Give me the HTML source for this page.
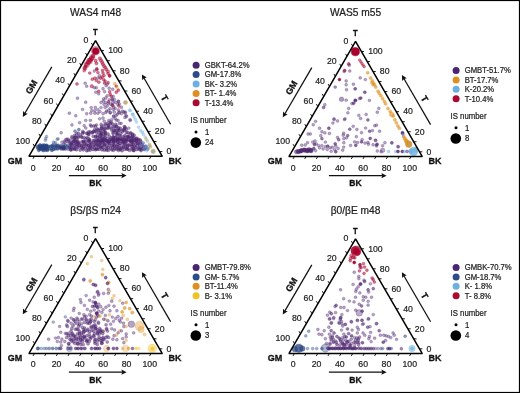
<!DOCTYPE html>
<html><head><meta charset="utf-8"><style>
html,body{margin:0;padding:0;background:#fff;}
body{width:520px;height:393px;overflow:hidden;}
svg{display:block;font-family:"Liberation Sans", sans-serif;will-change:transform;}
</style></head><body>
<svg width="520" height="393" viewBox="0 0 520 393">
<rect x="0" y="0" width="520" height="393" fill="#fff"/>
<g transform="translate(0 0)">
<text x="95.6" y="15.8" font-size="10.2" text-anchor="middle" fill="#222" stroke="#222" stroke-width="0.22">WAS4 m48</text>
<g stroke-width="0.6">
<circle cx="95.65" cy="50.78" r="4.3" fill="#a8002c" fill-opacity="0.42" stroke="#a8002c" stroke-opacity="0.42"/>
<circle cx="95.65" cy="51.16" r="3.2" fill="#a8002c" fill-opacity="1" stroke="#a8002c" stroke-opacity="1"/>
<circle cx="92.21" cy="57.27" r="2.7" fill="#a8002c" fill-opacity="0.32" stroke="#a8002c" stroke-opacity="0.32"/>
<circle cx="89.54" cy="61.08" r="3.1" fill="#a8002c" fill-opacity="0.32" stroke="#a8002c" stroke-opacity="0.32"/>
<circle cx="86.87" cy="64.52" r="2.9" fill="#a8002c" fill-opacity="0.32" stroke="#a8002c" stroke-opacity="0.32"/>
<circle cx="84.96" cy="67.95" r="2.3" fill="#a8002c" fill-opacity="0.32" stroke="#a8002c" stroke-opacity="0.32"/>
<circle cx="92.98" cy="56.12" r="1.9" fill="#a8002c" fill-opacity="0.64" stroke="#a8002c" stroke-opacity="0.64"/>
<circle cx="91.45" cy="58.41" r="2.2" fill="#a8002c" fill-opacity="0.64" stroke="#a8002c" stroke-opacity="0.64"/>
<circle cx="89.92" cy="60.32" r="2.3" fill="#a8002c" fill-opacity="0.64" stroke="#a8002c" stroke-opacity="0.64"/>
<circle cx="88.4" cy="62.23" r="2.2" fill="#a8002c" fill-opacity="0.6" stroke="#a8002c" stroke-opacity="0.6"/>
<circle cx="86.49" cy="64.52" r="1.9" fill="#a8002c" fill-opacity="0.55" stroke="#a8002c" stroke-opacity="0.55"/>
<circle cx="85.34" cy="66.81" r="1.7" fill="#a8002c" fill-opacity="0.51" stroke="#a8002c" stroke-opacity="0.51"/>
<circle cx="84.58" cy="68.72" r="1.6" fill="#a8002c" fill-opacity="0.47" stroke="#a8002c" stroke-opacity="0.47"/>
<circle cx="84.2" cy="70.63" r="1.5" fill="#a8002c" fill-opacity="0.42" stroke="#a8002c" stroke-opacity="0.42"/>
<circle cx="95.65" cy="60.7" r="1.6" fill="#a8002c" fill-opacity="0.53" stroke="#a8002c" stroke-opacity="0.53"/>
<circle cx="96.41" cy="63.37" r="1.6" fill="#a8002c" fill-opacity="0.53" stroke="#a8002c" stroke-opacity="0.53"/>
<circle cx="96.79" cy="68.72" r="1.5" fill="#a8002c" fill-opacity="0.48" stroke="#a8002c" stroke-opacity="0.48"/>
<circle cx="99.85" cy="58.41" r="1.7" fill="#a8002c" fill-opacity="0.48" stroke="#a8002c" stroke-opacity="0.48"/>
<circle cx="100.99" cy="60.32" r="1.7" fill="#a8002c" fill-opacity="0.48" stroke="#a8002c" stroke-opacity="0.48"/>
<circle cx="102.14" cy="62.23" r="1.7" fill="#a8002c" fill-opacity="0.48" stroke="#a8002c" stroke-opacity="0.48"/>
<circle cx="102.9" cy="64.14" r="1.7" fill="#a8002c" fill-opacity="0.48" stroke="#a8002c" stroke-opacity="0.48"/>
<circle cx="104.05" cy="66.05" r="1.7" fill="#a8002c" fill-opacity="0.48" stroke="#a8002c" stroke-opacity="0.48"/>
<circle cx="105.19" cy="67.57" r="1.7" fill="#a8002c" fill-opacity="0.48" stroke="#a8002c" stroke-opacity="0.48"/>
<circle cx="106.34" cy="69.48" r="1.7" fill="#a8002c" fill-opacity="0.48" stroke="#a8002c" stroke-opacity="0.48"/>
<circle cx="107.86" cy="71.39" r="1.7" fill="#a8002c" fill-opacity="0.48" stroke="#a8002c" stroke-opacity="0.48"/>
<circle cx="89.77" cy="73.1" r="1.45" fill="#a8002c" fill-opacity="0.53" stroke="#a8002c" stroke-opacity="0.53"/>
<circle cx="96.89" cy="69.53" r="1.45" fill="#a8002c" fill-opacity="0.53" stroke="#a8002c" stroke-opacity="0.53"/>
<circle cx="97.91" cy="72.59" r="1.45" fill="#a8002c" fill-opacity="0.53" stroke="#a8002c" stroke-opacity="0.53"/>
<circle cx="108.1" cy="73.6" r="1.45" fill="#a8002c" fill-opacity="0.53" stroke="#a8002c" stroke-opacity="0.53"/>
<circle cx="109.62" cy="75.64" r="1.45" fill="#a8002c" fill-opacity="0.53" stroke="#a8002c" stroke-opacity="0.53"/>
<circle cx="102.49" cy="70.55" r="1.45" fill="#a8002c" fill-opacity="0.53" stroke="#a8002c" stroke-opacity="0.53"/>
<circle cx="103" cy="73.1" r="1.45" fill="#a8002c" fill-opacity="0.53" stroke="#a8002c" stroke-opacity="0.53"/>
<circle cx="104.02" cy="75.64" r="1.45" fill="#a8002c" fill-opacity="0.53" stroke="#a8002c" stroke-opacity="0.53"/>
<circle cx="100.46" cy="78.19" r="1.45" fill="#a8002c" fill-opacity="0.53" stroke="#a8002c" stroke-opacity="0.53"/>
<circle cx="94.86" cy="78.19" r="1.45" fill="#a8002c" fill-opacity="0.53" stroke="#a8002c" stroke-opacity="0.53"/>
<circle cx="92.31" cy="79.21" r="1.45" fill="#a8002c" fill-opacity="0.53" stroke="#a8002c" stroke-opacity="0.53"/>
<circle cx="94.35" cy="71.06" r="1.45" fill="#4e2670" fill-opacity="0.42" stroke="#4e2670" stroke-opacity="0.42"/>
<circle cx="99.44" cy="75.64" r="1.45" fill="#4e2670" fill-opacity="0.42" stroke="#4e2670" stroke-opacity="0.42"/>
<circle cx="76.99" cy="83.96" r="1.45" fill="#a8002c" fill-opacity="0.53" stroke="#a8002c" stroke-opacity="0.53"/>
<circle cx="85.13" cy="83.15" r="1.45" fill="#4e2670" fill-opacity="0.42" stroke="#4e2670" stroke-opacity="0.42"/>
<circle cx="86.66" cy="86.2" r="1.45" fill="#4e2670" fill-opacity="0.42" stroke="#4e2670" stroke-opacity="0.42"/>
<circle cx="91.75" cy="86.2" r="1.7" fill="#a8002c" fill-opacity="0.53" stroke="#a8002c" stroke-opacity="0.53"/>
<circle cx="96.33" cy="80.6" r="1.45" fill="#a8002c" fill-opacity="0.53" stroke="#a8002c" stroke-opacity="0.53"/>
<circle cx="97.86" cy="78.05" r="1.45" fill="#4e2670" fill-opacity="0.42" stroke="#4e2670" stroke-opacity="0.42"/>
<circle cx="98.88" cy="82.13" r="1.45" fill="#a8002c" fill-opacity="0.53" stroke="#a8002c" stroke-opacity="0.53"/>
<circle cx="94.3" cy="87.73" r="1.45" fill="#4e2670" fill-opacity="0.42" stroke="#4e2670" stroke-opacity="0.42"/>
<circle cx="96.33" cy="87.73" r="1.45" fill="#4e2670" fill-opacity="0.42" stroke="#4e2670" stroke-opacity="0.42"/>
<circle cx="95.82" cy="92.31" r="1.45" fill="#4e2670" fill-opacity="0.42" stroke="#4e2670" stroke-opacity="0.42"/>
<circle cx="98.68" cy="91.29" r="1.45" fill="#a8002c" fill-opacity="0.53" stroke="#a8002c" stroke-opacity="0.53"/>
<circle cx="98.68" cy="93.84" r="1.45" fill="#4e2670" fill-opacity="0.42" stroke="#4e2670" stroke-opacity="0.42"/>
<circle cx="77.49" cy="98.22" r="1.45" fill="#4e2670" fill-opacity="0.42" stroke="#4e2670" stroke-opacity="0.42"/>
<circle cx="85.64" cy="102.29" r="1.45" fill="#4e2670" fill-opacity="0.42" stroke="#4e2670" stroke-opacity="0.42"/>
<circle cx="82.59" cy="109.42" r="1.45" fill="#4e2670" fill-opacity="0.42" stroke="#4e2670" stroke-opacity="0.42"/>
<circle cx="91.24" cy="107.59" r="1.45" fill="#4e2670" fill-opacity="0.42" stroke="#4e2670" stroke-opacity="0.42"/>
<circle cx="95.32" cy="107.38" r="1.45" fill="#4e2670" fill-opacity="0.42" stroke="#4e2670" stroke-opacity="0.42"/>
<circle cx="91.75" cy="110.64" r="1.45" fill="#4e2670" fill-opacity="0.42" stroke="#4e2670" stroke-opacity="0.42"/>
<circle cx="94.81" cy="110.64" r="1.45" fill="#4e2670" fill-opacity="0.42" stroke="#4e2670" stroke-opacity="0.42"/>
<circle cx="97.86" cy="109.62" r="1.45" fill="#4e2670" fill-opacity="0.42" stroke="#4e2670" stroke-opacity="0.42"/>
<circle cx="69.35" cy="113.19" r="1.45" fill="#4e2670" fill-opacity="0.42" stroke="#4e2670" stroke-opacity="0.42"/>
<circle cx="86.66" cy="113.7" r="1.45" fill="#4e2670" fill-opacity="0.42" stroke="#4e2670" stroke-opacity="0.42"/>
<circle cx="90.73" cy="113.19" r="1.45" fill="#4e2670" fill-opacity="0.42" stroke="#4e2670" stroke-opacity="0.42"/>
<circle cx="94.81" cy="113.19" r="1.45" fill="#4e2670" fill-opacity="0.42" stroke="#4e2670" stroke-opacity="0.42"/>
<circle cx="97.86" cy="113.19" r="1.45" fill="#4e2670" fill-opacity="0.42" stroke="#4e2670" stroke-opacity="0.42"/>
<circle cx="102.04" cy="77.04" r="1.45" fill="#a8002c" fill-opacity="0.53" stroke="#a8002c" stroke-opacity="0.53"/>
<circle cx="103.56" cy="79.58" r="1.45" fill="#a8002c" fill-opacity="0.53" stroke="#a8002c" stroke-opacity="0.53"/>
<circle cx="105.09" cy="81.11" r="1.45" fill="#a8002c" fill-opacity="0.53" stroke="#a8002c" stroke-opacity="0.53"/>
<circle cx="109.67" cy="76.02" r="1.45" fill="#a8002c" fill-opacity="0.53" stroke="#a8002c" stroke-opacity="0.53"/>
<circle cx="104.58" cy="83.15" r="1.45" fill="#a8002c" fill-opacity="0.53" stroke="#a8002c" stroke-opacity="0.53"/>
<circle cx="107.13" cy="84.16" r="1.45" fill="#4e2670" fill-opacity="0.42" stroke="#4e2670" stroke-opacity="0.42"/>
<circle cx="108.15" cy="82.64" r="1.45" fill="#a8002c" fill-opacity="0.53" stroke="#a8002c" stroke-opacity="0.53"/>
<circle cx="106.11" cy="85.69" r="1.45" fill="#4e2670" fill-opacity="0.42" stroke="#4e2670" stroke-opacity="0.42"/>
<circle cx="114.77" cy="83.66" r="1.45" fill="#e08f1e" fill-opacity="0.51" stroke="#e08f1e" stroke-opacity="0.51"/>
<circle cx="116.29" cy="86.2" r="1.45" fill="#a8002c" fill-opacity="0.53" stroke="#a8002c" stroke-opacity="0.53"/>
<circle cx="117.31" cy="88.24" r="1.45" fill="#f0c228" fill-opacity="0.47" stroke="#f0c228" stroke-opacity="0.47"/>
<circle cx="118.33" cy="90.27" r="1.45" fill="#a8002c" fill-opacity="0.53" stroke="#a8002c" stroke-opacity="0.53"/>
<circle cx="116.29" cy="92.31" r="1.45" fill="#a8002c" fill-opacity="0.53" stroke="#a8002c" stroke-opacity="0.53"/>
<circle cx="103.05" cy="88.75" r="1.45" fill="#4e2670" fill-opacity="0.42" stroke="#4e2670" stroke-opacity="0.42"/>
<circle cx="104.58" cy="91.8" r="1.45" fill="#4e2670" fill-opacity="0.42" stroke="#4e2670" stroke-opacity="0.42"/>
<circle cx="109.16" cy="88.24" r="1.45" fill="#4e2670" fill-opacity="0.42" stroke="#4e2670" stroke-opacity="0.42"/>
<circle cx="112.73" cy="89.26" r="1.45" fill="#4e2670" fill-opacity="0.42" stroke="#4e2670" stroke-opacity="0.42"/>
<circle cx="109.67" cy="91.8" r="1.45" fill="#a8002c" fill-opacity="0.53" stroke="#a8002c" stroke-opacity="0.53"/>
<circle cx="110.18" cy="94.35" r="1.45" fill="#a8002c" fill-opacity="0.53" stroke="#a8002c" stroke-opacity="0.53"/>
<circle cx="107.13" cy="95.88" r="1.45" fill="#4e2670" fill-opacity="0.42" stroke="#4e2670" stroke-opacity="0.42"/>
<circle cx="111.2" cy="96.38" r="1.45" fill="#a8002c" fill-opacity="0.53" stroke="#a8002c" stroke-opacity="0.53"/>
<circle cx="113.24" cy="96.38" r="1.45" fill="#4e2670" fill-opacity="0.42" stroke="#4e2670" stroke-opacity="0.42"/>
<circle cx="103.56" cy="98.93" r="1.45" fill="#4e2670" fill-opacity="0.42" stroke="#4e2670" stroke-opacity="0.42"/>
<circle cx="109.16" cy="99.95" r="1.45" fill="#4e2670" fill-opacity="0.42" stroke="#4e2670" stroke-opacity="0.42"/>
<circle cx="108.66" cy="101.99" r="1.45" fill="#a8002c" fill-opacity="0.53" stroke="#a8002c" stroke-opacity="0.53"/>
<circle cx="112.22" cy="99.95" r="1.45" fill="#4e2670" fill-opacity="0.42" stroke="#4e2670" stroke-opacity="0.42"/>
<circle cx="115.27" cy="102.49" r="1.45" fill="#4e2670" fill-opacity="0.42" stroke="#4e2670" stroke-opacity="0.42"/>
<circle cx="118.33" cy="101.48" r="1.45" fill="#4e2670" fill-opacity="0.42" stroke="#4e2670" stroke-opacity="0.42"/>
<circle cx="119.35" cy="104.02" r="1.45" fill="#4e2670" fill-opacity="0.42" stroke="#4e2670" stroke-opacity="0.42"/>
<circle cx="118.84" cy="106.06" r="1.45" fill="#a8002c" fill-opacity="0.53" stroke="#a8002c" stroke-opacity="0.53"/>
<circle cx="101.02" cy="102.49" r="1.45" fill="#4e2670" fill-opacity="0.42" stroke="#4e2670" stroke-opacity="0.42"/>
<circle cx="104.07" cy="104.53" r="1.45" fill="#4e2670" fill-opacity="0.42" stroke="#4e2670" stroke-opacity="0.42"/>
<circle cx="107.13" cy="106.06" r="1.45" fill="#4e2670" fill-opacity="0.42" stroke="#4e2670" stroke-opacity="0.42"/>
<circle cx="112.22" cy="105.04" r="1.45" fill="#4e2670" fill-opacity="0.42" stroke="#4e2670" stroke-opacity="0.42"/>
<circle cx="112.73" cy="105.55" r="1.45" fill="#a8002c" fill-opacity="0.53" stroke="#a8002c" stroke-opacity="0.53"/>
<circle cx="101.02" cy="107.59" r="1.45" fill="#4e2670" fill-opacity="0.42" stroke="#4e2670" stroke-opacity="0.42"/>
<circle cx="105.09" cy="107.59" r="1.45" fill="#4e2670" fill-opacity="0.42" stroke="#4e2670" stroke-opacity="0.42"/>
<circle cx="110.18" cy="108.6" r="1.45" fill="#4e2670" fill-opacity="0.42" stroke="#4e2670" stroke-opacity="0.42"/>
<circle cx="113.24" cy="109.62" r="1.45" fill="#4e2670" fill-opacity="0.42" stroke="#4e2670" stroke-opacity="0.42"/>
<circle cx="115.27" cy="108.6" r="1.45" fill="#4e2670" fill-opacity="0.42" stroke="#4e2670" stroke-opacity="0.42"/>
<circle cx="106.62" cy="111.15" r="1.45" fill="#4e2670" fill-opacity="0.42" stroke="#4e2670" stroke-opacity="0.42"/>
<circle cx="110.18" cy="112.68" r="1.45" fill="#4e2670" fill-opacity="0.42" stroke="#4e2670" stroke-opacity="0.42"/>
<circle cx="114.26" cy="112.17" r="1.45" fill="#4e2670" fill-opacity="0.42" stroke="#4e2670" stroke-opacity="0.42"/>
<circle cx="119.35" cy="112.17" r="1.45" fill="#4e2670" fill-opacity="0.42" stroke="#4e2670" stroke-opacity="0.42"/>
<circle cx="122.4" cy="111.15" r="1.45" fill="#4e2670" fill-opacity="0.42" stroke="#4e2670" stroke-opacity="0.42"/>
<circle cx="125.46" cy="112.17" r="1.45" fill="#4e2670" fill-opacity="0.42" stroke="#4e2670" stroke-opacity="0.42"/>
<circle cx="121.38" cy="113.7" r="1.45" fill="#4e2670" fill-opacity="0.42" stroke="#4e2670" stroke-opacity="0.42"/>
<circle cx="117.31" cy="114.21" r="1.45" fill="#4e2670" fill-opacity="0.42" stroke="#4e2670" stroke-opacity="0.42"/>
<circle cx="103.05" cy="113.7" r="1.45" fill="#4e2670" fill-opacity="0.42" stroke="#4e2670" stroke-opacity="0.42"/>
<circle cx="100" cy="111.66" r="1.45" fill="#4e2670" fill-opacity="0.42" stroke="#4e2670" stroke-opacity="0.42"/>
<circle cx="125.46" cy="102.49" r="2.1" fill="#e08f1e" fill-opacity="0.61" stroke="#e08f1e" stroke-opacity="0.61"/>
<circle cx="125.46" cy="102.49" r="1.2" fill="#6cb0e2" fill-opacity="0.51" stroke="#6cb0e2" stroke-opacity="0.51"/>
<circle cx="129.53" cy="110.13" r="1.45" fill="#6cb0e2" fill-opacity="0.42" stroke="#6cb0e2" stroke-opacity="0.42"/>
<circle cx="132.59" cy="114.21" r="1.45" fill="#6cb0e2" fill-opacity="0.42" stroke="#6cb0e2" stroke-opacity="0.42"/>
<circle cx="75.77" cy="115.77" r="1.45" fill="#4e2670" fill-opacity="0.42" stroke="#4e2670" stroke-opacity="0.42"/>
<circle cx="71.92" cy="125" r="1.45" fill="#4e2670" fill-opacity="0.42" stroke="#4e2670" stroke-opacity="0.42"/>
<circle cx="61.15" cy="132.69" r="1.45" fill="#4e2670" fill-opacity="0.42" stroke="#4e2670" stroke-opacity="0.42"/>
<circle cx="79.62" cy="122.69" r="1.45" fill="#4e2670" fill-opacity="0.42" stroke="#4e2670" stroke-opacity="0.42"/>
<circle cx="85.77" cy="120.38" r="1.45" fill="#4e2670" fill-opacity="0.42" stroke="#4e2670" stroke-opacity="0.42"/>
<circle cx="90.38" cy="120.38" r="1.45" fill="#4e2670" fill-opacity="0.42" stroke="#4e2670" stroke-opacity="0.42"/>
<circle cx="99.62" cy="118.85" r="1.45" fill="#4e2670" fill-opacity="0.42" stroke="#4e2670" stroke-opacity="0.42"/>
<circle cx="96.54" cy="125" r="1.45" fill="#4e2670" fill-opacity="0.42" stroke="#4e2670" stroke-opacity="0.42"/>
<circle cx="101.15" cy="124.23" r="1.45" fill="#4e2670" fill-opacity="0.42" stroke="#4e2670" stroke-opacity="0.42"/>
<circle cx="104.23" cy="121.15" r="1.45" fill="#4e2670" fill-opacity="0.42" stroke="#4e2670" stroke-opacity="0.42"/>
<circle cx="126.54" cy="116.54" r="1.45" fill="#4e2670" fill-opacity="0.42" stroke="#4e2670" stroke-opacity="0.42"/>
<circle cx="130.38" cy="120.38" r="1.45" fill="#4e2670" fill-opacity="0.42" stroke="#4e2670" stroke-opacity="0.42"/>
<circle cx="113.46" cy="116.54" r="1.45" fill="#4e2670" fill-opacity="0.42" stroke="#4e2670" stroke-opacity="0.42"/>
<circle cx="118.08" cy="120.38" r="1.45" fill="#4e2670" fill-opacity="0.42" stroke="#4e2670" stroke-opacity="0.42"/>
<circle cx="121.15" cy="123.46" r="1.45" fill="#4e2670" fill-opacity="0.42" stroke="#4e2670" stroke-opacity="0.42"/>
<circle cx="108.85" cy="125" r="1.45" fill="#4e2670" fill-opacity="0.42" stroke="#4e2670" stroke-opacity="0.42"/>
<circle cx="90.38" cy="125" r="1.45" fill="#4e2670" fill-opacity="0.42" stroke="#4e2670" stroke-opacity="0.42"/>
<circle cx="84.23" cy="125.77" r="1.45" fill="#4e2670" fill-opacity="0.42" stroke="#4e2670" stroke-opacity="0.42"/>
<circle cx="93.46" cy="131.15" r="1.45" fill="#4e2670" fill-opacity="0.42" stroke="#4e2670" stroke-opacity="0.42"/>
<circle cx="87.31" cy="133.46" r="1.45" fill="#4e2670" fill-opacity="0.42" stroke="#4e2670" stroke-opacity="0.42"/>
<circle cx="80.38" cy="135" r="1.45" fill="#4e2670" fill-opacity="0.42" stroke="#4e2670" stroke-opacity="0.42"/>
<circle cx="75" cy="137.31" r="1.45" fill="#4e2670" fill-opacity="0.42" stroke="#4e2670" stroke-opacity="0.42"/>
<circle cx="70.38" cy="140.38" r="1.45" fill="#4e2670" fill-opacity="0.42" stroke="#4e2670" stroke-opacity="0.42"/>
<circle cx="65.77" cy="139.62" r="1.45" fill="#4e2670" fill-opacity="0.42" stroke="#4e2670" stroke-opacity="0.42"/>
<circle cx="58.08" cy="138.85" r="1.45" fill="#27437f" fill-opacity="0.3" stroke="#27437f" stroke-opacity="0.3"/>
<circle cx="75" cy="131.15" r="1.45" fill="#27437f" fill-opacity="0.51" stroke="#27437f" stroke-opacity="0.51"/>
<circle cx="78.85" cy="129.62" r="1.45" fill="#27437f" fill-opacity="0.59" stroke="#27437f" stroke-opacity="0.59"/>
<circle cx="85.77" cy="128.08" r="1.45" fill="#4e2670" fill-opacity="0.42" stroke="#4e2670" stroke-opacity="0.42"/>
<circle cx="104.23" cy="129.62" r="1.45" fill="#4e2670" fill-opacity="0.42" stroke="#4e2670" stroke-opacity="0.42"/>
<circle cx="111.92" cy="128.08" r="1.45" fill="#4e2670" fill-opacity="0.42" stroke="#4e2670" stroke-opacity="0.42"/>
<circle cx="116.54" cy="126.54" r="1.45" fill="#4e2670" fill-opacity="0.42" stroke="#4e2670" stroke-opacity="0.42"/>
<circle cx="124.23" cy="126.54" r="1.45" fill="#4e2670" fill-opacity="0.42" stroke="#4e2670" stroke-opacity="0.42"/>
<circle cx="128.85" cy="128.08" r="1.45" fill="#4e2670" fill-opacity="0.42" stroke="#4e2670" stroke-opacity="0.42"/>
<circle cx="98.08" cy="129.62" r="1.45" fill="#4e2670" fill-opacity="0.42" stroke="#4e2670" stroke-opacity="0.42"/>
<circle cx="101.15" cy="134.23" r="1.45" fill="#4e2670" fill-opacity="0.42" stroke="#4e2670" stroke-opacity="0.42"/>
<circle cx="40.04" cy="144.92" r="1.5" fill="#27437f" fill-opacity="0.68" stroke="#27437f" stroke-opacity="0.68"/>
<circle cx="42.53" cy="145.29" r="1.5" fill="#27437f" fill-opacity="0.68" stroke="#27437f" stroke-opacity="0.68"/>
<circle cx="44.23" cy="145.06" r="1.5" fill="#27437f" fill-opacity="0.68" stroke="#27437f" stroke-opacity="0.68"/>
<circle cx="46.68" cy="145.23" r="1.5" fill="#27437f" fill-opacity="0.68" stroke="#27437f" stroke-opacity="0.68"/>
<circle cx="52.88" cy="145.11" r="1.5" fill="#27437f" fill-opacity="0.68" stroke="#27437f" stroke-opacity="0.68"/>
<circle cx="55.94" cy="145.19" r="1.5" fill="#27437f" fill-opacity="0.68" stroke="#27437f" stroke-opacity="0.68"/>
<circle cx="58.06" cy="145.31" r="1.5" fill="#27437f" fill-opacity="0.68" stroke="#27437f" stroke-opacity="0.68"/>
<circle cx="39.31" cy="147.04" r="1.5" fill="#27437f" fill-opacity="0.68" stroke="#27437f" stroke-opacity="0.68"/>
<circle cx="41.31" cy="146.57" r="1.5" fill="#27437f" fill-opacity="0.68" stroke="#27437f" stroke-opacity="0.68"/>
<circle cx="43.6" cy="147.19" r="1.5" fill="#27437f" fill-opacity="0.68" stroke="#27437f" stroke-opacity="0.68"/>
<circle cx="46.13" cy="147.29" r="1.5" fill="#27437f" fill-opacity="0.68" stroke="#27437f" stroke-opacity="0.68"/>
<circle cx="48.14" cy="146.5" r="1.5" fill="#27437f" fill-opacity="0.68" stroke="#27437f" stroke-opacity="0.68"/>
<circle cx="50.36" cy="146.36" r="1.5" fill="#27437f" fill-opacity="0.68" stroke="#27437f" stroke-opacity="0.68"/>
<circle cx="52.04" cy="146.18" r="1.5" fill="#27437f" fill-opacity="0.68" stroke="#27437f" stroke-opacity="0.68"/>
<circle cx="54.01" cy="147.07" r="1.5" fill="#27437f" fill-opacity="0.68" stroke="#27437f" stroke-opacity="0.68"/>
<circle cx="56.12" cy="146.62" r="1.5" fill="#27437f" fill-opacity="0.68" stroke="#27437f" stroke-opacity="0.68"/>
<circle cx="58.35" cy="146.84" r="1.5" fill="#27437f" fill-opacity="0.68" stroke="#27437f" stroke-opacity="0.68"/>
<circle cx="61.16" cy="147.21" r="1.5" fill="#27437f" fill-opacity="0.68" stroke="#27437f" stroke-opacity="0.68"/>
<circle cx="63.9" cy="146.48" r="1.5" fill="#27437f" fill-opacity="0.68" stroke="#27437f" stroke-opacity="0.68"/>
<circle cx="40.43" cy="149.19" r="1.5" fill="#27437f" fill-opacity="0.68" stroke="#27437f" stroke-opacity="0.68"/>
<circle cx="42.95" cy="149.09" r="1.5" fill="#27437f" fill-opacity="0.68" stroke="#27437f" stroke-opacity="0.68"/>
<circle cx="45.04" cy="148.47" r="1.5" fill="#27437f" fill-opacity="0.68" stroke="#27437f" stroke-opacity="0.68"/>
<circle cx="46.94" cy="149.14" r="1.5" fill="#27437f" fill-opacity="0.68" stroke="#27437f" stroke-opacity="0.68"/>
<circle cx="49.16" cy="148.87" r="1.5" fill="#27437f" fill-opacity="0.68" stroke="#27437f" stroke-opacity="0.68"/>
<circle cx="51.77" cy="148.64" r="1.5" fill="#27437f" fill-opacity="0.68" stroke="#27437f" stroke-opacity="0.68"/>
<circle cx="53.75" cy="149.2" r="1.5" fill="#27437f" fill-opacity="0.68" stroke="#27437f" stroke-opacity="0.68"/>
<circle cx="55.74" cy="148.77" r="1.5" fill="#27437f" fill-opacity="0.68" stroke="#27437f" stroke-opacity="0.68"/>
<circle cx="57.76" cy="148.83" r="1.5" fill="#27437f" fill-opacity="0.68" stroke="#27437f" stroke-opacity="0.68"/>
<circle cx="60.29" cy="148.04" r="1.5" fill="#27437f" fill-opacity="0.68" stroke="#27437f" stroke-opacity="0.68"/>
<circle cx="62.76" cy="148.31" r="1.5" fill="#27437f" fill-opacity="0.68" stroke="#27437f" stroke-opacity="0.68"/>
<circle cx="64.01" cy="148.23" r="1.5" fill="#27437f" fill-opacity="0.68" stroke="#27437f" stroke-opacity="0.68"/>
<circle cx="38.86" cy="150.37" r="1.5" fill="#27437f" fill-opacity="0.68" stroke="#27437f" stroke-opacity="0.68"/>
<circle cx="43.06" cy="150.52" r="1.5" fill="#27437f" fill-opacity="0.68" stroke="#27437f" stroke-opacity="0.68"/>
<circle cx="45.39" cy="150.14" r="1.5" fill="#27437f" fill-opacity="0.68" stroke="#27437f" stroke-opacity="0.68"/>
<circle cx="47.42" cy="150.3" r="1.5" fill="#27437f" fill-opacity="0.68" stroke="#27437f" stroke-opacity="0.68"/>
<circle cx="51.9" cy="150.32" r="1.5" fill="#27437f" fill-opacity="0.68" stroke="#27437f" stroke-opacity="0.68"/>
<circle cx="38.59" cy="147.28" r="2.6" fill="#27437f" fill-opacity="0.68" stroke="#27437f" stroke-opacity="0.68"/>
<circle cx="40.16" cy="147.28" r="2.6" fill="#27437f" fill-opacity="0.68" stroke="#27437f" stroke-opacity="0.68"/>
<circle cx="41.33" cy="147.44" r="2.6" fill="#27437f" fill-opacity="0.68" stroke="#27437f" stroke-opacity="0.68"/>
<circle cx="43.45" cy="147.72" r="2.6" fill="#27437f" fill-opacity="0.68" stroke="#27437f" stroke-opacity="0.68"/>
<circle cx="44.77" cy="147.22" r="2.6" fill="#27437f" fill-opacity="0.68" stroke="#27437f" stroke-opacity="0.68"/>
<circle cx="46.03" cy="147.22" r="2.6" fill="#27437f" fill-opacity="0.68" stroke="#27437f" stroke-opacity="0.68"/>
<circle cx="70.13" cy="143.18" r="1.5" fill="#27437f" fill-opacity="0.51" stroke="#27437f" stroke-opacity="0.51"/>
<circle cx="61.05" cy="145.52" r="1.5" fill="#27437f" fill-opacity="0.51" stroke="#27437f" stroke-opacity="0.51"/>
<circle cx="63.69" cy="144.49" r="1.5" fill="#27437f" fill-opacity="0.51" stroke="#27437f" stroke-opacity="0.51"/>
<circle cx="65.62" cy="145.52" r="1.5" fill="#27437f" fill-opacity="0.51" stroke="#27437f" stroke-opacity="0.51"/>
<circle cx="67.97" cy="145.22" r="1.5" fill="#27437f" fill-opacity="0.51" stroke="#27437f" stroke-opacity="0.51"/>
<circle cx="71.37" cy="144.48" r="1.5" fill="#27437f" fill-opacity="0.51" stroke="#27437f" stroke-opacity="0.51"/>
<circle cx="60.45" cy="146.9" r="1.5" fill="#4e2670" fill-opacity="0.51" stroke="#4e2670" stroke-opacity="0.51"/>
<circle cx="62.85" cy="147.31" r="1.5" fill="#4e2670" fill-opacity="0.51" stroke="#4e2670" stroke-opacity="0.51"/>
<circle cx="64.44" cy="147.71" r="1.5" fill="#27437f" fill-opacity="0.51" stroke="#27437f" stroke-opacity="0.51"/>
<circle cx="67.03" cy="146.76" r="1.5" fill="#27437f" fill-opacity="0.51" stroke="#27437f" stroke-opacity="0.51"/>
<circle cx="69.4" cy="147.54" r="1.5" fill="#4e2670" fill-opacity="0.51" stroke="#4e2670" stroke-opacity="0.51"/>
<circle cx="61.41" cy="149.04" r="1.5" fill="#27437f" fill-opacity="0.51" stroke="#27437f" stroke-opacity="0.51"/>
<circle cx="63.58" cy="149.01" r="1.5" fill="#4e2670" fill-opacity="0.51" stroke="#4e2670" stroke-opacity="0.51"/>
<circle cx="65.61" cy="148.94" r="1.5" fill="#4e2670" fill-opacity="0.51" stroke="#4e2670" stroke-opacity="0.51"/>
<circle cx="68.23" cy="149.12" r="1.5" fill="#27437f" fill-opacity="0.51" stroke="#27437f" stroke-opacity="0.51"/>
<circle cx="70.64" cy="149.33" r="1.5" fill="#27437f" fill-opacity="0.51" stroke="#27437f" stroke-opacity="0.51"/>
<circle cx="46.54" cy="136.54" r="1.45" fill="#27437f" fill-opacity="0.34" stroke="#27437f" stroke-opacity="0.34"/>
<circle cx="45.77" cy="138.46" r="1.45" fill="#27437f" fill-opacity="0.34" stroke="#27437f" stroke-opacity="0.34"/>
<circle cx="45.38" cy="140.38" r="1.45" fill="#27437f" fill-opacity="0.34" stroke="#27437f" stroke-opacity="0.34"/>
<circle cx="57.31" cy="139.23" r="1.45" fill="#27437f" fill-opacity="0.38" stroke="#27437f" stroke-opacity="0.38"/>
<circle cx="53.46" cy="142.31" r="1.45" fill="#27437f" fill-opacity="0.38" stroke="#27437f" stroke-opacity="0.38"/>
<circle cx="55.38" cy="142.69" r="1.45" fill="#27437f" fill-opacity="0.42" stroke="#27437f" stroke-opacity="0.42"/>
<circle cx="61.92" cy="142.31" r="1.45" fill="#4e2670" fill-opacity="0.38" stroke="#4e2670" stroke-opacity="0.38"/>
<circle cx="64.23" cy="141.15" r="1.45" fill="#4e2670" fill-opacity="0.38" stroke="#4e2670" stroke-opacity="0.38"/>
<circle cx="66.54" cy="139.23" r="1.45" fill="#4e2670" fill-opacity="0.38" stroke="#4e2670" stroke-opacity="0.38"/>
<circle cx="68.85" cy="140.77" r="1.45" fill="#4e2670" fill-opacity="0.42" stroke="#4e2670" stroke-opacity="0.42"/>
<circle cx="71.92" cy="136.54" r="1.45" fill="#4e2670" fill-opacity="0.38" stroke="#4e2670" stroke-opacity="0.38"/>
<circle cx="136.18" cy="138.66" r="1.5" fill="#4e2670" fill-opacity="0.58" stroke="#4e2670" stroke-opacity="0.58"/>
<circle cx="73.62" cy="140.89" r="1.5" fill="#4e2670" fill-opacity="0.58" stroke="#4e2670" stroke-opacity="0.58"/>
<circle cx="75.29" cy="140.85" r="1.5" fill="#4e2670" fill-opacity="0.58" stroke="#4e2670" stroke-opacity="0.58"/>
<circle cx="89.53" cy="140.5" r="1.5" fill="#4e2670" fill-opacity="0.58" stroke="#4e2670" stroke-opacity="0.58"/>
<circle cx="98.78" cy="140.86" r="1.5" fill="#4e2670" fill-opacity="0.58" stroke="#4e2670" stroke-opacity="0.58"/>
<circle cx="103.3" cy="139.95" r="1.5" fill="#4e2670" fill-opacity="0.58" stroke="#4e2670" stroke-opacity="0.58"/>
<circle cx="105.64" cy="140.23" r="1.5" fill="#4e2670" fill-opacity="0.58" stroke="#4e2670" stroke-opacity="0.58"/>
<circle cx="108.24" cy="140.84" r="1.5" fill="#4e2670" fill-opacity="0.58" stroke="#4e2670" stroke-opacity="0.58"/>
<circle cx="110.6" cy="139.57" r="1.5" fill="#4e2670" fill-opacity="0.58" stroke="#4e2670" stroke-opacity="0.58"/>
<circle cx="112.96" cy="139.38" r="1.5" fill="#4e2670" fill-opacity="0.58" stroke="#4e2670" stroke-opacity="0.58"/>
<circle cx="115.07" cy="140.83" r="1.5" fill="#4e2670" fill-opacity="0.58" stroke="#4e2670" stroke-opacity="0.58"/>
<circle cx="117.48" cy="139.76" r="1.5" fill="#4e2670" fill-opacity="0.58" stroke="#4e2670" stroke-opacity="0.58"/>
<circle cx="120.09" cy="139.2" r="1.5" fill="#4e2670" fill-opacity="0.58" stroke="#4e2670" stroke-opacity="0.58"/>
<circle cx="121.95" cy="139.85" r="1.5" fill="#4e2670" fill-opacity="0.58" stroke="#4e2670" stroke-opacity="0.58"/>
<circle cx="123.29" cy="139.51" r="1.5" fill="#4e2670" fill-opacity="0.58" stroke="#4e2670" stroke-opacity="0.58"/>
<circle cx="126.68" cy="139.53" r="1.5" fill="#4e2670" fill-opacity="0.58" stroke="#4e2670" stroke-opacity="0.58"/>
<circle cx="128.88" cy="139.27" r="1.5" fill="#4e2670" fill-opacity="0.58" stroke="#4e2670" stroke-opacity="0.58"/>
<circle cx="130.88" cy="140.71" r="1.5" fill="#4e2670" fill-opacity="0.58" stroke="#4e2670" stroke-opacity="0.58"/>
<circle cx="133.46" cy="140.76" r="1.5" fill="#4e2670" fill-opacity="0.58" stroke="#4e2670" stroke-opacity="0.58"/>
<circle cx="136.28" cy="140.7" r="1.5" fill="#4e2670" fill-opacity="0.58" stroke="#4e2670" stroke-opacity="0.58"/>
<circle cx="138.37" cy="139.34" r="1.5" fill="#4e2670" fill-opacity="0.58" stroke="#4e2670" stroke-opacity="0.58"/>
<circle cx="140.11" cy="139.88" r="1.5" fill="#4e2670" fill-opacity="0.58" stroke="#4e2670" stroke-opacity="0.58"/>
<circle cx="71.9" cy="142.82" r="1.5" fill="#4e2670" fill-opacity="0.58" stroke="#4e2670" stroke-opacity="0.58"/>
<circle cx="73.76" cy="141.24" r="1.5" fill="#4e2670" fill-opacity="0.58" stroke="#4e2670" stroke-opacity="0.58"/>
<circle cx="76.96" cy="141.14" r="1.5" fill="#4e2670" fill-opacity="0.58" stroke="#4e2670" stroke-opacity="0.58"/>
<circle cx="78.36" cy="142.8" r="1.5" fill="#4e2670" fill-opacity="0.58" stroke="#4e2670" stroke-opacity="0.58"/>
<circle cx="81.86" cy="141.7" r="1.5" fill="#4e2670" fill-opacity="0.58" stroke="#4e2670" stroke-opacity="0.58"/>
<circle cx="83.62" cy="141.33" r="1.5" fill="#4e2670" fill-opacity="0.58" stroke="#4e2670" stroke-opacity="0.58"/>
<circle cx="85.43" cy="141.71" r="1.5" fill="#4e2670" fill-opacity="0.58" stroke="#4e2670" stroke-opacity="0.58"/>
<circle cx="88.45" cy="141.35" r="1.5" fill="#4e2670" fill-opacity="0.58" stroke="#4e2670" stroke-opacity="0.58"/>
<circle cx="90.71" cy="142.61" r="1.5" fill="#4e2670" fill-opacity="0.58" stroke="#4e2670" stroke-opacity="0.58"/>
<circle cx="93.35" cy="142.37" r="1.5" fill="#4e2670" fill-opacity="0.58" stroke="#4e2670" stroke-opacity="0.58"/>
<circle cx="95.76" cy="142.87" r="1.5" fill="#4e2670" fill-opacity="0.58" stroke="#4e2670" stroke-opacity="0.58"/>
<circle cx="98.12" cy="142.11" r="1.5" fill="#4e2670" fill-opacity="0.58" stroke="#4e2670" stroke-opacity="0.58"/>
<circle cx="100.54" cy="142.03" r="1.5" fill="#4e2670" fill-opacity="0.58" stroke="#4e2670" stroke-opacity="0.58"/>
<circle cx="102.59" cy="142.24" r="1.5" fill="#4e2670" fill-opacity="0.58" stroke="#4e2670" stroke-opacity="0.58"/>
<circle cx="104.09" cy="141.42" r="1.5" fill="#4e2670" fill-opacity="0.58" stroke="#4e2670" stroke-opacity="0.58"/>
<circle cx="106.59" cy="141.19" r="1.5" fill="#4e2670" fill-opacity="0.58" stroke="#4e2670" stroke-opacity="0.58"/>
<circle cx="108.41" cy="142.36" r="1.5" fill="#4e2670" fill-opacity="0.58" stroke="#4e2670" stroke-opacity="0.58"/>
<circle cx="111.57" cy="141.19" r="1.5" fill="#4e2670" fill-opacity="0.58" stroke="#4e2670" stroke-opacity="0.58"/>
<circle cx="113.21" cy="142.1" r="1.5" fill="#4e2670" fill-opacity="0.58" stroke="#4e2670" stroke-opacity="0.58"/>
<circle cx="115.27" cy="141.22" r="1.5" fill="#4e2670" fill-opacity="0.58" stroke="#4e2670" stroke-opacity="0.58"/>
<circle cx="117.7" cy="142.27" r="1.5" fill="#4e2670" fill-opacity="0.58" stroke="#4e2670" stroke-opacity="0.58"/>
<circle cx="120.96" cy="141.4" r="1.5" fill="#4e2670" fill-opacity="0.58" stroke="#4e2670" stroke-opacity="0.58"/>
<circle cx="123.35" cy="142.3" r="1.5" fill="#4e2670" fill-opacity="0.58" stroke="#4e2670" stroke-opacity="0.58"/>
<circle cx="124.76" cy="141.5" r="1.5" fill="#4e2670" fill-opacity="0.58" stroke="#4e2670" stroke-opacity="0.58"/>
<circle cx="127.1" cy="141.11" r="1.5" fill="#4e2670" fill-opacity="0.58" stroke="#4e2670" stroke-opacity="0.58"/>
<circle cx="130.3" cy="141.25" r="1.5" fill="#4e2670" fill-opacity="0.58" stroke="#4e2670" stroke-opacity="0.58"/>
<circle cx="131.85" cy="142.33" r="1.5" fill="#4e2670" fill-opacity="0.58" stroke="#4e2670" stroke-opacity="0.58"/>
<circle cx="134.15" cy="142.33" r="1.5" fill="#4e2670" fill-opacity="0.58" stroke="#4e2670" stroke-opacity="0.58"/>
<circle cx="136.42" cy="141.14" r="1.5" fill="#4e2670" fill-opacity="0.58" stroke="#4e2670" stroke-opacity="0.58"/>
<circle cx="138.1" cy="142.57" r="1.5" fill="#4e2670" fill-opacity="0.58" stroke="#4e2670" stroke-opacity="0.58"/>
<circle cx="140.81" cy="141.31" r="1.5" fill="#4e2670" fill-opacity="0.58" stroke="#4e2670" stroke-opacity="0.58"/>
<circle cx="70.74" cy="143.32" r="1.5" fill="#4e2670" fill-opacity="0.58" stroke="#4e2670" stroke-opacity="0.58"/>
<circle cx="73.91" cy="143.26" r="1.5" fill="#4e2670" fill-opacity="0.58" stroke="#4e2670" stroke-opacity="0.58"/>
<circle cx="76.56" cy="144.53" r="1.5" fill="#4e2670" fill-opacity="0.58" stroke="#4e2670" stroke-opacity="0.58"/>
<circle cx="77.42" cy="143.78" r="1.5" fill="#4e2670" fill-opacity="0.58" stroke="#4e2670" stroke-opacity="0.58"/>
<circle cx="79.84" cy="144.23" r="1.5" fill="#4e2670" fill-opacity="0.58" stroke="#4e2670" stroke-opacity="0.58"/>
<circle cx="83.32" cy="144.61" r="1.5" fill="#4e2670" fill-opacity="0.58" stroke="#4e2670" stroke-opacity="0.58"/>
<circle cx="84.62" cy="143.59" r="1.5" fill="#4e2670" fill-opacity="0.58" stroke="#4e2670" stroke-opacity="0.58"/>
<circle cx="86.75" cy="144.48" r="1.5" fill="#4e2670" fill-opacity="0.58" stroke="#4e2670" stroke-opacity="0.58"/>
<circle cx="89.77" cy="144.46" r="1.5" fill="#4e2670" fill-opacity="0.58" stroke="#4e2670" stroke-opacity="0.58"/>
<circle cx="91.3" cy="143.82" r="1.5" fill="#4e2670" fill-opacity="0.58" stroke="#4e2670" stroke-opacity="0.58"/>
<circle cx="94.19" cy="144.79" r="1.5" fill="#4e2670" fill-opacity="0.58" stroke="#4e2670" stroke-opacity="0.58"/>
<circle cx="97.21" cy="144.66" r="1.5" fill="#4e2670" fill-opacity="0.58" stroke="#4e2670" stroke-opacity="0.58"/>
<circle cx="99.41" cy="144.24" r="1.5" fill="#4e2670" fill-opacity="0.58" stroke="#4e2670" stroke-opacity="0.58"/>
<circle cx="100.62" cy="143.15" r="1.5" fill="#4e2670" fill-opacity="0.58" stroke="#4e2670" stroke-opacity="0.58"/>
<circle cx="103.93" cy="143.99" r="1.5" fill="#4e2670" fill-opacity="0.58" stroke="#4e2670" stroke-opacity="0.58"/>
<circle cx="104.91" cy="144.57" r="1.5" fill="#4e2670" fill-opacity="0.58" stroke="#4e2670" stroke-opacity="0.58"/>
<circle cx="107.68" cy="143.36" r="1.5" fill="#4e2670" fill-opacity="0.58" stroke="#4e2670" stroke-opacity="0.58"/>
<circle cx="109.67" cy="143.41" r="1.5" fill="#4e2670" fill-opacity="0.58" stroke="#4e2670" stroke-opacity="0.58"/>
<circle cx="112.98" cy="143.9" r="1.5" fill="#4e2670" fill-opacity="0.58" stroke="#4e2670" stroke-opacity="0.58"/>
<circle cx="114.77" cy="144.52" r="1.5" fill="#4e2670" fill-opacity="0.58" stroke="#4e2670" stroke-opacity="0.58"/>
<circle cx="118" cy="144.2" r="1.5" fill="#4e2670" fill-opacity="0.58" stroke="#4e2670" stroke-opacity="0.58"/>
<circle cx="119.9" cy="143.19" r="1.5" fill="#4e2670" fill-opacity="0.58" stroke="#4e2670" stroke-opacity="0.58"/>
<circle cx="122.64" cy="143.9" r="1.5" fill="#4e2670" fill-opacity="0.58" stroke="#4e2670" stroke-opacity="0.58"/>
<circle cx="124.76" cy="143.26" r="1.5" fill="#4e2670" fill-opacity="0.58" stroke="#4e2670" stroke-opacity="0.58"/>
<circle cx="125.63" cy="144.58" r="1.5" fill="#4e2670" fill-opacity="0.58" stroke="#4e2670" stroke-opacity="0.58"/>
<circle cx="128.42" cy="144.45" r="1.5" fill="#4e2670" fill-opacity="0.58" stroke="#4e2670" stroke-opacity="0.58"/>
<circle cx="131.75" cy="144.68" r="1.5" fill="#4e2670" fill-opacity="0.58" stroke="#4e2670" stroke-opacity="0.58"/>
<circle cx="133.02" cy="144.68" r="1.5" fill="#4e2670" fill-opacity="0.58" stroke="#4e2670" stroke-opacity="0.58"/>
<circle cx="135.87" cy="143.94" r="1.5" fill="#4e2670" fill-opacity="0.58" stroke="#4e2670" stroke-opacity="0.58"/>
<circle cx="137.67" cy="143.43" r="1.5" fill="#4e2670" fill-opacity="0.58" stroke="#4e2670" stroke-opacity="0.58"/>
<circle cx="140.04" cy="143.53" r="1.5" fill="#4e2670" fill-opacity="0.58" stroke="#4e2670" stroke-opacity="0.58"/>
<circle cx="142.08" cy="144.32" r="1.5" fill="#4e2670" fill-opacity="0.58" stroke="#4e2670" stroke-opacity="0.58"/>
<circle cx="70.05" cy="146.54" r="1.5" fill="#4e2670" fill-opacity="0.58" stroke="#4e2670" stroke-opacity="0.58"/>
<circle cx="71.71" cy="145.13" r="1.5" fill="#4e2670" fill-opacity="0.58" stroke="#4e2670" stroke-opacity="0.58"/>
<circle cx="74.73" cy="145.41" r="1.5" fill="#4e2670" fill-opacity="0.58" stroke="#4e2670" stroke-opacity="0.58"/>
<circle cx="77.31" cy="146.33" r="1.5" fill="#4e2670" fill-opacity="0.58" stroke="#4e2670" stroke-opacity="0.58"/>
<circle cx="79.57" cy="145.38" r="1.5" fill="#4e2670" fill-opacity="0.58" stroke="#4e2670" stroke-opacity="0.58"/>
<circle cx="81.64" cy="145.7" r="1.5" fill="#4e2670" fill-opacity="0.58" stroke="#4e2670" stroke-opacity="0.58"/>
<circle cx="83.76" cy="146.67" r="1.5" fill="#4e2670" fill-opacity="0.58" stroke="#4e2670" stroke-opacity="0.58"/>
<circle cx="86.38" cy="145.22" r="1.5" fill="#4e2670" fill-opacity="0.58" stroke="#4e2670" stroke-opacity="0.58"/>
<circle cx="88.6" cy="145.55" r="1.5" fill="#4e2670" fill-opacity="0.58" stroke="#4e2670" stroke-opacity="0.58"/>
<circle cx="90.67" cy="146.23" r="1.5" fill="#4e2670" fill-opacity="0.58" stroke="#4e2670" stroke-opacity="0.58"/>
<circle cx="93.04" cy="146.22" r="1.5" fill="#4e2670" fill-opacity="0.58" stroke="#4e2670" stroke-opacity="0.58"/>
<circle cx="95.75" cy="145.24" r="1.5" fill="#4e2670" fill-opacity="0.58" stroke="#4e2670" stroke-opacity="0.58"/>
<circle cx="98.31" cy="145.36" r="1.5" fill="#4e2670" fill-opacity="0.58" stroke="#4e2670" stroke-opacity="0.58"/>
<circle cx="100.47" cy="146.83" r="1.5" fill="#4e2670" fill-opacity="0.58" stroke="#4e2670" stroke-opacity="0.58"/>
<circle cx="101.41" cy="145.84" r="1.5" fill="#4e2670" fill-opacity="0.58" stroke="#4e2670" stroke-opacity="0.58"/>
<circle cx="104.23" cy="145.18" r="1.5" fill="#4e2670" fill-opacity="0.58" stroke="#4e2670" stroke-opacity="0.58"/>
<circle cx="106.6" cy="146.13" r="1.5" fill="#4e2670" fill-opacity="0.58" stroke="#4e2670" stroke-opacity="0.58"/>
<circle cx="109.53" cy="145.58" r="1.5" fill="#4e2670" fill-opacity="0.58" stroke="#4e2670" stroke-opacity="0.58"/>
<circle cx="112.11" cy="145.5" r="1.5" fill="#4e2670" fill-opacity="0.58" stroke="#4e2670" stroke-opacity="0.58"/>
<circle cx="114.2" cy="146.04" r="1.5" fill="#4e2670" fill-opacity="0.58" stroke="#4e2670" stroke-opacity="0.58"/>
<circle cx="116.51" cy="146.22" r="1.5" fill="#4e2670" fill-opacity="0.58" stroke="#4e2670" stroke-opacity="0.58"/>
<circle cx="117.59" cy="146.5" r="1.5" fill="#4e2670" fill-opacity="0.58" stroke="#4e2670" stroke-opacity="0.58"/>
<circle cx="119.76" cy="145.53" r="1.5" fill="#4e2670" fill-opacity="0.58" stroke="#4e2670" stroke-opacity="0.58"/>
<circle cx="123.38" cy="146.67" r="1.5" fill="#4e2670" fill-opacity="0.58" stroke="#4e2670" stroke-opacity="0.58"/>
<circle cx="125.73" cy="146.14" r="1.5" fill="#4e2670" fill-opacity="0.58" stroke="#4e2670" stroke-opacity="0.58"/>
<circle cx="127.7" cy="145.95" r="1.5" fill="#4e2670" fill-opacity="0.58" stroke="#4e2670" stroke-opacity="0.58"/>
<circle cx="129.25" cy="145.39" r="1.5" fill="#4e2670" fill-opacity="0.58" stroke="#4e2670" stroke-opacity="0.58"/>
<circle cx="131.9" cy="146.12" r="1.5" fill="#4e2670" fill-opacity="0.58" stroke="#4e2670" stroke-opacity="0.58"/>
<circle cx="134.57" cy="146.14" r="1.5" fill="#4e2670" fill-opacity="0.58" stroke="#4e2670" stroke-opacity="0.58"/>
<circle cx="137.13" cy="145.8" r="1.5" fill="#4e2670" fill-opacity="0.58" stroke="#4e2670" stroke-opacity="0.58"/>
<circle cx="139.75" cy="145.13" r="1.5" fill="#4e2670" fill-opacity="0.58" stroke="#4e2670" stroke-opacity="0.58"/>
<circle cx="141.56" cy="146.86" r="1.5" fill="#4e2670" fill-opacity="0.58" stroke="#4e2670" stroke-opacity="0.58"/>
<circle cx="143.35" cy="146.35" r="1.5" fill="#4e2670" fill-opacity="0.58" stroke="#4e2670" stroke-opacity="0.58"/>
<circle cx="145.74" cy="146.13" r="1.5" fill="#4e2670" fill-opacity="0.58" stroke="#4e2670" stroke-opacity="0.58"/>
<circle cx="71.29" cy="147.72" r="1.5" fill="#4e2670" fill-opacity="0.58" stroke="#4e2670" stroke-opacity="0.58"/>
<circle cx="73.99" cy="147.19" r="1.5" fill="#4e2670" fill-opacity="0.58" stroke="#4e2670" stroke-opacity="0.58"/>
<circle cx="74.87" cy="148.65" r="1.5" fill="#4e2670" fill-opacity="0.58" stroke="#4e2670" stroke-opacity="0.58"/>
<circle cx="77.93" cy="147.16" r="1.5" fill="#4e2670" fill-opacity="0.58" stroke="#4e2670" stroke-opacity="0.58"/>
<circle cx="81.25" cy="147.35" r="1.5" fill="#4e2670" fill-opacity="0.58" stroke="#4e2670" stroke-opacity="0.58"/>
<circle cx="82.48" cy="148.14" r="1.5" fill="#4e2670" fill-opacity="0.58" stroke="#4e2670" stroke-opacity="0.58"/>
<circle cx="85.15" cy="148.02" r="1.5" fill="#4e2670" fill-opacity="0.58" stroke="#4e2670" stroke-opacity="0.58"/>
<circle cx="87.85" cy="147.75" r="1.5" fill="#4e2670" fill-opacity="0.58" stroke="#4e2670" stroke-opacity="0.58"/>
<circle cx="89.76" cy="147.81" r="1.5" fill="#4e2670" fill-opacity="0.58" stroke="#4e2670" stroke-opacity="0.58"/>
<circle cx="91.02" cy="148.04" r="1.5" fill="#4e2670" fill-opacity="0.58" stroke="#4e2670" stroke-opacity="0.58"/>
<circle cx="94.73" cy="147.91" r="1.5" fill="#4e2670" fill-opacity="0.58" stroke="#4e2670" stroke-opacity="0.58"/>
<circle cx="96.42" cy="148.74" r="1.5" fill="#4e2670" fill-opacity="0.58" stroke="#4e2670" stroke-opacity="0.58"/>
<circle cx="98.52" cy="147.32" r="1.5" fill="#4e2670" fill-opacity="0.58" stroke="#4e2670" stroke-opacity="0.58"/>
<circle cx="101.71" cy="147.54" r="1.5" fill="#4e2670" fill-opacity="0.58" stroke="#4e2670" stroke-opacity="0.58"/>
<circle cx="103.12" cy="147.73" r="1.5" fill="#4e2670" fill-opacity="0.58" stroke="#4e2670" stroke-opacity="0.58"/>
<circle cx="106.26" cy="148.4" r="1.5" fill="#4e2670" fill-opacity="0.58" stroke="#4e2670" stroke-opacity="0.58"/>
<circle cx="107.95" cy="147.42" r="1.5" fill="#4e2670" fill-opacity="0.58" stroke="#4e2670" stroke-opacity="0.58"/>
<circle cx="110.56" cy="148.21" r="1.5" fill="#4e2670" fill-opacity="0.58" stroke="#4e2670" stroke-opacity="0.58"/>
<circle cx="112.97" cy="147.27" r="1.5" fill="#4e2670" fill-opacity="0.58" stroke="#4e2670" stroke-opacity="0.58"/>
<circle cx="114.86" cy="148.42" r="1.5" fill="#4e2670" fill-opacity="0.58" stroke="#4e2670" stroke-opacity="0.58"/>
<circle cx="118" cy="148.65" r="1.5" fill="#4e2670" fill-opacity="0.58" stroke="#4e2670" stroke-opacity="0.58"/>
<circle cx="119.93" cy="148.45" r="1.5" fill="#4e2670" fill-opacity="0.58" stroke="#4e2670" stroke-opacity="0.58"/>
<circle cx="121.24" cy="148.08" r="1.5" fill="#4e2670" fill-opacity="0.58" stroke="#4e2670" stroke-opacity="0.58"/>
<circle cx="123.2" cy="147.25" r="1.5" fill="#4e2670" fill-opacity="0.58" stroke="#4e2670" stroke-opacity="0.58"/>
<circle cx="126.65" cy="148.37" r="1.5" fill="#4e2670" fill-opacity="0.58" stroke="#4e2670" stroke-opacity="0.58"/>
<circle cx="127.91" cy="148.62" r="1.5" fill="#4e2670" fill-opacity="0.58" stroke="#4e2670" stroke-opacity="0.58"/>
<circle cx="131.75" cy="148.27" r="1.5" fill="#4e2670" fill-opacity="0.58" stroke="#4e2670" stroke-opacity="0.58"/>
<circle cx="133.11" cy="148.31" r="1.5" fill="#4e2670" fill-opacity="0.58" stroke="#4e2670" stroke-opacity="0.58"/>
<circle cx="135.04" cy="147.59" r="1.5" fill="#4e2670" fill-opacity="0.58" stroke="#4e2670" stroke-opacity="0.58"/>
<circle cx="138.31" cy="148.23" r="1.5" fill="#4e2670" fill-opacity="0.58" stroke="#4e2670" stroke-opacity="0.58"/>
<circle cx="139.98" cy="147.7" r="1.5" fill="#4e2670" fill-opacity="0.58" stroke="#4e2670" stroke-opacity="0.58"/>
<circle cx="142.96" cy="148.15" r="1.5" fill="#4e2670" fill-opacity="0.58" stroke="#4e2670" stroke-opacity="0.58"/>
<circle cx="145.03" cy="148.16" r="1.5" fill="#4e2670" fill-opacity="0.58" stroke="#4e2670" stroke-opacity="0.58"/>
<circle cx="146.42" cy="147.46" r="1.5" fill="#4e2670" fill-opacity="0.58" stroke="#4e2670" stroke-opacity="0.58"/>
<circle cx="70.84" cy="150.03" r="1.5" fill="#4e2670" fill-opacity="0.58" stroke="#4e2670" stroke-opacity="0.58"/>
<circle cx="72.28" cy="149.27" r="1.5" fill="#4e2670" fill-opacity="0.58" stroke="#4e2670" stroke-opacity="0.58"/>
<circle cx="74.67" cy="149.06" r="1.5" fill="#4e2670" fill-opacity="0.58" stroke="#4e2670" stroke-opacity="0.58"/>
<circle cx="76.48" cy="149.63" r="1.5" fill="#4e2670" fill-opacity="0.58" stroke="#4e2670" stroke-opacity="0.58"/>
<circle cx="80.09" cy="150.09" r="1.5" fill="#4e2670" fill-opacity="0.58" stroke="#4e2670" stroke-opacity="0.58"/>
<circle cx="83.28" cy="149.83" r="1.5" fill="#4e2670" fill-opacity="0.58" stroke="#4e2670" stroke-opacity="0.58"/>
<circle cx="86.63" cy="150.69" r="1.5" fill="#4e2670" fill-opacity="0.58" stroke="#4e2670" stroke-opacity="0.58"/>
<circle cx="88.19" cy="150.07" r="1.5" fill="#4e2670" fill-opacity="0.58" stroke="#4e2670" stroke-opacity="0.58"/>
<circle cx="90.14" cy="150.06" r="1.5" fill="#4e2670" fill-opacity="0.58" stroke="#4e2670" stroke-opacity="0.58"/>
<circle cx="93.04" cy="149.5" r="1.5" fill="#4e2670" fill-opacity="0.58" stroke="#4e2670" stroke-opacity="0.58"/>
<circle cx="95.49" cy="149.69" r="1.5" fill="#4e2670" fill-opacity="0.58" stroke="#4e2670" stroke-opacity="0.58"/>
<circle cx="96.99" cy="149.28" r="1.5" fill="#4e2670" fill-opacity="0.58" stroke="#4e2670" stroke-opacity="0.58"/>
<circle cx="99.1" cy="149.2" r="1.5" fill="#4e2670" fill-opacity="0.58" stroke="#4e2670" stroke-opacity="0.58"/>
<circle cx="101.97" cy="149.78" r="1.5" fill="#4e2670" fill-opacity="0.58" stroke="#4e2670" stroke-opacity="0.58"/>
<circle cx="104.35" cy="150.12" r="1.5" fill="#4e2670" fill-opacity="0.58" stroke="#4e2670" stroke-opacity="0.58"/>
<circle cx="106.59" cy="150.06" r="1.5" fill="#4e2670" fill-opacity="0.58" stroke="#4e2670" stroke-opacity="0.58"/>
<circle cx="108.29" cy="150.37" r="1.5" fill="#4e2670" fill-opacity="0.58" stroke="#4e2670" stroke-opacity="0.58"/>
<circle cx="111.69" cy="149.76" r="1.5" fill="#4e2670" fill-opacity="0.58" stroke="#4e2670" stroke-opacity="0.58"/>
<circle cx="113.4" cy="150.15" r="1.5" fill="#4e2670" fill-opacity="0.58" stroke="#4e2670" stroke-opacity="0.58"/>
<circle cx="116.37" cy="149.23" r="1.5" fill="#4e2670" fill-opacity="0.58" stroke="#4e2670" stroke-opacity="0.58"/>
<circle cx="118.62" cy="150.37" r="1.5" fill="#4e2670" fill-opacity="0.58" stroke="#4e2670" stroke-opacity="0.58"/>
<circle cx="120.34" cy="149.39" r="1.5" fill="#4e2670" fill-opacity="0.58" stroke="#4e2670" stroke-opacity="0.58"/>
<circle cx="122.01" cy="150.64" r="1.5" fill="#4e2670" fill-opacity="0.58" stroke="#4e2670" stroke-opacity="0.58"/>
<circle cx="124.66" cy="149.34" r="1.5" fill="#4e2670" fill-opacity="0.58" stroke="#4e2670" stroke-opacity="0.58"/>
<circle cx="127.04" cy="149.31" r="1.5" fill="#4e2670" fill-opacity="0.58" stroke="#4e2670" stroke-opacity="0.58"/>
<circle cx="129.49" cy="150.31" r="1.5" fill="#4e2670" fill-opacity="0.58" stroke="#4e2670" stroke-opacity="0.58"/>
<circle cx="132.87" cy="150.19" r="1.5" fill="#4e2670" fill-opacity="0.58" stroke="#4e2670" stroke-opacity="0.58"/>
<circle cx="133.89" cy="150.07" r="1.5" fill="#4e2670" fill-opacity="0.58" stroke="#4e2670" stroke-opacity="0.58"/>
<circle cx="136.82" cy="149.46" r="1.5" fill="#4e2670" fill-opacity="0.58" stroke="#4e2670" stroke-opacity="0.58"/>
<circle cx="139.65" cy="149.55" r="1.5" fill="#4e2670" fill-opacity="0.58" stroke="#4e2670" stroke-opacity="0.58"/>
<circle cx="141.21" cy="149.68" r="1.5" fill="#4e2670" fill-opacity="0.58" stroke="#4e2670" stroke-opacity="0.58"/>
<circle cx="144.27" cy="149.54" r="1.5" fill="#4e2670" fill-opacity="0.58" stroke="#4e2670" stroke-opacity="0.58"/>
<circle cx="147.58" cy="149.08" r="1.5" fill="#4e2670" fill-opacity="0.58" stroke="#4e2670" stroke-opacity="0.58"/>
<circle cx="111.03" cy="122.17" r="1.5" fill="#4e2670" fill-opacity="0.53" stroke="#4e2670" stroke-opacity="0.53"/>
<circle cx="105.27" cy="124.01" r="1.5" fill="#4e2670" fill-opacity="0.53" stroke="#4e2670" stroke-opacity="0.53"/>
<circle cx="106.85" cy="123.72" r="1.5" fill="#4e2670" fill-opacity="0.53" stroke="#4e2670" stroke-opacity="0.53"/>
<circle cx="110.76" cy="123.62" r="1.5" fill="#4e2670" fill-opacity="0.53" stroke="#4e2670" stroke-opacity="0.53"/>
<circle cx="112.54" cy="123.99" r="1.5" fill="#4e2670" fill-opacity="0.53" stroke="#4e2670" stroke-opacity="0.53"/>
<circle cx="115.68" cy="124.28" r="1.5" fill="#4e2670" fill-opacity="0.53" stroke="#4e2670" stroke-opacity="0.53"/>
<circle cx="91.12" cy="126.1" r="1.5" fill="#4e2670" fill-opacity="0.53" stroke="#4e2670" stroke-opacity="0.53"/>
<circle cx="93.59" cy="126.03" r="1.5" fill="#4e2670" fill-opacity="0.53" stroke="#4e2670" stroke-opacity="0.53"/>
<circle cx="95.51" cy="125.95" r="1.5" fill="#4e2670" fill-opacity="0.53" stroke="#4e2670" stroke-opacity="0.53"/>
<circle cx="101.52" cy="125.89" r="1.5" fill="#4e2670" fill-opacity="0.53" stroke="#4e2670" stroke-opacity="0.53"/>
<circle cx="104.08" cy="125.96" r="1.5" fill="#4e2670" fill-opacity="0.53" stroke="#4e2670" stroke-opacity="0.53"/>
<circle cx="108.74" cy="125.89" r="1.5" fill="#4e2670" fill-opacity="0.53" stroke="#4e2670" stroke-opacity="0.53"/>
<circle cx="114.91" cy="126.23" r="1.5" fill="#4e2670" fill-opacity="0.53" stroke="#4e2670" stroke-opacity="0.53"/>
<circle cx="116.54" cy="126.18" r="1.5" fill="#4e2670" fill-opacity="0.53" stroke="#4e2670" stroke-opacity="0.53"/>
<circle cx="124.96" cy="127" r="1.5" fill="#4e2670" fill-opacity="0.53" stroke="#4e2670" stroke-opacity="0.53"/>
<circle cx="94.82" cy="129.38" r="1.5" fill="#4e2670" fill-opacity="0.53" stroke="#4e2670" stroke-opacity="0.53"/>
<circle cx="97.16" cy="128.8" r="1.5" fill="#4e2670" fill-opacity="0.53" stroke="#4e2670" stroke-opacity="0.53"/>
<circle cx="101.6" cy="128.04" r="1.5" fill="#4e2670" fill-opacity="0.53" stroke="#4e2670" stroke-opacity="0.53"/>
<circle cx="105.01" cy="128.41" r="1.5" fill="#4e2670" fill-opacity="0.53" stroke="#4e2670" stroke-opacity="0.53"/>
<circle cx="108.07" cy="127.97" r="1.5" fill="#4e2670" fill-opacity="0.53" stroke="#4e2670" stroke-opacity="0.53"/>
<circle cx="109.48" cy="127.84" r="1.5" fill="#4e2670" fill-opacity="0.53" stroke="#4e2670" stroke-opacity="0.53"/>
<circle cx="115.19" cy="128.98" r="1.5" fill="#4e2670" fill-opacity="0.53" stroke="#4e2670" stroke-opacity="0.53"/>
<circle cx="118.29" cy="128.66" r="1.5" fill="#4e2670" fill-opacity="0.53" stroke="#4e2670" stroke-opacity="0.53"/>
<circle cx="120.52" cy="128.25" r="1.5" fill="#4e2670" fill-opacity="0.53" stroke="#4e2670" stroke-opacity="0.53"/>
<circle cx="123.95" cy="129.54" r="1.5" fill="#4e2670" fill-opacity="0.53" stroke="#4e2670" stroke-opacity="0.53"/>
<circle cx="124.97" cy="128" r="1.5" fill="#4e2670" fill-opacity="0.53" stroke="#4e2670" stroke-opacity="0.53"/>
<circle cx="82.72" cy="131.41" r="1.5" fill="#4e2670" fill-opacity="0.53" stroke="#4e2670" stroke-opacity="0.53"/>
<circle cx="88.58" cy="131.95" r="1.5" fill="#4e2670" fill-opacity="0.53" stroke="#4e2670" stroke-opacity="0.53"/>
<circle cx="90.14" cy="131.82" r="1.5" fill="#4e2670" fill-opacity="0.53" stroke="#4e2670" stroke-opacity="0.53"/>
<circle cx="93.84" cy="131.71" r="1.5" fill="#4e2670" fill-opacity="0.53" stroke="#4e2670" stroke-opacity="0.53"/>
<circle cx="95.61" cy="131.08" r="1.5" fill="#4e2670" fill-opacity="0.53" stroke="#4e2670" stroke-opacity="0.53"/>
<circle cx="98.8" cy="130.19" r="1.5" fill="#4e2670" fill-opacity="0.53" stroke="#4e2670" stroke-opacity="0.53"/>
<circle cx="103.87" cy="131.61" r="1.5" fill="#4e2670" fill-opacity="0.53" stroke="#4e2670" stroke-opacity="0.53"/>
<circle cx="105.33" cy="131.73" r="1.5" fill="#4e2670" fill-opacity="0.53" stroke="#4e2670" stroke-opacity="0.53"/>
<circle cx="111.64" cy="130.09" r="1.5" fill="#4e2670" fill-opacity="0.53" stroke="#4e2670" stroke-opacity="0.53"/>
<circle cx="114.94" cy="130.53" r="1.5" fill="#4e2670" fill-opacity="0.53" stroke="#4e2670" stroke-opacity="0.53"/>
<circle cx="116.86" cy="131.07" r="1.5" fill="#4e2670" fill-opacity="0.53" stroke="#4e2670" stroke-opacity="0.53"/>
<circle cx="119.2" cy="130.36" r="1.5" fill="#4e2670" fill-opacity="0.53" stroke="#4e2670" stroke-opacity="0.53"/>
<circle cx="122.79" cy="130.08" r="1.5" fill="#4e2670" fill-opacity="0.53" stroke="#4e2670" stroke-opacity="0.53"/>
<circle cx="124.43" cy="130.5" r="1.5" fill="#4e2670" fill-opacity="0.53" stroke="#4e2670" stroke-opacity="0.53"/>
<circle cx="76.5" cy="133.64" r="1.5" fill="#4e2670" fill-opacity="0.53" stroke="#4e2670" stroke-opacity="0.53"/>
<circle cx="78.22" cy="133.15" r="1.5" fill="#4e2670" fill-opacity="0.53" stroke="#4e2670" stroke-opacity="0.53"/>
<circle cx="82.45" cy="133.35" r="1.5" fill="#4e2670" fill-opacity="0.53" stroke="#4e2670" stroke-opacity="0.53"/>
<circle cx="83.54" cy="132.62" r="1.5" fill="#4e2670" fill-opacity="0.53" stroke="#4e2670" stroke-opacity="0.53"/>
<circle cx="86.65" cy="133.26" r="1.5" fill="#4e2670" fill-opacity="0.53" stroke="#4e2670" stroke-opacity="0.53"/>
<circle cx="88.48" cy="133.89" r="1.5" fill="#4e2670" fill-opacity="0.53" stroke="#4e2670" stroke-opacity="0.53"/>
<circle cx="91.69" cy="132.86" r="1.5" fill="#4e2670" fill-opacity="0.53" stroke="#4e2670" stroke-opacity="0.53"/>
<circle cx="101.6" cy="133.71" r="1.5" fill="#4e2670" fill-opacity="0.53" stroke="#4e2670" stroke-opacity="0.53"/>
<circle cx="105.55" cy="133.69" r="1.5" fill="#4e2670" fill-opacity="0.53" stroke="#4e2670" stroke-opacity="0.53"/>
<circle cx="107.97" cy="133.88" r="1.5" fill="#4e2670" fill-opacity="0.53" stroke="#4e2670" stroke-opacity="0.53"/>
<circle cx="113.07" cy="133.64" r="1.5" fill="#4e2670" fill-opacity="0.53" stroke="#4e2670" stroke-opacity="0.53"/>
<circle cx="117.65" cy="133.16" r="1.5" fill="#4e2670" fill-opacity="0.53" stroke="#4e2670" stroke-opacity="0.53"/>
<circle cx="120.75" cy="133.62" r="1.5" fill="#4e2670" fill-opacity="0.53" stroke="#4e2670" stroke-opacity="0.53"/>
<circle cx="126.5" cy="132.44" r="1.5" fill="#4e2670" fill-opacity="0.53" stroke="#4e2670" stroke-opacity="0.53"/>
<circle cx="127.8" cy="132.41" r="1.5" fill="#4e2670" fill-opacity="0.53" stroke="#4e2670" stroke-opacity="0.53"/>
<circle cx="130.36" cy="133.56" r="1.5" fill="#4e2670" fill-opacity="0.53" stroke="#4e2670" stroke-opacity="0.53"/>
<circle cx="132.65" cy="134.08" r="1.5" fill="#4e2670" fill-opacity="0.53" stroke="#4e2670" stroke-opacity="0.53"/>
<circle cx="74.58" cy="135.54" r="1.5" fill="#4e2670" fill-opacity="0.53" stroke="#4e2670" stroke-opacity="0.53"/>
<circle cx="78.13" cy="136.5" r="1.5" fill="#4e2670" fill-opacity="0.53" stroke="#4e2670" stroke-opacity="0.53"/>
<circle cx="81.16" cy="136.38" r="1.5" fill="#4e2670" fill-opacity="0.53" stroke="#4e2670" stroke-opacity="0.53"/>
<circle cx="88.86" cy="134.66" r="1.5" fill="#4e2670" fill-opacity="0.53" stroke="#4e2670" stroke-opacity="0.53"/>
<circle cx="93.22" cy="136.28" r="1.5" fill="#4e2670" fill-opacity="0.53" stroke="#4e2670" stroke-opacity="0.53"/>
<circle cx="95.8" cy="136.26" r="1.5" fill="#4e2670" fill-opacity="0.53" stroke="#4e2670" stroke-opacity="0.53"/>
<circle cx="97.41" cy="135.49" r="1.5" fill="#4e2670" fill-opacity="0.53" stroke="#4e2670" stroke-opacity="0.53"/>
<circle cx="101.45" cy="135.34" r="1.5" fill="#4e2670" fill-opacity="0.53" stroke="#4e2670" stroke-opacity="0.53"/>
<circle cx="109.23" cy="136.31" r="1.5" fill="#4e2670" fill-opacity="0.53" stroke="#4e2670" stroke-opacity="0.53"/>
<circle cx="117.31" cy="135.07" r="1.5" fill="#4e2670" fill-opacity="0.53" stroke="#4e2670" stroke-opacity="0.53"/>
<circle cx="124.97" cy="135.37" r="1.5" fill="#4e2670" fill-opacity="0.53" stroke="#4e2670" stroke-opacity="0.53"/>
<circle cx="127.83" cy="136.39" r="1.5" fill="#4e2670" fill-opacity="0.53" stroke="#4e2670" stroke-opacity="0.53"/>
<circle cx="128.7" cy="135.97" r="1.5" fill="#4e2670" fill-opacity="0.53" stroke="#4e2670" stroke-opacity="0.53"/>
<circle cx="132.49" cy="135.08" r="1.5" fill="#4e2670" fill-opacity="0.53" stroke="#4e2670" stroke-opacity="0.53"/>
<circle cx="134.14" cy="135.34" r="1.5" fill="#4e2670" fill-opacity="0.53" stroke="#4e2670" stroke-opacity="0.53"/>
<circle cx="71.91" cy="137.76" r="1.5" fill="#4e2670" fill-opacity="0.53" stroke="#4e2670" stroke-opacity="0.53"/>
<circle cx="74.69" cy="137.66" r="1.5" fill="#4e2670" fill-opacity="0.53" stroke="#4e2670" stroke-opacity="0.53"/>
<circle cx="75.79" cy="137.11" r="1.5" fill="#4e2670" fill-opacity="0.53" stroke="#4e2670" stroke-opacity="0.53"/>
<circle cx="78.38" cy="137.28" r="1.5" fill="#4e2670" fill-opacity="0.53" stroke="#4e2670" stroke-opacity="0.53"/>
<circle cx="82" cy="137.59" r="1.5" fill="#4e2670" fill-opacity="0.53" stroke="#4e2670" stroke-opacity="0.53"/>
<circle cx="83.85" cy="137.44" r="1.5" fill="#4e2670" fill-opacity="0.53" stroke="#4e2670" stroke-opacity="0.53"/>
<circle cx="86.85" cy="137.48" r="1.5" fill="#4e2670" fill-opacity="0.53" stroke="#4e2670" stroke-opacity="0.53"/>
<circle cx="88.49" cy="138.55" r="1.5" fill="#4e2670" fill-opacity="0.53" stroke="#4e2670" stroke-opacity="0.53"/>
<circle cx="95.44" cy="137.02" r="1.5" fill="#4e2670" fill-opacity="0.53" stroke="#4e2670" stroke-opacity="0.53"/>
<circle cx="98.04" cy="137.74" r="1.5" fill="#4e2670" fill-opacity="0.53" stroke="#4e2670" stroke-opacity="0.53"/>
<circle cx="100.64" cy="137.26" r="1.5" fill="#4e2670" fill-opacity="0.53" stroke="#4e2670" stroke-opacity="0.53"/>
<circle cx="101.6" cy="138.7" r="1.5" fill="#4e2670" fill-opacity="0.53" stroke="#4e2670" stroke-opacity="0.53"/>
<circle cx="104.07" cy="138.31" r="1.5" fill="#4e2670" fill-opacity="0.53" stroke="#4e2670" stroke-opacity="0.53"/>
<circle cx="106.97" cy="138.6" r="1.5" fill="#4e2670" fill-opacity="0.53" stroke="#4e2670" stroke-opacity="0.53"/>
<circle cx="111.02" cy="138.01" r="1.5" fill="#4e2670" fill-opacity="0.53" stroke="#4e2670" stroke-opacity="0.53"/>
<circle cx="113.1" cy="136.99" r="1.5" fill="#4e2670" fill-opacity="0.53" stroke="#4e2670" stroke-opacity="0.53"/>
<circle cx="115.08" cy="137.21" r="1.5" fill="#4e2670" fill-opacity="0.53" stroke="#4e2670" stroke-opacity="0.53"/>
<circle cx="117.97" cy="138.75" r="1.5" fill="#4e2670" fill-opacity="0.53" stroke="#4e2670" stroke-opacity="0.53"/>
<circle cx="120.79" cy="138.53" r="1.5" fill="#4e2670" fill-opacity="0.53" stroke="#4e2670" stroke-opacity="0.53"/>
<circle cx="123.19" cy="136.82" r="1.5" fill="#4e2670" fill-opacity="0.53" stroke="#4e2670" stroke-opacity="0.53"/>
<circle cx="128.59" cy="136.92" r="1.5" fill="#4e2670" fill-opacity="0.53" stroke="#4e2670" stroke-opacity="0.53"/>
<circle cx="131.75" cy="137.21" r="1.5" fill="#4e2670" fill-opacity="0.53" stroke="#4e2670" stroke-opacity="0.53"/>
<circle cx="133.94" cy="137.49" r="1.5" fill="#4e2670" fill-opacity="0.53" stroke="#4e2670" stroke-opacity="0.53"/>
<circle cx="136.69" cy="138.24" r="1.5" fill="#4e2670" fill-opacity="0.53" stroke="#4e2670" stroke-opacity="0.53"/>
<circle cx="67.98" cy="139.23" r="1.5" fill="#4e2670" fill-opacity="0.53" stroke="#4e2670" stroke-opacity="0.53"/>
<circle cx="74.11" cy="139.06" r="1.5" fill="#4e2670" fill-opacity="0.53" stroke="#4e2670" stroke-opacity="0.53"/>
<circle cx="76.7" cy="139.13" r="1.5" fill="#4e2670" fill-opacity="0.53" stroke="#4e2670" stroke-opacity="0.53"/>
<circle cx="85.89" cy="139.08" r="1.5" fill="#4e2670" fill-opacity="0.53" stroke="#4e2670" stroke-opacity="0.53"/>
<circle cx="88.68" cy="140.98" r="1.5" fill="#4e2670" fill-opacity="0.53" stroke="#4e2670" stroke-opacity="0.53"/>
<circle cx="89.61" cy="139.57" r="1.5" fill="#4e2670" fill-opacity="0.53" stroke="#4e2670" stroke-opacity="0.53"/>
<circle cx="93.32" cy="140.53" r="1.5" fill="#4e2670" fill-opacity="0.53" stroke="#4e2670" stroke-opacity="0.53"/>
<circle cx="96.44" cy="139.88" r="1.5" fill="#4e2670" fill-opacity="0.53" stroke="#4e2670" stroke-opacity="0.53"/>
<circle cx="97.79" cy="140.1" r="1.5" fill="#4e2670" fill-opacity="0.53" stroke="#4e2670" stroke-opacity="0.53"/>
<circle cx="100.73" cy="140.81" r="1.5" fill="#4e2670" fill-opacity="0.53" stroke="#4e2670" stroke-opacity="0.53"/>
<circle cx="103.1" cy="140.26" r="1.5" fill="#4e2670" fill-opacity="0.53" stroke="#4e2670" stroke-opacity="0.53"/>
<circle cx="114.23" cy="139.54" r="1.5" fill="#4e2670" fill-opacity="0.53" stroke="#4e2670" stroke-opacity="0.53"/>
<circle cx="117.45" cy="139.61" r="1.5" fill="#4e2670" fill-opacity="0.53" stroke="#4e2670" stroke-opacity="0.53"/>
<circle cx="118.25" cy="139.48" r="1.5" fill="#4e2670" fill-opacity="0.53" stroke="#4e2670" stroke-opacity="0.53"/>
<circle cx="122.71" cy="139.79" r="1.5" fill="#4e2670" fill-opacity="0.53" stroke="#4e2670" stroke-opacity="0.53"/>
<circle cx="125.03" cy="139.28" r="1.5" fill="#4e2670" fill-opacity="0.53" stroke="#4e2670" stroke-opacity="0.53"/>
<circle cx="130.15" cy="140.23" r="1.5" fill="#4e2670" fill-opacity="0.53" stroke="#4e2670" stroke-opacity="0.53"/>
<circle cx="132.12" cy="140.58" r="1.5" fill="#4e2670" fill-opacity="0.53" stroke="#4e2670" stroke-opacity="0.53"/>
<circle cx="134.58" cy="139.33" r="1.5" fill="#4e2670" fill-opacity="0.53" stroke="#4e2670" stroke-opacity="0.53"/>
<circle cx="137.36" cy="140.1" r="1.5" fill="#4e2670" fill-opacity="0.53" stroke="#4e2670" stroke-opacity="0.53"/>
<circle cx="65.09" cy="142.26" r="1.5" fill="#4e2670" fill-opacity="0.53" stroke="#4e2670" stroke-opacity="0.53"/>
<circle cx="67.85" cy="141.53" r="1.5" fill="#4e2670" fill-opacity="0.53" stroke="#4e2670" stroke-opacity="0.53"/>
<circle cx="75.89" cy="142.4" r="1.5" fill="#4e2670" fill-opacity="0.53" stroke="#4e2670" stroke-opacity="0.53"/>
<circle cx="78.3" cy="141.76" r="1.5" fill="#4e2670" fill-opacity="0.53" stroke="#4e2670" stroke-opacity="0.53"/>
<circle cx="83.48" cy="141.39" r="1.5" fill="#4e2670" fill-opacity="0.53" stroke="#4e2670" stroke-opacity="0.53"/>
<circle cx="96.18" cy="141.85" r="1.5" fill="#4e2670" fill-opacity="0.53" stroke="#4e2670" stroke-opacity="0.53"/>
<circle cx="101.69" cy="141.41" r="1.5" fill="#4e2670" fill-opacity="0.53" stroke="#4e2670" stroke-opacity="0.53"/>
<circle cx="108.39" cy="141.48" r="1.5" fill="#4e2670" fill-opacity="0.53" stroke="#4e2670" stroke-opacity="0.53"/>
<circle cx="109.54" cy="142" r="1.5" fill="#4e2670" fill-opacity="0.53" stroke="#4e2670" stroke-opacity="0.53"/>
<circle cx="113.7" cy="141.34" r="1.5" fill="#4e2670" fill-opacity="0.53" stroke="#4e2670" stroke-opacity="0.53"/>
<circle cx="117.72" cy="142.01" r="1.5" fill="#4e2670" fill-opacity="0.53" stroke="#4e2670" stroke-opacity="0.53"/>
<circle cx="123.2" cy="141.39" r="1.5" fill="#4e2670" fill-opacity="0.53" stroke="#4e2670" stroke-opacity="0.53"/>
<circle cx="126.03" cy="141.57" r="1.5" fill="#4e2670" fill-opacity="0.53" stroke="#4e2670" stroke-opacity="0.53"/>
<circle cx="131.24" cy="142.1" r="1.5" fill="#4e2670" fill-opacity="0.53" stroke="#4e2670" stroke-opacity="0.53"/>
<circle cx="101.19" cy="128.32" r="1.5" fill="#4e2670" fill-opacity="0.53" stroke="#4e2670" stroke-opacity="0.53"/>
<circle cx="106.67" cy="127.95" r="1.5" fill="#4e2670" fill-opacity="0.53" stroke="#4e2670" stroke-opacity="0.53"/>
<circle cx="113.01" cy="126.82" r="1.5" fill="#4e2670" fill-opacity="0.53" stroke="#4e2670" stroke-opacity="0.53"/>
<circle cx="118.61" cy="127.83" r="1.5" fill="#4e2670" fill-opacity="0.53" stroke="#4e2670" stroke-opacity="0.53"/>
<circle cx="100.54" cy="130.66" r="1.5" fill="#4e2670" fill-opacity="0.53" stroke="#4e2670" stroke-opacity="0.53"/>
<circle cx="103.01" cy="129.01" r="1.5" fill="#4e2670" fill-opacity="0.53" stroke="#4e2670" stroke-opacity="0.53"/>
<circle cx="113.78" cy="130.67" r="1.5" fill="#4e2670" fill-opacity="0.53" stroke="#4e2670" stroke-opacity="0.53"/>
<circle cx="119.01" cy="130.52" r="1.5" fill="#4e2670" fill-opacity="0.53" stroke="#4e2670" stroke-opacity="0.53"/>
<circle cx="126.23" cy="129.19" r="1.5" fill="#4e2670" fill-opacity="0.53" stroke="#4e2670" stroke-opacity="0.53"/>
<circle cx="92.64" cy="132.44" r="1.5" fill="#4e2670" fill-opacity="0.53" stroke="#4e2670" stroke-opacity="0.53"/>
<circle cx="96.64" cy="132.3" r="1.5" fill="#4e2670" fill-opacity="0.53" stroke="#4e2670" stroke-opacity="0.53"/>
<circle cx="99.13" cy="132.91" r="1.5" fill="#4e2670" fill-opacity="0.53" stroke="#4e2670" stroke-opacity="0.53"/>
<circle cx="101.2" cy="132.17" r="1.5" fill="#4e2670" fill-opacity="0.53" stroke="#4e2670" stroke-opacity="0.53"/>
<circle cx="105.02" cy="132.5" r="1.5" fill="#4e2670" fill-opacity="0.53" stroke="#4e2670" stroke-opacity="0.53"/>
<circle cx="113.14" cy="132.28" r="1.5" fill="#4e2670" fill-opacity="0.53" stroke="#4e2670" stroke-opacity="0.53"/>
<circle cx="116.29" cy="132.57" r="1.5" fill="#4e2670" fill-opacity="0.53" stroke="#4e2670" stroke-opacity="0.53"/>
<circle cx="122.36" cy="131.72" r="1.5" fill="#4e2670" fill-opacity="0.53" stroke="#4e2670" stroke-opacity="0.53"/>
<circle cx="130.71" cy="132.84" r="1.5" fill="#4e2670" fill-opacity="0.53" stroke="#4e2670" stroke-opacity="0.53"/>
<circle cx="100.61" cy="134.42" r="1.5" fill="#4e2670" fill-opacity="0.53" stroke="#4e2670" stroke-opacity="0.53"/>
<circle cx="103.85" cy="134.71" r="1.5" fill="#4e2670" fill-opacity="0.53" stroke="#4e2670" stroke-opacity="0.53"/>
<circle cx="105.14" cy="135.17" r="1.5" fill="#4e2670" fill-opacity="0.53" stroke="#4e2670" stroke-opacity="0.53"/>
<circle cx="116.69" cy="134.19" r="1.5" fill="#4e2670" fill-opacity="0.53" stroke="#4e2670" stroke-opacity="0.53"/>
<circle cx="119.5" cy="135.33" r="1.5" fill="#4e2670" fill-opacity="0.53" stroke="#4e2670" stroke-opacity="0.53"/>
<circle cx="99.31" cy="136.76" r="1.5" fill="#4e2670" fill-opacity="0.53" stroke="#4e2670" stroke-opacity="0.53"/>
<circle cx="102.52" cy="137.43" r="1.5" fill="#4e2670" fill-opacity="0.53" stroke="#4e2670" stroke-opacity="0.53"/>
<circle cx="105.23" cy="137.57" r="1.5" fill="#4e2670" fill-opacity="0.53" stroke="#4e2670" stroke-opacity="0.53"/>
<circle cx="113.22" cy="136.99" r="1.5" fill="#4e2670" fill-opacity="0.53" stroke="#4e2670" stroke-opacity="0.53"/>
<circle cx="115.1" cy="137.58" r="1.5" fill="#4e2670" fill-opacity="0.53" stroke="#4e2670" stroke-opacity="0.53"/>
<circle cx="117.76" cy="137.97" r="1.5" fill="#4e2670" fill-opacity="0.53" stroke="#4e2670" stroke-opacity="0.53"/>
<circle cx="120.62" cy="136.23" r="1.5" fill="#4e2670" fill-opacity="0.53" stroke="#4e2670" stroke-opacity="0.53"/>
<circle cx="124.85" cy="137.24" r="1.5" fill="#4e2670" fill-opacity="0.53" stroke="#4e2670" stroke-opacity="0.53"/>
<circle cx="127.47" cy="137.08" r="1.5" fill="#4e2670" fill-opacity="0.53" stroke="#4e2670" stroke-opacity="0.53"/>
<circle cx="130.79" cy="137.99" r="1.5" fill="#4e2670" fill-opacity="0.53" stroke="#4e2670" stroke-opacity="0.53"/>
<circle cx="132.04" cy="136.47" r="1.5" fill="#4e2670" fill-opacity="0.53" stroke="#4e2670" stroke-opacity="0.53"/>
<circle cx="94.63" cy="140.42" r="1.5" fill="#4e2670" fill-opacity="0.53" stroke="#4e2670" stroke-opacity="0.53"/>
<circle cx="97.98" cy="140.52" r="1.5" fill="#4e2670" fill-opacity="0.53" stroke="#4e2670" stroke-opacity="0.53"/>
<circle cx="100.87" cy="140.11" r="1.5" fill="#4e2670" fill-opacity="0.53" stroke="#4e2670" stroke-opacity="0.53"/>
<circle cx="103.56" cy="139.5" r="1.5" fill="#4e2670" fill-opacity="0.53" stroke="#4e2670" stroke-opacity="0.53"/>
<circle cx="106" cy="140.49" r="1.5" fill="#4e2670" fill-opacity="0.53" stroke="#4e2670" stroke-opacity="0.53"/>
<circle cx="109.41" cy="139.69" r="1.5" fill="#4e2670" fill-opacity="0.53" stroke="#4e2670" stroke-opacity="0.53"/>
<circle cx="112.25" cy="139.84" r="1.5" fill="#4e2670" fill-opacity="0.53" stroke="#4e2670" stroke-opacity="0.53"/>
<circle cx="113.46" cy="140.29" r="1.5" fill="#4e2670" fill-opacity="0.53" stroke="#4e2670" stroke-opacity="0.53"/>
<circle cx="119.29" cy="139.93" r="1.5" fill="#4e2670" fill-opacity="0.53" stroke="#4e2670" stroke-opacity="0.53"/>
<circle cx="126.28" cy="139.68" r="1.5" fill="#4e2670" fill-opacity="0.53" stroke="#4e2670" stroke-opacity="0.53"/>
<circle cx="133.21" cy="139.19" r="1.5" fill="#4e2670" fill-opacity="0.53" stroke="#4e2670" stroke-opacity="0.53"/>
<circle cx="130.27" cy="110.64" r="1.45" fill="#6cb0e2" fill-opacity="0.42" stroke="#6cb0e2" stroke-opacity="0.42"/>
<circle cx="132.81" cy="114.45" r="1.45" fill="#6cb0e2" fill-opacity="0.42" stroke="#6cb0e2" stroke-opacity="0.42"/>
<circle cx="134.08" cy="117" r="1.45" fill="#6cb0e2" fill-opacity="0.42" stroke="#6cb0e2" stroke-opacity="0.42"/>
<circle cx="135.36" cy="119.54" r="1.45" fill="#6cb0e2" fill-opacity="0.42" stroke="#6cb0e2" stroke-opacity="0.42"/>
<circle cx="136.63" cy="122.09" r="1.45" fill="#6cb0e2" fill-opacity="0.42" stroke="#6cb0e2" stroke-opacity="0.42"/>
<circle cx="138.54" cy="127.18" r="1.45" fill="#6cb0e2" fill-opacity="0.42" stroke="#6cb0e2" stroke-opacity="0.42"/>
<circle cx="140.45" cy="130.36" r="1.45" fill="#6cb0e2" fill-opacity="0.42" stroke="#6cb0e2" stroke-opacity="0.42"/>
<circle cx="142.35" cy="132.26" r="1.6" fill="#6cb0e2" fill-opacity="0.51" stroke="#6cb0e2" stroke-opacity="0.51"/>
<circle cx="143.63" cy="134.81" r="1.45" fill="#6cb0e2" fill-opacity="0.42" stroke="#6cb0e2" stroke-opacity="0.42"/>
<circle cx="145.53" cy="137.35" r="1.45" fill="#6cb0e2" fill-opacity="0.42" stroke="#6cb0e2" stroke-opacity="0.42"/>
<circle cx="146.17" cy="139.26" r="1.45" fill="#e08f1e" fill-opacity="0.41" stroke="#e08f1e" stroke-opacity="0.41"/>
<circle cx="147.44" cy="141.17" r="1.45" fill="#6cb0e2" fill-opacity="0.42" stroke="#6cb0e2" stroke-opacity="0.42"/>
<circle cx="149.35" cy="144.35" r="1.45" fill="#e08f1e" fill-opacity="0.51" stroke="#e08f1e" stroke-opacity="0.51"/>
<circle cx="148.08" cy="146.9" r="1.45" fill="#6cb0e2" fill-opacity="0.42" stroke="#6cb0e2" stroke-opacity="0.42"/>
<circle cx="146.81" cy="150.71" r="1.45" fill="#6cb0e2" fill-opacity="0.42" stroke="#6cb0e2" stroke-opacity="0.42"/>
<circle cx="144.26" cy="148.17" r="1.45" fill="#6cb0e2" fill-opacity="0.42" stroke="#6cb0e2" stroke-opacity="0.42"/>
<circle cx="153.17" cy="151.35" r="2.3" fill="#e08f1e" fill-opacity="0.56" stroke="#e08f1e" stroke-opacity="0.56"/>
<circle cx="153.17" cy="151.35" r="1.6" fill="#6cb0e2" fill-opacity="0.64" stroke="#6cb0e2" stroke-opacity="0.64"/>
<circle cx="149.99" cy="145.62" r="1.45" fill="#6cb0e2" fill-opacity="0.42" stroke="#6cb0e2" stroke-opacity="0.42"/>
<circle cx="142.99" cy="143.08" r="1.45" fill="#4e2670" fill-opacity="0.42" stroke="#4e2670" stroke-opacity="0.42"/>
<circle cx="140.45" cy="146.9" r="1.45" fill="#4e2670" fill-opacity="0.42" stroke="#4e2670" stroke-opacity="0.42"/>
<circle cx="134.08" cy="150.71" r="1.45" fill="#4e2670" fill-opacity="0.42" stroke="#4e2670" stroke-opacity="0.42"/>
<circle cx="141.08" cy="150.71" r="1.45" fill="#4e2670" fill-opacity="0.42" stroke="#4e2670" stroke-opacity="0.42"/>
<circle cx="110.26" cy="112.69" r="1.5" fill="#4e2670" fill-opacity="0.42" stroke="#4e2670" stroke-opacity="0.42"/>
<circle cx="118.93" cy="112.8" r="1.5" fill="#4e2670" fill-opacity="0.42" stroke="#4e2670" stroke-opacity="0.42"/>
<circle cx="123.84" cy="111.84" r="1.5" fill="#4e2670" fill-opacity="0.42" stroke="#4e2670" stroke-opacity="0.42"/>
<circle cx="113.78" cy="116.03" r="1.5" fill="#4e2670" fill-opacity="0.42" stroke="#4e2670" stroke-opacity="0.42"/>
<circle cx="116.08" cy="115.44" r="1.5" fill="#4e2670" fill-opacity="0.42" stroke="#4e2670" stroke-opacity="0.42"/>
<circle cx="126" cy="115.54" r="1.5" fill="#4e2670" fill-opacity="0.42" stroke="#4e2670" stroke-opacity="0.42"/>
<circle cx="102.99" cy="118.09" r="1.5" fill="#4e2670" fill-opacity="0.42" stroke="#4e2670" stroke-opacity="0.42"/>
<circle cx="115.13" cy="118.54" r="1.5" fill="#4e2670" fill-opacity="0.42" stroke="#4e2670" stroke-opacity="0.42"/>
<circle cx="124.93" cy="117.39" r="1.5" fill="#4e2670" fill-opacity="0.42" stroke="#4e2670" stroke-opacity="0.42"/>
<circle cx="108.8" cy="120.61" r="1.5" fill="#4e2670" fill-opacity="0.42" stroke="#4e2670" stroke-opacity="0.42"/>
<circle cx="111.68" cy="119.73" r="1.5" fill="#4e2670" fill-opacity="0.42" stroke="#4e2670" stroke-opacity="0.42"/>
<circle cx="116.46" cy="120.11" r="1.5" fill="#4e2670" fill-opacity="0.42" stroke="#4e2670" stroke-opacity="0.42"/>
<circle cx="129.93" cy="119.64" r="1.5" fill="#4e2670" fill-opacity="0.42" stroke="#4e2670" stroke-opacity="0.42"/>
<circle cx="109.16" cy="122.14" r="1.5" fill="#4e2670" fill-opacity="0.42" stroke="#4e2670" stroke-opacity="0.42"/>
<circle cx="119.39" cy="123.37" r="1.5" fill="#4e2670" fill-opacity="0.42" stroke="#4e2670" stroke-opacity="0.42"/>
<circle cx="107.97" cy="125.47" r="1.5" fill="#4e2670" fill-opacity="0.42" stroke="#4e2670" stroke-opacity="0.42"/>
<circle cx="143.5" cy="143" r="1.45" fill="#6cb0e2" fill-opacity="0.47" stroke="#6cb0e2" stroke-opacity="0.47"/>
<circle cx="146" cy="146.5" r="1.45" fill="#6cb0e2" fill-opacity="0.47" stroke="#6cb0e2" stroke-opacity="0.47"/>
<circle cx="141" cy="146" r="1.45" fill="#6cb0e2" fill-opacity="0.42" stroke="#6cb0e2" stroke-opacity="0.42"/>
<circle cx="148" cy="149" r="1.5" fill="#6cb0e2" fill-opacity="0.51" stroke="#6cb0e2" stroke-opacity="0.51"/>
<circle cx="150.5" cy="147" r="1.45" fill="#e08f1e" fill-opacity="0.51" stroke="#e08f1e" stroke-opacity="0.51"/>
<circle cx="105.76" cy="97.88" r="1.5" fill="#4e2670" fill-opacity="0.42" stroke="#4e2670" stroke-opacity="0.42"/>
<circle cx="112.18" cy="99.09" r="1.5" fill="#4e2670" fill-opacity="0.42" stroke="#4e2670" stroke-opacity="0.42"/>
<circle cx="114.29" cy="99.42" r="1.5" fill="#4e2670" fill-opacity="0.42" stroke="#4e2670" stroke-opacity="0.42"/>
<circle cx="103.3" cy="101.06" r="1.5" fill="#4e2670" fill-opacity="0.42" stroke="#4e2670" stroke-opacity="0.42"/>
<circle cx="105.68" cy="102.39" r="1.5" fill="#4e2670" fill-opacity="0.42" stroke="#4e2670" stroke-opacity="0.42"/>
<circle cx="112.85" cy="102.42" r="1.5" fill="#4e2670" fill-opacity="0.42" stroke="#4e2670" stroke-opacity="0.42"/>
<circle cx="118.33" cy="101.3" r="1.5" fill="#4e2670" fill-opacity="0.42" stroke="#4e2670" stroke-opacity="0.42"/>
<circle cx="108.12" cy="103.58" r="1.5" fill="#4e2670" fill-opacity="0.42" stroke="#4e2670" stroke-opacity="0.42"/>
<circle cx="110.84" cy="104.14" r="1.5" fill="#4e2670" fill-opacity="0.42" stroke="#4e2670" stroke-opacity="0.42"/>
<circle cx="117.68" cy="104.07" r="1.5" fill="#4e2670" fill-opacity="0.42" stroke="#4e2670" stroke-opacity="0.42"/>
<circle cx="113.7" cy="107.01" r="1.5" fill="#4e2670" fill-opacity="0.42" stroke="#4e2670" stroke-opacity="0.42"/>
<circle cx="121.45" cy="107.29" r="1.5" fill="#4e2670" fill-opacity="0.42" stroke="#4e2670" stroke-opacity="0.42"/>
<circle cx="108.54" cy="110.33" r="1.5" fill="#4e2670" fill-opacity="0.42" stroke="#4e2670" stroke-opacity="0.42"/>
<circle cx="118.43" cy="110.02" r="1.5" fill="#4e2670" fill-opacity="0.42" stroke="#4e2670" stroke-opacity="0.42"/>
<circle cx="105.87" cy="112.44" r="1.5" fill="#4e2670" fill-opacity="0.42" stroke="#4e2670" stroke-opacity="0.42"/>
<circle cx="124.86" cy="112.89" r="1.5" fill="#4e2670" fill-opacity="0.42" stroke="#4e2670" stroke-opacity="0.42"/>
</g>
<g transform="translate(0 0) scale(1 1.0000)">
<polygon points="95.55,40.6 28.9,156.35 162.3,156.35" fill="none" stroke="#000" stroke-width="1.5" stroke-linejoin="miter" stroke-miterlimit="1.9"/>
<path d="M92.8 45.36L91.4 42.94M34.4 156.35L33 158.77M159.55 151.59L162.35 151.59M86.97 55.46L85.57 53.04M46.06 156.35L44.66 158.77M153.72 141.49L156.52 141.49M81.14 65.56L79.74 63.13M57.72 156.35L56.32 158.77M147.89 131.39L150.69 131.39M75.31 75.66L73.91 73.23M69.38 156.35L67.98 158.77M142.06 121.29L144.86 121.29M69.48 85.75L68.08 83.33M81.04 156.35L79.64 158.77M136.23 111.2L139.03 111.2M63.65 95.85L62.25 93.43M92.7 156.35L91.3 158.77M130.4 101.1L133.2 101.1M57.82 105.95L56.42 103.52M104.36 156.35L102.96 158.77M124.57 91L127.37 91M51.99 116.05L50.59 113.62M116.02 156.35L114.62 158.77M118.74 80.9L121.54 80.9M46.16 126.14L44.76 123.72M127.68 156.35L126.28 158.77M112.91 70.81L115.71 70.81M40.33 136.24L38.93 133.82M139.34 156.35L137.94 158.77M107.08 60.71L109.88 60.71M34.5 146.34L33.1 143.91M151 156.35L149.6 158.77M101.25 50.61L104.05 50.61" stroke="#000" stroke-width="0.9" fill="none"/>
<text x="0" y="0" font-size="9.7" text-anchor="end" transform="translate(88.3 43.06) scale(0.9 1)" fill="#222" stroke="#222" stroke-width="0.22">0</text>
<text x="0" y="0" font-size="9.7" text-anchor="middle" transform="translate(33.2 170.65) scale(0.9 1)" fill="#222" stroke="#222" stroke-width="0.22">0</text>
<text x="0" y="0" font-size="9.7" text-anchor="start" transform="translate(166.45 154.39) scale(0.9 1)" fill="#222" stroke="#222" stroke-width="0.22">0</text>
<text x="0" y="0" font-size="9.7" text-anchor="end" transform="translate(76.64 63.26) scale(0.9 1)" fill="#222" stroke="#222" stroke-width="0.22">20</text>
<text x="0" y="0" font-size="9.7" text-anchor="middle" transform="translate(56.52 170.65) scale(0.9 1)" fill="#222" stroke="#222" stroke-width="0.22">20</text>
<text x="0" y="0" font-size="9.7" text-anchor="start" transform="translate(154.79 134.19) scale(0.9 1)" fill="#222" stroke="#222" stroke-width="0.22">20</text>
<text x="0" y="0" font-size="9.7" text-anchor="end" transform="translate(64.98 83.45) scale(0.9 1)" fill="#222" stroke="#222" stroke-width="0.22">40</text>
<text x="0" y="0" font-size="9.7" text-anchor="middle" transform="translate(79.84 170.65) scale(0.9 1)" fill="#222" stroke="#222" stroke-width="0.22">40</text>
<text x="0" y="0" font-size="9.7" text-anchor="start" transform="translate(143.13 114) scale(0.9 1)" fill="#222" stroke="#222" stroke-width="0.22">40</text>
<text x="0" y="0" font-size="9.7" text-anchor="end" transform="translate(53.32 103.65) scale(0.9 1)" fill="#222" stroke="#222" stroke-width="0.22">60</text>
<text x="0" y="0" font-size="9.7" text-anchor="middle" transform="translate(103.16 170.65) scale(0.9 1)" fill="#222" stroke="#222" stroke-width="0.22">60</text>
<text x="0" y="0" font-size="9.7" text-anchor="start" transform="translate(131.47 93.8) scale(0.9 1)" fill="#222" stroke="#222" stroke-width="0.22">60</text>
<text x="0" y="0" font-size="9.7" text-anchor="end" transform="translate(41.66 123.84) scale(0.9 1)" fill="#222" stroke="#222" stroke-width="0.22">80</text>
<text x="0" y="0" font-size="9.7" text-anchor="middle" transform="translate(126.48 170.65) scale(0.9 1)" fill="#222" stroke="#222" stroke-width="0.22">80</text>
<text x="0" y="0" font-size="9.7" text-anchor="start" transform="translate(119.81 73.61) scale(0.9 1)" fill="#222" stroke="#222" stroke-width="0.22">80</text>
<text x="0" y="0" font-size="9.7" text-anchor="end" transform="translate(30 144.04) scale(0.9 1)" fill="#222" stroke="#222" stroke-width="0.22">100</text>
<text x="0" y="0" font-size="9.7" text-anchor="middle" transform="translate(149.8 170.65) scale(0.9 1)" fill="#222" stroke="#222" stroke-width="0.22">100</text>
<text x="0" y="0" font-size="9.7" text-anchor="start" transform="translate(108.15 53.41) scale(0.9 1)" fill="#222" stroke="#222" stroke-width="0.22">100</text>
<text x="0" y="0" font-size="9" text-anchor="middle" font-weight="bold" transform="translate(95.45 35.4) scale(0.85 1)" fill="#111" stroke="#111" stroke-width="0.3">T</text>
<text x="14.9" y="163.8" font-size="9" text-anchor="middle" font-weight="bold" fill="#111" stroke="#111" stroke-width="0.3">GM</text>
<text x="175.1" y="164.05" font-size="9" text-anchor="middle" font-weight="bold" fill="#111" stroke="#111" stroke-width="0.3">BK</text>
<line x1="51.8" y1="66.9" x2="24.91" y2="113.27" stroke="#111" stroke-width="1.25"/><polygon points="22.8,116.9 23.12,111.07 25.01,113.09 27.7,113.73" fill="#111"/>
<line x1="170.6" y1="124.2" x2="144" y2="78.04" stroke="#111" stroke-width="1.25"/><polygon points="141.9,74.4 146.79,77.58 144.1,78.21 142.2,80.23" fill="#111"/>
<line x1="68.9" y1="175.6" x2="122.4" y2="175.6" stroke="#111" stroke-width="1.25"/><polygon points="126.6,175.6 121.4,178.25 122.2,175.6 121.4,172.95" fill="#111"/>
<text x="34.14" y="88.55" font-size="9" text-anchor="middle" font-weight="bold" transform="rotate(-60 34.14 88.55)" fill="#111" stroke="#111" stroke-width="0.3">GM</text>
<text x="161.96" y="99.75" font-size="9" text-anchor="middle" font-weight="bold" transform="rotate(60 161.96 99.75)" fill="#111" stroke="#111" stroke-width="0.3">T</text>
<text x="95.55" y="186.1" font-size="8.6" text-anchor="middle" font-weight="bold" fill="#111" stroke="#111" stroke-width="0.3">BK</text>
</g>
<circle cx="196.1" cy="65.2" r="3.5" fill="#4a2672"/>
<text x="0" y="0" font-size="8.2" text-anchor="start" transform="translate(204.7 68.05) scale(0.94 1)" fill="#222" stroke="#222" stroke-width="0.22">GBKT-64.2%</text>
<circle cx="196.1" cy="74.6" r="3.5" fill="#2d4b8c"/>
<text x="0" y="0" font-size="8.2" text-anchor="start" transform="translate(204.7 77.45) scale(0.94 1)" fill="#222" stroke="#222" stroke-width="0.22">GM-17.8%</text>
<circle cx="196.1" cy="84" r="3.5" fill="#6cb0e2"/>
<text x="0" y="0" font-size="8.2" text-anchor="start" transform="translate(204.7 86.85) scale(0.94 1)" fill="#222" stroke="#222" stroke-width="0.22">BK- 3.2%</text>
<circle cx="196.1" cy="93.4" r="3.5" fill="#e08f1e"/>
<text x="0" y="0" font-size="8.2" text-anchor="start" transform="translate(204.7 96.25) scale(0.94 1)" fill="#222" stroke="#222" stroke-width="0.22">BT- 1.4%</text>
<circle cx="196.1" cy="102.8" r="3.5" fill="#aa0a32"/>
<text x="0" y="0" font-size="8.2" text-anchor="start" transform="translate(204.7 105.65) scale(0.94 1)" fill="#222" stroke="#222" stroke-width="0.22">T-13.4%</text>
<text x="0" y="0" font-size="8.2" text-anchor="start" transform="translate(190.6 123.05) scale(0.95 1)" fill="#222" stroke="#222" stroke-width="0.22">IS number</text>
<circle cx="196" cy="131.9" r="1.5" fill="#000"/>
<text x="0" y="0" font-size="8.2" text-anchor="start" transform="translate(204.9 134.75) scale(0.95 1)" fill="#222" stroke="#222" stroke-width="0.22">1</text>
<circle cx="195.8" cy="142.6" r="5.3" fill="#000"/>
<text x="0" y="0" font-size="8.2" text-anchor="start" transform="translate(204.9 145.45) scale(0.95 1)" fill="#222" stroke="#222" stroke-width="0.22">24</text>
</g>
<g transform="translate(260 0.2)">
<text x="95.6" y="15.8" font-size="10.2" text-anchor="middle" fill="#222" stroke="#222" stroke-width="0.22">WAS5 m55</text>
<g stroke-width="0.6">
<circle cx="95.37" cy="51.51" r="4.1" fill="#a8002c" fill-opacity="0.98" stroke="#a8002c" stroke-opacity="0.98"/>
<circle cx="95.37" cy="51.51" r="3" fill="#a8002c" fill-opacity="0.53" stroke="#a8002c" stroke-opacity="0.53"/>
<circle cx="88.75" cy="63.73" r="1.45" fill="#a8002c" fill-opacity="0.64" stroke="#a8002c" stroke-opacity="0.64"/>
<circle cx="89.26" cy="65.05" r="1.45" fill="#4e2670" fill-opacity="0.42" stroke="#4e2670" stroke-opacity="0.42"/>
<circle cx="84.67" cy="70.35" r="1.45" fill="#a8002c" fill-opacity="0.64" stroke="#a8002c" stroke-opacity="0.64"/>
<circle cx="84.16" cy="71.37" r="1.45" fill="#4e2670" fill-opacity="0.42" stroke="#4e2670" stroke-opacity="0.42"/>
<circle cx="89.77" cy="70.86" r="1.45" fill="#4e2670" fill-opacity="0.42" stroke="#4e2670" stroke-opacity="0.42"/>
<circle cx="79.46" cy="79.42" r="1.3" fill="#a8002c" fill-opacity="0.96" stroke="#a8002c" stroke-opacity="0.96"/>
<circle cx="86.15" cy="80.8" r="1.45" fill="#4e2670" fill-opacity="0.42" stroke="#4e2670" stroke-opacity="0.42"/>
<circle cx="86.15" cy="84.61" r="1.45" fill="#4e2670" fill-opacity="0.42" stroke="#4e2670" stroke-opacity="0.42"/>
<circle cx="93.42" cy="84.03" r="1.45" fill="#4e2670" fill-opacity="0.42" stroke="#4e2670" stroke-opacity="0.42"/>
<circle cx="95.38" cy="88.65" r="1.45" fill="#4e2670" fill-opacity="0.42" stroke="#4e2670" stroke-opacity="0.42"/>
<circle cx="86.5" cy="89.57" r="1.45" fill="#4e2670" fill-opacity="0.42" stroke="#4e2670" stroke-opacity="0.42"/>
<circle cx="75.19" cy="86.92" r="1.45" fill="#4e2670" fill-opacity="0.51" stroke="#4e2670" stroke-opacity="0.51"/>
<circle cx="81.54" cy="99.03" r="2.3" fill="#4e2670" fill-opacity="0.47" stroke="#4e2670" stroke-opacity="0.47"/>
<circle cx="86.15" cy="99.95" r="1.45" fill="#4e2670" fill-opacity="0.42" stroke="#4e2670" stroke-opacity="0.42"/>
<circle cx="95.15" cy="100.18" r="1.45" fill="#4e2670" fill-opacity="0.59" stroke="#4e2670" stroke-opacity="0.59"/>
<circle cx="93.65" cy="103.07" r="1.45" fill="#4e2670" fill-opacity="0.68" stroke="#4e2670" stroke-opacity="0.68"/>
<circle cx="91.92" cy="103.42" r="1.45" fill="#4e2670" fill-opacity="0.42" stroke="#4e2670" stroke-opacity="0.42"/>
<circle cx="99.42" cy="98.45" r="1.45" fill="#4e2670" fill-opacity="0.42" stroke="#4e2670" stroke-opacity="0.42"/>
<circle cx="64.81" cy="104.57" r="1.45" fill="#4e2670" fill-opacity="0.42" stroke="#4e2670" stroke-opacity="0.42"/>
<circle cx="63.65" cy="107.34" r="1.45" fill="#4e2670" fill-opacity="0.59" stroke="#4e2670" stroke-opacity="0.59"/>
<circle cx="88.69" cy="108.26" r="1.45" fill="#4e2670" fill-opacity="0.42" stroke="#4e2670" stroke-opacity="0.42"/>
<circle cx="87.88" cy="112.65" r="1.45" fill="#4e2670" fill-opacity="0.42" stroke="#4e2670" stroke-opacity="0.42"/>
<circle cx="98.85" cy="115.18" r="1.45" fill="#4e2670" fill-opacity="0.42" stroke="#4e2670" stroke-opacity="0.42"/>
<circle cx="74.04" cy="118.65" r="1.45" fill="#4e2670" fill-opacity="0.42" stroke="#4e2670" stroke-opacity="0.42"/>
<circle cx="85" cy="118.65" r="1.45" fill="#4e2670" fill-opacity="0.42" stroke="#4e2670" stroke-opacity="0.42"/>
<circle cx="99.62" cy="59.8" r="1.3" fill="#a8002c" fill-opacity="0.48" stroke="#a8002c" stroke-opacity="0.48"/>
<circle cx="100.77" cy="61.53" r="1.3" fill="#a8002c" fill-opacity="0.48" stroke="#a8002c" stroke-opacity="0.48"/>
<circle cx="101.92" cy="63.26" r="1.3" fill="#a8002c" fill-opacity="0.48" stroke="#a8002c" stroke-opacity="0.48"/>
<circle cx="103.08" cy="64.99" r="1.3" fill="#a8002c" fill-opacity="0.48" stroke="#a8002c" stroke-opacity="0.48"/>
<circle cx="104.23" cy="66.49" r="1.3" fill="#a8002c" fill-opacity="0.48" stroke="#a8002c" stroke-opacity="0.48"/>
<circle cx="107.69" cy="72.49" r="1.5" fill="#e08f1e" fill-opacity="0.61" stroke="#e08f1e" stroke-opacity="0.61"/>
<circle cx="110.58" cy="77.68" r="1.5" fill="#e08f1e" fill-opacity="0.61" stroke="#e08f1e" stroke-opacity="0.61"/>
<circle cx="112.31" cy="80.57" r="1.5" fill="#e08f1e" fill-opacity="0.61" stroke="#e08f1e" stroke-opacity="0.61"/>
<circle cx="113.46" cy="82.88" r="1.5" fill="#e08f1e" fill-opacity="0.61" stroke="#e08f1e" stroke-opacity="0.61"/>
<circle cx="114.62" cy="84.61" r="1.5" fill="#e08f1e" fill-opacity="0.61" stroke="#e08f1e" stroke-opacity="0.61"/>
<circle cx="115.77" cy="86.92" r="1.5" fill="#e08f1e" fill-opacity="0.61" stroke="#e08f1e" stroke-opacity="0.61"/>
<circle cx="111.73" cy="82.3" r="1.5" fill="#e08f1e" fill-opacity="0.51" stroke="#e08f1e" stroke-opacity="0.51"/>
<circle cx="112.88" cy="84.61" r="1.5" fill="#e08f1e" fill-opacity="0.51" stroke="#e08f1e" stroke-opacity="0.51"/>
<circle cx="118.08" cy="90.95" r="1.5" fill="#e08f1e" fill-opacity="0.61" stroke="#e08f1e" stroke-opacity="0.61"/>
<circle cx="119.23" cy="93.26" r="1.5" fill="#e08f1e" fill-opacity="0.61" stroke="#e08f1e" stroke-opacity="0.61"/>
<circle cx="120.96" cy="95.57" r="1.5" fill="#e08f1e" fill-opacity="0.61" stroke="#e08f1e" stroke-opacity="0.61"/>
<circle cx="122.69" cy="98.45" r="1.5" fill="#e08f1e" fill-opacity="0.61" stroke="#e08f1e" stroke-opacity="0.61"/>
<circle cx="124.42" cy="101.34" r="1.5" fill="#e08f1e" fill-opacity="0.61" stroke="#e08f1e" stroke-opacity="0.61"/>
<circle cx="125.58" cy="103.65" r="1.5" fill="#e08f1e" fill-opacity="0.61" stroke="#e08f1e" stroke-opacity="0.61"/>
<circle cx="100.19" cy="77.68" r="1.45" fill="#4e2670" fill-opacity="0.42" stroke="#4e2670" stroke-opacity="0.42"/>
<circle cx="105.38" cy="79.42" r="1.45" fill="#4e2670" fill-opacity="0.42" stroke="#4e2670" stroke-opacity="0.42"/>
<circle cx="104.81" cy="92.11" r="1.45" fill="#4e2670" fill-opacity="0.68" stroke="#4e2670" stroke-opacity="0.68"/>
<circle cx="100.77" cy="97.88" r="1.45" fill="#4e2670" fill-opacity="0.68" stroke="#4e2670" stroke-opacity="0.68"/>
<circle cx="109.42" cy="100.18" r="1.45" fill="#4e2670" fill-opacity="0.42" stroke="#4e2670" stroke-opacity="0.42"/>
<circle cx="95" cy="88.65" r="1.45" fill="#4e2670" fill-opacity="0.42" stroke="#4e2670" stroke-opacity="0.42"/>
<circle cx="95.58" cy="100.18" r="1.45" fill="#4e2670" fill-opacity="0.68" stroke="#4e2670" stroke-opacity="0.68"/>
<circle cx="127.96" cy="108.18" r="1.5" fill="#e08f1e" fill-opacity="0.61" stroke="#e08f1e" stroke-opacity="0.61"/>
<circle cx="130.24" cy="111.23" r="1.5" fill="#e08f1e" fill-opacity="0.61" stroke="#e08f1e" stroke-opacity="0.61"/>
<circle cx="131.77" cy="114.28" r="2.3" fill="#e08f1e" fill-opacity="0.61" stroke="#e08f1e" stroke-opacity="0.61"/>
<circle cx="133.29" cy="115.81" r="1.5" fill="#e08f1e" fill-opacity="0.61" stroke="#e08f1e" stroke-opacity="0.61"/>
<circle cx="134.82" cy="119.62" r="1.5" fill="#e08f1e" fill-opacity="0.61" stroke="#e08f1e" stroke-opacity="0.61"/>
<circle cx="136.34" cy="122.67" r="1.5" fill="#e08f1e" fill-opacity="0.61" stroke="#e08f1e" stroke-opacity="0.61"/>
<circle cx="137.87" cy="125.71" r="1.5" fill="#e08f1e" fill-opacity="0.61" stroke="#e08f1e" stroke-opacity="0.61"/>
<circle cx="139.39" cy="128" r="1.5" fill="#e08f1e" fill-opacity="0.61" stroke="#e08f1e" stroke-opacity="0.61"/>
<circle cx="118.81" cy="108.18" r="1.45" fill="#4e2670" fill-opacity="0.42" stroke="#4e2670" stroke-opacity="0.42"/>
<circle cx="117.29" cy="112" r="1.45" fill="#4e2670" fill-opacity="0.42" stroke="#4e2670" stroke-opacity="0.42"/>
<circle cx="116.52" cy="124.95" r="1.45" fill="#4e2670" fill-opacity="0.42" stroke="#4e2670" stroke-opacity="0.42"/>
<circle cx="119.57" cy="131.05" r="1.45" fill="#4e2670" fill-opacity="0.42" stroke="#4e2670" stroke-opacity="0.42"/>
<circle cx="142.44" cy="132.57" r="1.45" fill="#4e2670" fill-opacity="0.68" stroke="#4e2670" stroke-opacity="0.68"/>
<circle cx="131.77" cy="142.48" r="1.45" fill="#4e2670" fill-opacity="0.42" stroke="#4e2670" stroke-opacity="0.42"/>
<circle cx="137.87" cy="146.29" r="1.45" fill="#4e2670" fill-opacity="0.42" stroke="#4e2670" stroke-opacity="0.42"/>
<circle cx="124.91" cy="142.48" r="1.45" fill="#4e2670" fill-opacity="0.42" stroke="#4e2670" stroke-opacity="0.42"/>
<circle cx="115.76" cy="140.2" r="1.45" fill="#4e2670" fill-opacity="0.42" stroke="#4e2670" stroke-opacity="0.42"/>
<circle cx="116.52" cy="144.77" r="1.45" fill="#4e2670" fill-opacity="0.42" stroke="#4e2670" stroke-opacity="0.42"/>
<circle cx="122.62" cy="145.53" r="1.45" fill="#4e2670" fill-opacity="0.42" stroke="#4e2670" stroke-opacity="0.42"/>
<circle cx="122.62" cy="150.1" r="2.3" fill="#4e2670" fill-opacity="0.42" stroke="#4e2670" stroke-opacity="0.42"/>
<circle cx="121.1" cy="151.63" r="1.45" fill="#4e2670" fill-opacity="0.42" stroke="#4e2670" stroke-opacity="0.42"/>
<circle cx="117.29" cy="150.87" r="1.45" fill="#4e2670" fill-opacity="0.42" stroke="#4e2670" stroke-opacity="0.42"/>
<circle cx="55.58" cy="121.15" r="1.45" fill="#4e2670" fill-opacity="0.42" stroke="#4e2670" stroke-opacity="0.42"/>
<circle cx="53.27" cy="124.61" r="1.45" fill="#4e2670" fill-opacity="0.42" stroke="#4e2670" stroke-opacity="0.42"/>
<circle cx="74.04" cy="119.42" r="1.45" fill="#4e2670" fill-opacity="0.42" stroke="#4e2670" stroke-opacity="0.42"/>
<circle cx="77.5" cy="120.8" r="1.45" fill="#4e2670" fill-opacity="0.42" stroke="#4e2670" stroke-opacity="0.42"/>
<circle cx="72.88" cy="122.88" r="1.45" fill="#4e2670" fill-opacity="0.42" stroke="#4e2670" stroke-opacity="0.42"/>
<circle cx="84.42" cy="119.42" r="1.45" fill="#4e2670" fill-opacity="0.42" stroke="#4e2670" stroke-opacity="0.42"/>
<circle cx="59.62" cy="128.07" r="1.45" fill="#4e2670" fill-opacity="0.42" stroke="#4e2670" stroke-opacity="0.42"/>
<circle cx="68.85" cy="128.07" r="1.45" fill="#4e2670" fill-opacity="0.68" stroke="#4e2670" stroke-opacity="0.68"/>
<circle cx="61.92" cy="131.53" r="1.45" fill="#4e2670" fill-opacity="0.42" stroke="#4e2670" stroke-opacity="0.42"/>
<circle cx="64.81" cy="132.68" r="1.45" fill="#4e2670" fill-opacity="0.42" stroke="#4e2670" stroke-opacity="0.42"/>
<circle cx="69.42" cy="133.26" r="1.45" fill="#4e2670" fill-opacity="0.42" stroke="#4e2670" stroke-opacity="0.42"/>
<circle cx="48.08" cy="133.84" r="1.45" fill="#4e2670" fill-opacity="0.42" stroke="#4e2670" stroke-opacity="0.42"/>
<circle cx="50.38" cy="133.84" r="1.45" fill="#4e2670" fill-opacity="0.42" stroke="#4e2670" stroke-opacity="0.42"/>
<circle cx="60.77" cy="135.57" r="1.45" fill="#4e2670" fill-opacity="0.42" stroke="#4e2670" stroke-opacity="0.42"/>
<circle cx="61.92" cy="138.45" r="1.45" fill="#4e2670" fill-opacity="0.59" stroke="#4e2670" stroke-opacity="0.59"/>
<circle cx="65.38" cy="141.92" r="1.45" fill="#4e2670" fill-opacity="0.42" stroke="#4e2670" stroke-opacity="0.42"/>
<circle cx="77.5" cy="137.3" r="1.45" fill="#4e2670" fill-opacity="0.42" stroke="#4e2670" stroke-opacity="0.42"/>
<circle cx="78.65" cy="139.61" r="1.45" fill="#4e2670" fill-opacity="0.59" stroke="#4e2670" stroke-opacity="0.59"/>
<circle cx="83.27" cy="134.99" r="1.45" fill="#4e2670" fill-opacity="0.42" stroke="#4e2670" stroke-opacity="0.42"/>
<circle cx="83.85" cy="138.45" r="1.45" fill="#4e2670" fill-opacity="0.42" stroke="#4e2670" stroke-opacity="0.42"/>
<circle cx="47.5" cy="142.49" r="1.45" fill="#4e2670" fill-opacity="0.42" stroke="#4e2670" stroke-opacity="0.42"/>
<circle cx="45.19" cy="144.8" r="1.45" fill="#4e2670" fill-opacity="0.42" stroke="#4e2670" stroke-opacity="0.42"/>
<circle cx="41.73" cy="145.03" r="1.45" fill="#4e2670" fill-opacity="0.42" stroke="#4e2670" stroke-opacity="0.42"/>
<circle cx="52.69" cy="141.92" r="1.45" fill="#4e2670" fill-opacity="0.42" stroke="#4e2670" stroke-opacity="0.42"/>
<circle cx="55" cy="140.76" r="1.45" fill="#4e2670" fill-opacity="0.42" stroke="#4e2670" stroke-opacity="0.42"/>
<circle cx="54.42" cy="144.22" r="1.45" fill="#4e2670" fill-opacity="0.68" stroke="#4e2670" stroke-opacity="0.68"/>
<circle cx="56.15" cy="143.65" r="1.45" fill="#4e2670" fill-opacity="0.42" stroke="#4e2670" stroke-opacity="0.42"/>
<circle cx="58.46" cy="145.38" r="1.45" fill="#4e2670" fill-opacity="0.42" stroke="#4e2670" stroke-opacity="0.42"/>
<circle cx="61.92" cy="145.38" r="1.45" fill="#4e2670" fill-opacity="0.42" stroke="#4e2670" stroke-opacity="0.42"/>
<circle cx="59.62" cy="147.68" r="1.45" fill="#4e2670" fill-opacity="0.42" stroke="#4e2670" stroke-opacity="0.42"/>
<circle cx="53.85" cy="148.26" r="1.45" fill="#4e2670" fill-opacity="0.68" stroke="#4e2670" stroke-opacity="0.68"/>
<circle cx="55.58" cy="150.57" r="1.45" fill="#4e2670" fill-opacity="0.42" stroke="#4e2670" stroke-opacity="0.42"/>
<circle cx="63.08" cy="148.84" r="1.45" fill="#4e2670" fill-opacity="0.42" stroke="#4e2670" stroke-opacity="0.42"/>
<circle cx="65.38" cy="146.53" r="1.45" fill="#4e2670" fill-opacity="0.42" stroke="#4e2670" stroke-opacity="0.42"/>
<circle cx="67.69" cy="145.95" r="1.45" fill="#4e2670" fill-opacity="0.68" stroke="#4e2670" stroke-opacity="0.68"/>
<circle cx="70" cy="147.68" r="1.45" fill="#4e2670" fill-opacity="0.42" stroke="#4e2670" stroke-opacity="0.42"/>
<circle cx="67.12" cy="149.42" r="1.45" fill="#4e2670" fill-opacity="0.42" stroke="#4e2670" stroke-opacity="0.42"/>
<circle cx="72.31" cy="147.11" r="1.45" fill="#4e2670" fill-opacity="0.42" stroke="#4e2670" stroke-opacity="0.42"/>
<circle cx="75.19" cy="143.65" r="1.45" fill="#4e2670" fill-opacity="0.68" stroke="#4e2670" stroke-opacity="0.68"/>
<circle cx="75.77" cy="145.95" r="1.45" fill="#4e2670" fill-opacity="0.42" stroke="#4e2670" stroke-opacity="0.42"/>
<circle cx="74.62" cy="149.42" r="1.45" fill="#4e2670" fill-opacity="0.42" stroke="#4e2670" stroke-opacity="0.42"/>
<circle cx="78.08" cy="148.26" r="1.45" fill="#4e2670" fill-opacity="0.42" stroke="#4e2670" stroke-opacity="0.42"/>
<circle cx="75.77" cy="151.49" r="1.45" fill="#4e2670" fill-opacity="0.68" stroke="#4e2670" stroke-opacity="0.68"/>
<circle cx="71.15" cy="151.15" r="1.45" fill="#4e2670" fill-opacity="0.42" stroke="#4e2670" stroke-opacity="0.42"/>
<circle cx="82.69" cy="149.99" r="1.45" fill="#4e2670" fill-opacity="0.42" stroke="#4e2670" stroke-opacity="0.42"/>
<circle cx="83.85" cy="142.49" r="1.45" fill="#4e2670" fill-opacity="0.42" stroke="#4e2670" stroke-opacity="0.42"/>
<circle cx="36.4" cy="151.64" r="2" fill="#4e2670" fill-opacity="0.59" stroke="#4e2670" stroke-opacity="0.59"/>
<circle cx="38.24" cy="151.16" r="2" fill="#4e2670" fill-opacity="0.59" stroke="#4e2670" stroke-opacity="0.59"/>
<circle cx="38.49" cy="151.63" r="2" fill="#4e2670" fill-opacity="0.59" stroke="#4e2670" stroke-opacity="0.59"/>
<circle cx="40.55" cy="151.02" r="2" fill="#4e2670" fill-opacity="0.59" stroke="#4e2670" stroke-opacity="0.59"/>
<circle cx="41.01" cy="150.42" r="2" fill="#4e2670" fill-opacity="0.59" stroke="#4e2670" stroke-opacity="0.59"/>
<circle cx="41.11" cy="150.57" r="2" fill="#4e2670" fill-opacity="0.59" stroke="#4e2670" stroke-opacity="0.59"/>
<circle cx="43.15" cy="149.92" r="2" fill="#4e2670" fill-opacity="0.59" stroke="#4e2670" stroke-opacity="0.59"/>
<circle cx="44.53" cy="150.12" r="2" fill="#4e2670" fill-opacity="0.59" stroke="#4e2670" stroke-opacity="0.59"/>
<circle cx="44.52" cy="149.68" r="2" fill="#4e2670" fill-opacity="0.59" stroke="#4e2670" stroke-opacity="0.59"/>
<circle cx="46.9" cy="150.83" r="2" fill="#4e2670" fill-opacity="0.59" stroke="#4e2670" stroke-opacity="0.59"/>
<circle cx="47.68" cy="150.51" r="2" fill="#4e2670" fill-opacity="0.59" stroke="#4e2670" stroke-opacity="0.59"/>
<circle cx="47.16" cy="149.89" r="2" fill="#4e2670" fill-opacity="0.59" stroke="#4e2670" stroke-opacity="0.59"/>
<circle cx="49" cy="149.41" r="2" fill="#4e2670" fill-opacity="0.59" stroke="#4e2670" stroke-opacity="0.59"/>
<circle cx="50.81" cy="149.76" r="2" fill="#4e2670" fill-opacity="0.59" stroke="#4e2670" stroke-opacity="0.59"/>
<circle cx="50.38" cy="150.47" r="2" fill="#4e2670" fill-opacity="0.59" stroke="#4e2670" stroke-opacity="0.59"/>
<circle cx="51.32" cy="150.57" r="2" fill="#4e2670" fill-opacity="0.59" stroke="#4e2670" stroke-opacity="0.59"/>
<circle cx="100.62" cy="118.3" r="1.45" fill="#4e2670" fill-opacity="0.42" stroke="#4e2670" stroke-opacity="0.42"/>
<circle cx="106.15" cy="114.26" r="1.45" fill="#4e2670" fill-opacity="0.42" stroke="#4e2670" stroke-opacity="0.42"/>
<circle cx="107.88" cy="119.8" r="1.45" fill="#4e2670" fill-opacity="0.59" stroke="#4e2670" stroke-opacity="0.59"/>
<circle cx="93.23" cy="126.15" r="1.45" fill="#4e2670" fill-opacity="0.42" stroke="#4e2670" stroke-opacity="0.42"/>
<circle cx="89.77" cy="129.03" r="1.45" fill="#4e2670" fill-opacity="0.59" stroke="#4e2670" stroke-opacity="0.59"/>
<circle cx="96.92" cy="129.26" r="1.45" fill="#4e2670" fill-opacity="0.42" stroke="#4e2670" stroke-opacity="0.42"/>
<circle cx="105.58" cy="127.88" r="1.45" fill="#4e2670" fill-opacity="0.42" stroke="#4e2670" stroke-opacity="0.42"/>
<circle cx="101.54" cy="132.49" r="1.45" fill="#4e2670" fill-opacity="0.42" stroke="#4e2670" stroke-opacity="0.42"/>
<circle cx="109.62" cy="131.11" r="1.45" fill="#4e2670" fill-opacity="0.59" stroke="#4e2670" stroke-opacity="0.59"/>
<circle cx="112.5" cy="130.42" r="1.45" fill="#4e2670" fill-opacity="0.42" stroke="#4e2670" stroke-opacity="0.42"/>
<circle cx="114.81" cy="125.57" r="1.45" fill="#4e2670" fill-opacity="0.42" stroke="#4e2670" stroke-opacity="0.42"/>
<circle cx="87.69" cy="135.38" r="1.45" fill="#4e2670" fill-opacity="0.59" stroke="#4e2670" stroke-opacity="0.59"/>
<circle cx="86.54" cy="137.68" r="1.45" fill="#4e2670" fill-opacity="0.42" stroke="#4e2670" stroke-opacity="0.42"/>
<circle cx="96.35" cy="136.53" r="1.45" fill="#4e2670" fill-opacity="0.42" stroke="#4e2670" stroke-opacity="0.42"/>
<circle cx="94.62" cy="141.72" r="1.45" fill="#4e2670" fill-opacity="0.42" stroke="#4e2670" stroke-opacity="0.42"/>
<circle cx="97.5" cy="142.3" r="1.45" fill="#4e2670" fill-opacity="0.42" stroke="#4e2670" stroke-opacity="0.42"/>
<circle cx="95.77" cy="145.18" r="1.45" fill="#4e2670" fill-opacity="0.68" stroke="#4e2670" stroke-opacity="0.68"/>
<circle cx="102.12" cy="139.42" r="1.45" fill="#4e2670" fill-opacity="0.42" stroke="#4e2670" stroke-opacity="0.42"/>
<circle cx="101.54" cy="141.72" r="1.45" fill="#4e2670" fill-opacity="0.68" stroke="#4e2670" stroke-opacity="0.68"/>
<circle cx="110.19" cy="138.26" r="1.45" fill="#4e2670" fill-opacity="0.68" stroke="#4e2670" stroke-opacity="0.68"/>
<circle cx="115.38" cy="139.99" r="1.45" fill="#4e2670" fill-opacity="0.42" stroke="#4e2670" stroke-opacity="0.42"/>
<circle cx="105" cy="142.88" r="1.45" fill="#4e2670" fill-opacity="0.42" stroke="#4e2670" stroke-opacity="0.42"/>
<circle cx="107.88" cy="142.3" r="1.45" fill="#4e2670" fill-opacity="0.42" stroke="#4e2670" stroke-opacity="0.42"/>
<circle cx="108.46" cy="144.03" r="1.45" fill="#4e2670" fill-opacity="0.42" stroke="#4e2670" stroke-opacity="0.42"/>
<circle cx="113.08" cy="144.61" r="1.45" fill="#4e2670" fill-opacity="0.42" stroke="#4e2670" stroke-opacity="0.42"/>
<circle cx="117.12" cy="144.03" r="1.45" fill="#4e2670" fill-opacity="0.59" stroke="#4e2670" stroke-opacity="0.59"/>
<circle cx="116.54" cy="145.76" r="1.45" fill="#4e2670" fill-opacity="0.42" stroke="#4e2670" stroke-opacity="0.42"/>
<circle cx="90.58" cy="145.18" r="1.45" fill="#4e2670" fill-opacity="0.42" stroke="#4e2670" stroke-opacity="0.42"/>
<circle cx="83.65" cy="146.92" r="1.45" fill="#4e2670" fill-opacity="0.42" stroke="#4e2670" stroke-opacity="0.42"/>
<circle cx="83.65" cy="133.07" r="1.45" fill="#4e2670" fill-opacity="0.42" stroke="#4e2670" stroke-opacity="0.42"/>
<circle cx="143.6" cy="136.3" r="1.6" fill="#e08f1e" fill-opacity="0.76" stroke="#e08f1e" stroke-opacity="0.76"/>
<circle cx="144.9" cy="138.5" r="1.7" fill="#e08f1e" fill-opacity="0.76" stroke="#e08f1e" stroke-opacity="0.76"/>
<circle cx="146.2" cy="140.6" r="1.9" fill="#e08f1e" fill-opacity="0.76" stroke="#e08f1e" stroke-opacity="0.76"/>
<circle cx="147.5" cy="142.3" r="2.3" fill="#e08f1e" fill-opacity="0.76" stroke="#e08f1e" stroke-opacity="0.76"/>
<circle cx="148.8" cy="144.1" r="3.2" fill="#e08f1e" fill-opacity="0.92" stroke="#e08f1e" stroke-opacity="0.92"/>
<circle cx="149" cy="144.1" r="1.3" fill="#6cb0e2" fill-opacity="0.42" stroke="#6cb0e2" stroke-opacity="0.42"/>
<circle cx="142.7" cy="133.3" r="1.45" fill="#4e2670" fill-opacity="0.68" stroke="#4e2670" stroke-opacity="0.68"/>
<circle cx="143.2" cy="134.6" r="1.2" fill="#6cb0e2" fill-opacity="0.51" stroke="#6cb0e2" stroke-opacity="0.51"/>
<circle cx="151" cy="151" r="2.3" fill="#6cb0e2" fill-opacity="0.68" stroke="#6cb0e2" stroke-opacity="0.68"/>
<circle cx="155.7" cy="149.3" r="2.3" fill="#6cb0e2" fill-opacity="0.59" stroke="#6cb0e2" stroke-opacity="0.59"/>
<circle cx="153.5" cy="151.4" r="4.1" fill="#6cb0e2" fill-opacity="0.81" stroke="#6cb0e2" stroke-opacity="0.81"/>
<circle cx="128.5" cy="151.3" r="1.45" fill="#6cb0e2" fill-opacity="0.51" stroke="#6cb0e2" stroke-opacity="0.51"/>
<circle cx="135.8" cy="151.3" r="1.45" fill="#6cb0e2" fill-opacity="0.51" stroke="#6cb0e2" stroke-opacity="0.51"/>
<circle cx="138" cy="151.3" r="1.45" fill="#4e2670" fill-opacity="0.81" stroke="#4e2670" stroke-opacity="0.81"/>
<circle cx="142.3" cy="151.3" r="1.45" fill="#4e2670" fill-opacity="0.81" stroke="#4e2670" stroke-opacity="0.81"/>
<circle cx="144.5" cy="151.3" r="1.45" fill="#6cb0e2" fill-opacity="0.51" stroke="#6cb0e2" stroke-opacity="0.51"/>
<circle cx="147.1" cy="151.3" r="1.45" fill="#4e2670" fill-opacity="0.51" stroke="#4e2670" stroke-opacity="0.51"/>
<circle cx="131.9" cy="142.8" r="1.45" fill="#4e2670" fill-opacity="0.42" stroke="#4e2670" stroke-opacity="0.42"/>
<circle cx="138.4" cy="146.7" r="1.45" fill="#4e2670" fill-opacity="0.42" stroke="#4e2670" stroke-opacity="0.42"/>
</g>
<g transform="translate(0 0.94) scale(1 0.9940)">
<polygon points="95.55,40.6 28.9,156.35 162.3,156.35" fill="none" stroke="#000" stroke-width="1.5" stroke-linejoin="miter" stroke-miterlimit="1.9"/>
<path d="M92.8 45.36L91.4 42.94M34.4 156.35L33 158.77M159.55 151.59L162.35 151.59M86.97 55.46L85.57 53.04M46.06 156.35L44.66 158.77M153.72 141.49L156.52 141.49M81.14 65.56L79.74 63.13M57.72 156.35L56.32 158.77M147.89 131.39L150.69 131.39M75.31 75.66L73.91 73.23M69.38 156.35L67.98 158.77M142.06 121.29L144.86 121.29M69.48 85.75L68.08 83.33M81.04 156.35L79.64 158.77M136.23 111.2L139.03 111.2M63.65 95.85L62.25 93.43M92.7 156.35L91.3 158.77M130.4 101.1L133.2 101.1M57.82 105.95L56.42 103.52M104.36 156.35L102.96 158.77M124.57 91L127.37 91M51.99 116.05L50.59 113.62M116.02 156.35L114.62 158.77M118.74 80.9L121.54 80.9M46.16 126.14L44.76 123.72M127.68 156.35L126.28 158.77M112.91 70.81L115.71 70.81M40.33 136.24L38.93 133.82M139.34 156.35L137.94 158.77M107.08 60.71L109.88 60.71M34.5 146.34L33.1 143.91M151 156.35L149.6 158.77M101.25 50.61L104.05 50.61" stroke="#000" stroke-width="0.9" fill="none"/>
<text x="0" y="0" font-size="9.7" text-anchor="end" transform="translate(88.3 43.06) scale(0.9 1)" fill="#222" stroke="#222" stroke-width="0.22">0</text>
<text x="0" y="0" font-size="9.7" text-anchor="middle" transform="translate(33.2 170.65) scale(0.9 1)" fill="#222" stroke="#222" stroke-width="0.22">0</text>
<text x="0" y="0" font-size="9.7" text-anchor="start" transform="translate(166.45 154.39) scale(0.9 1)" fill="#222" stroke="#222" stroke-width="0.22">0</text>
<text x="0" y="0" font-size="9.7" text-anchor="end" transform="translate(76.64 63.26) scale(0.9 1)" fill="#222" stroke="#222" stroke-width="0.22">20</text>
<text x="0" y="0" font-size="9.7" text-anchor="middle" transform="translate(56.52 170.65) scale(0.9 1)" fill="#222" stroke="#222" stroke-width="0.22">20</text>
<text x="0" y="0" font-size="9.7" text-anchor="start" transform="translate(154.79 134.19) scale(0.9 1)" fill="#222" stroke="#222" stroke-width="0.22">20</text>
<text x="0" y="0" font-size="9.7" text-anchor="end" transform="translate(64.98 83.45) scale(0.9 1)" fill="#222" stroke="#222" stroke-width="0.22">40</text>
<text x="0" y="0" font-size="9.7" text-anchor="middle" transform="translate(79.84 170.65) scale(0.9 1)" fill="#222" stroke="#222" stroke-width="0.22">40</text>
<text x="0" y="0" font-size="9.7" text-anchor="start" transform="translate(143.13 114) scale(0.9 1)" fill="#222" stroke="#222" stroke-width="0.22">40</text>
<text x="0" y="0" font-size="9.7" text-anchor="end" transform="translate(53.32 103.65) scale(0.9 1)" fill="#222" stroke="#222" stroke-width="0.22">60</text>
<text x="0" y="0" font-size="9.7" text-anchor="middle" transform="translate(103.16 170.65) scale(0.9 1)" fill="#222" stroke="#222" stroke-width="0.22">60</text>
<text x="0" y="0" font-size="9.7" text-anchor="start" transform="translate(131.47 93.8) scale(0.9 1)" fill="#222" stroke="#222" stroke-width="0.22">60</text>
<text x="0" y="0" font-size="9.7" text-anchor="end" transform="translate(41.66 123.84) scale(0.9 1)" fill="#222" stroke="#222" stroke-width="0.22">80</text>
<text x="0" y="0" font-size="9.7" text-anchor="middle" transform="translate(126.48 170.65) scale(0.9 1)" fill="#222" stroke="#222" stroke-width="0.22">80</text>
<text x="0" y="0" font-size="9.7" text-anchor="start" transform="translate(119.81 73.61) scale(0.9 1)" fill="#222" stroke="#222" stroke-width="0.22">80</text>
<text x="0" y="0" font-size="9.7" text-anchor="end" transform="translate(30 144.04) scale(0.9 1)" fill="#222" stroke="#222" stroke-width="0.22">100</text>
<text x="0" y="0" font-size="9.7" text-anchor="middle" transform="translate(149.8 170.65) scale(0.9 1)" fill="#222" stroke="#222" stroke-width="0.22">100</text>
<text x="0" y="0" font-size="9.7" text-anchor="start" transform="translate(108.15 53.41) scale(0.9 1)" fill="#222" stroke="#222" stroke-width="0.22">100</text>
<text x="0" y="0" font-size="9" text-anchor="middle" font-weight="bold" transform="translate(95.45 35.4) scale(0.85 1)" fill="#111" stroke="#111" stroke-width="0.3">T</text>
<text x="14.9" y="163.8" font-size="9" text-anchor="middle" font-weight="bold" fill="#111" stroke="#111" stroke-width="0.3">GM</text>
<text x="175.1" y="164.05" font-size="9" text-anchor="middle" font-weight="bold" fill="#111" stroke="#111" stroke-width="0.3">BK</text>
<line x1="51.8" y1="66.9" x2="24.91" y2="113.27" stroke="#111" stroke-width="1.25"/><polygon points="22.8,116.9 23.12,111.07 25.01,113.09 27.7,113.73" fill="#111"/>
<line x1="170.6" y1="124.2" x2="144" y2="78.04" stroke="#111" stroke-width="1.25"/><polygon points="141.9,74.4 146.79,77.58 144.1,78.21 142.2,80.23" fill="#111"/>
<line x1="68.9" y1="175.6" x2="122.4" y2="175.6" stroke="#111" stroke-width="1.25"/><polygon points="126.6,175.6 121.4,178.25 122.2,175.6 121.4,172.95" fill="#111"/>
<text x="34.14" y="88.55" font-size="9" text-anchor="middle" font-weight="bold" transform="rotate(-60 34.14 88.55)" fill="#111" stroke="#111" stroke-width="0.3">GM</text>
<text x="161.96" y="99.75" font-size="9" text-anchor="middle" font-weight="bold" transform="rotate(60 161.96 99.75)" fill="#111" stroke="#111" stroke-width="0.3">T</text>
<text x="95.55" y="186.1" font-size="8.6" text-anchor="middle" font-weight="bold" fill="#111" stroke="#111" stroke-width="0.3">BK</text>
</g>
<circle cx="196.1" cy="70.3" r="3.5" fill="#4a2672"/>
<text x="0" y="0" font-size="8.2" text-anchor="start" transform="translate(204.7 73.15) scale(0.94 1)" fill="#222" stroke="#222" stroke-width="0.22">GMBT-51.7%</text>
<circle cx="196.1" cy="79.7" r="3.5" fill="#e08f1e"/>
<text x="0" y="0" font-size="8.2" text-anchor="start" transform="translate(204.7 82.55) scale(0.94 1)" fill="#222" stroke="#222" stroke-width="0.22">BT-17.7%</text>
<circle cx="196.1" cy="89.1" r="3.5" fill="#6cb0e2"/>
<text x="0" y="0" font-size="8.2" text-anchor="start" transform="translate(204.7 91.95) scale(0.94 1)" fill="#222" stroke="#222" stroke-width="0.22">K-20.2%</text>
<circle cx="196.1" cy="98.5" r="3.5" fill="#aa0a32"/>
<text x="0" y="0" font-size="8.2" text-anchor="start" transform="translate(204.7 101.35) scale(0.94 1)" fill="#222" stroke="#222" stroke-width="0.22">T-10.4%</text>
<text x="0" y="0" font-size="8.2" text-anchor="start" transform="translate(190.6 118.75) scale(0.95 1)" fill="#222" stroke="#222" stroke-width="0.22">IS number</text>
<circle cx="196" cy="127.6" r="1.5" fill="#000"/>
<text x="0" y="0" font-size="8.2" text-anchor="start" transform="translate(204.9 130.45) scale(0.95 1)" fill="#222" stroke="#222" stroke-width="0.22">1</text>
<circle cx="195.8" cy="138.3" r="5.3" fill="#000"/>
<text x="0" y="0" font-size="8.2" text-anchor="start" transform="translate(204.9 141.15) scale(0.95 1)" fill="#222" stroke="#222" stroke-width="0.22">8</text>
</g>
<g transform="translate(0 197.2)">
<text x="95.6" y="16.7" font-size="10.2" text-anchor="middle" fill="#222" stroke="#222" stroke-width="0.22">&#946;S/&#946;S m24</text>
<g stroke-width="0.6">
<circle cx="91.35" cy="59.53" r="1.45" fill="#e08f1e" fill-opacity="0.4" stroke="#e08f1e" stroke-opacity="0.4"/>
<circle cx="87.31" cy="66.45" r="1.45" fill="#e08f1e" fill-opacity="0.4" stroke="#e08f1e" stroke-opacity="0.4"/>
<circle cx="101.73" cy="63.34" r="1.45" fill="#e08f1e" fill-opacity="0.4" stroke="#e08f1e" stroke-opacity="0.4"/>
<circle cx="102.88" cy="72.22" r="1.45" fill="#e08f1e" fill-opacity="0.4" stroke="#e08f1e" stroke-opacity="0.4"/>
<circle cx="102.31" cy="77.18" r="1.45" fill="#e08f1e" fill-opacity="0.4" stroke="#e08f1e" stroke-opacity="0.4"/>
<circle cx="90.19" cy="83.42" r="1.45" fill="#e08f1e" fill-opacity="0.4" stroke="#e08f1e" stroke-opacity="0.4"/>
<circle cx="108.65" cy="85.26" r="1.45" fill="#e08f1e" fill-opacity="0.4" stroke="#e08f1e" stroke-opacity="0.4"/>
<circle cx="83.85" cy="82.03" r="1.45" fill="#4e2670" fill-opacity="0.42" stroke="#4e2670" stroke-opacity="0.42"/>
<circle cx="105.77" cy="80.3" r="1.45" fill="#4e2670" fill-opacity="0.42" stroke="#4e2670" stroke-opacity="0.42"/>
<circle cx="93.65" cy="87.22" r="1.45" fill="#4e2670" fill-opacity="0.42" stroke="#4e2670" stroke-opacity="0.42"/>
<circle cx="107.5" cy="86.42" r="1.45" fill="#4e2670" fill-opacity="0.42" stroke="#4e2670" stroke-opacity="0.42"/>
<circle cx="90.19" cy="83.95" r="1.45" fill="#e08f1e" fill-opacity="0.4" stroke="#e08f1e" stroke-opacity="0.4"/>
<circle cx="83.85" cy="82.8" r="1.45" fill="#4e2670" fill-opacity="0.42" stroke="#4e2670" stroke-opacity="0.42"/>
<circle cx="93.08" cy="87.42" r="1.45" fill="#4e2670" fill-opacity="0.42" stroke="#4e2670" stroke-opacity="0.42"/>
<circle cx="95.62" cy="87.99" r="1.45" fill="#4e2670" fill-opacity="0.42" stroke="#4e2670" stroke-opacity="0.42"/>
<circle cx="97.69" cy="94.34" r="1.45" fill="#4e2670" fill-opacity="0.42" stroke="#4e2670" stroke-opacity="0.42"/>
<circle cx="98.85" cy="96.65" r="1.45" fill="#4e2670" fill-opacity="0.42" stroke="#4e2670" stroke-opacity="0.42"/>
<circle cx="86.15" cy="98.38" r="1.45" fill="#4e2670" fill-opacity="0.42" stroke="#4e2670" stroke-opacity="0.42"/>
<circle cx="94.23" cy="100.11" r="1.45" fill="#4e2670" fill-opacity="0.42" stroke="#4e2670" stroke-opacity="0.42"/>
<circle cx="80.38" cy="102.42" r="1.45" fill="#4e2670" fill-opacity="0.42" stroke="#4e2670" stroke-opacity="0.42"/>
<circle cx="80.96" cy="105.3" r="1.45" fill="#4e2670" fill-opacity="0.42" stroke="#4e2670" stroke-opacity="0.42"/>
<circle cx="84.42" cy="108.18" r="1.45" fill="#4e2670" fill-opacity="0.42" stroke="#4e2670" stroke-opacity="0.42"/>
<circle cx="89.62" cy="102.99" r="1.45" fill="#4e2670" fill-opacity="0.42" stroke="#4e2670" stroke-opacity="0.42"/>
<circle cx="93.08" cy="104.72" r="1.45" fill="#4e2670" fill-opacity="0.42" stroke="#4e2670" stroke-opacity="0.42"/>
<circle cx="95.38" cy="105.3" r="1.45" fill="#4e2670" fill-opacity="0.68" stroke="#4e2670" stroke-opacity="0.68"/>
<circle cx="98.85" cy="107.03" r="1.45" fill="#4e2670" fill-opacity="0.42" stroke="#4e2670" stroke-opacity="0.42"/>
<circle cx="92.5" cy="109.34" r="1.45" fill="#4e2670" fill-opacity="0.59" stroke="#4e2670" stroke-opacity="0.59"/>
<circle cx="94.81" cy="108.76" r="1.45" fill="#4e2670" fill-opacity="0.68" stroke="#4e2670" stroke-opacity="0.68"/>
<circle cx="97.69" cy="110.49" r="1.45" fill="#4e2670" fill-opacity="0.68" stroke="#4e2670" stroke-opacity="0.68"/>
<circle cx="87.31" cy="112.22" r="1.45" fill="#4e2670" fill-opacity="0.42" stroke="#4e2670" stroke-opacity="0.42"/>
<circle cx="90.77" cy="113.95" r="1.45" fill="#4e2670" fill-opacity="0.42" stroke="#4e2670" stroke-opacity="0.42"/>
<circle cx="94.23" cy="112.8" r="1.45" fill="#4e2670" fill-opacity="0.42" stroke="#4e2670" stroke-opacity="0.42"/>
<circle cx="96.54" cy="116.26" r="1.45" fill="#4e2670" fill-opacity="0.68" stroke="#4e2670" stroke-opacity="0.68"/>
<circle cx="98.85" cy="113.95" r="1.45" fill="#4e2670" fill-opacity="0.42" stroke="#4e2670" stroke-opacity="0.42"/>
<circle cx="74.04" cy="111.07" r="1.45" fill="#4e2670" fill-opacity="0.42" stroke="#4e2670" stroke-opacity="0.42"/>
<circle cx="73.46" cy="113.38" r="1.45" fill="#4e2670" fill-opacity="0.42" stroke="#4e2670" stroke-opacity="0.42"/>
<circle cx="79.23" cy="116.26" r="1.45" fill="#4e2670" fill-opacity="0.42" stroke="#4e2670" stroke-opacity="0.42"/>
<circle cx="83.85" cy="117.42" r="1.45" fill="#4e2670" fill-opacity="0.42" stroke="#4e2670" stroke-opacity="0.42"/>
<circle cx="86.15" cy="119.15" r="1.45" fill="#4e2670" fill-opacity="0.42" stroke="#4e2670" stroke-opacity="0.42"/>
<circle cx="89.62" cy="117.42" r="1.45" fill="#4e2670" fill-opacity="0.42" stroke="#4e2670" stroke-opacity="0.42"/>
<circle cx="93.65" cy="119.49" r="1.45" fill="#e08f1e" fill-opacity="0.4" stroke="#e08f1e" stroke-opacity="0.4"/>
<circle cx="98.85" cy="119.15" r="1.45" fill="#e08f1e" fill-opacity="0.4" stroke="#e08f1e" stroke-opacity="0.4"/>
<circle cx="71.15" cy="120.88" r="1.45" fill="#4e2670" fill-opacity="0.42" stroke="#4e2670" stroke-opacity="0.42"/>
<circle cx="67.69" cy="123.18" r="1.45" fill="#4e2670" fill-opacity="0.42" stroke="#4e2670" stroke-opacity="0.42"/>
<circle cx="73.46" cy="122.61" r="1.45" fill="#4e2670" fill-opacity="0.42" stroke="#4e2670" stroke-opacity="0.42"/>
<circle cx="76.92" cy="120.88" r="1.45" fill="#4e2670" fill-opacity="0.42" stroke="#4e2670" stroke-opacity="0.42"/>
<circle cx="79.23" cy="124.34" r="1.45" fill="#4e2670" fill-opacity="0.42" stroke="#4e2670" stroke-opacity="0.42"/>
<circle cx="82.69" cy="122.03" r="1.45" fill="#4e2670" fill-opacity="0.42" stroke="#4e2670" stroke-opacity="0.42"/>
<circle cx="86.15" cy="122.61" r="1.45" fill="#4e2670" fill-opacity="0.42" stroke="#4e2670" stroke-opacity="0.42"/>
<circle cx="81.54" cy="126.65" r="1.45" fill="#4e2670" fill-opacity="0.42" stroke="#4e2670" stroke-opacity="0.42"/>
<circle cx="87.31" cy="126.07" r="1.45" fill="#4e2670" fill-opacity="0.42" stroke="#4e2670" stroke-opacity="0.42"/>
<circle cx="90.77" cy="124.34" r="1.45" fill="#4e2670" fill-opacity="0.42" stroke="#4e2670" stroke-opacity="0.42"/>
<circle cx="95.38" cy="122.61" r="1.45" fill="#4e2670" fill-opacity="0.42" stroke="#4e2670" stroke-opacity="0.42"/>
<circle cx="98.27" cy="124.92" r="1.45" fill="#4e2670" fill-opacity="0.42" stroke="#4e2670" stroke-opacity="0.42"/>
<circle cx="71.15" cy="126.07" r="1.45" fill="#4e2670" fill-opacity="0.42" stroke="#4e2670" stroke-opacity="0.42"/>
<circle cx="74.62" cy="126.65" r="1.45" fill="#4e2670" fill-opacity="0.42" stroke="#4e2670" stroke-opacity="0.42"/>
<circle cx="65.38" cy="119.72" r="1.45" fill="#27437f" fill-opacity="0.38" stroke="#27437f" stroke-opacity="0.38"/>
<circle cx="53.27" cy="124.92" r="1.45" fill="#27437f" fill-opacity="0.38" stroke="#27437f" stroke-opacity="0.38"/>
<circle cx="102.5" cy="77.8" r="1.45" fill="#e08f1e" fill-opacity="0.4" stroke="#e08f1e" stroke-opacity="0.4"/>
<circle cx="105.62" cy="80.68" r="1.45" fill="#4e2670" fill-opacity="0.42" stroke="#4e2670" stroke-opacity="0.42"/>
<circle cx="108.62" cy="85.3" r="1.45" fill="#e08f1e" fill-opacity="0.4" stroke="#e08f1e" stroke-opacity="0.4"/>
<circle cx="107.46" cy="86.11" r="1.45" fill="#4e2670" fill-opacity="0.42" stroke="#4e2670" stroke-opacity="0.42"/>
<circle cx="95.58" cy="88.18" r="1.45" fill="#4e2670" fill-opacity="0.42" stroke="#4e2670" stroke-opacity="0.42"/>
<circle cx="108.27" cy="92.22" r="1.45" fill="#4e2670" fill-opacity="0.42" stroke="#4e2670" stroke-opacity="0.42"/>
<circle cx="109.42" cy="93.95" r="1.45" fill="#e08f1e" fill-opacity="0.4" stroke="#e08f1e" stroke-opacity="0.4"/>
<circle cx="97.31" cy="95.11" r="1.45" fill="#4e2670" fill-opacity="0.42" stroke="#4e2670" stroke-opacity="0.42"/>
<circle cx="98.46" cy="97.99" r="1.45" fill="#4e2670" fill-opacity="0.42" stroke="#4e2670" stroke-opacity="0.42"/>
<circle cx="103.65" cy="96.26" r="1.45" fill="#4e2670" fill-opacity="0.42" stroke="#4e2670" stroke-opacity="0.42"/>
<circle cx="108.27" cy="96.03" r="1.45" fill="#4e2670" fill-opacity="0.42" stroke="#4e2670" stroke-opacity="0.42"/>
<circle cx="114.04" cy="98.57" r="1.45" fill="#e08f1e" fill-opacity="0.4" stroke="#e08f1e" stroke-opacity="0.4"/>
<circle cx="112.31" cy="101.45" r="1.45" fill="#e08f1e" fill-opacity="0.4" stroke="#e08f1e" stroke-opacity="0.4"/>
<circle cx="111.73" cy="104.11" r="1.45" fill="#4e2670" fill-opacity="0.42" stroke="#4e2670" stroke-opacity="0.42"/>
<circle cx="119.81" cy="103.42" r="1.45" fill="#e08f1e" fill-opacity="0.4" stroke="#e08f1e" stroke-opacity="0.4"/>
<circle cx="122.69" cy="106.07" r="1.45" fill="#4e2670" fill-opacity="0.42" stroke="#4e2670" stroke-opacity="0.42"/>
<circle cx="126.15" cy="105.26" r="1.45" fill="#e08f1e" fill-opacity="0.65" stroke="#e08f1e" stroke-opacity="0.65"/>
<circle cx="124.42" cy="111.03" r="1.45" fill="#e08f1e" fill-opacity="0.4" stroke="#e08f1e" stroke-opacity="0.4"/>
<circle cx="129.62" cy="111.49" r="1.45" fill="#e08f1e" fill-opacity="0.4" stroke="#e08f1e" stroke-opacity="0.4"/>
<circle cx="114.04" cy="108.95" r="1.45" fill="#4e2670" fill-opacity="0.42" stroke="#4e2670" stroke-opacity="0.42"/>
<circle cx="108.85" cy="108.38" r="1.45" fill="#4e2670" fill-opacity="0.42" stroke="#4e2670" stroke-opacity="0.42"/>
<circle cx="105.96" cy="110.11" r="1.45" fill="#4e2670" fill-opacity="0.42" stroke="#4e2670" stroke-opacity="0.42"/>
<circle cx="100.77" cy="109.53" r="1.45" fill="#4e2670" fill-opacity="0.42" stroke="#4e2670" stroke-opacity="0.42"/>
<circle cx="96.73" cy="108.95" r="1.45" fill="#4e2670" fill-opacity="0.68" stroke="#4e2670" stroke-opacity="0.68"/>
<circle cx="95.58" cy="106.07" r="1.45" fill="#4e2670" fill-opacity="0.77" stroke="#4e2670" stroke-opacity="0.77"/>
<circle cx="103.08" cy="112.42" r="1.45" fill="#4e2670" fill-opacity="0.42" stroke="#4e2670" stroke-opacity="0.42"/>
<circle cx="110" cy="113.57" r="1.45" fill="#4e2670" fill-opacity="0.42" stroke="#4e2670" stroke-opacity="0.42"/>
<circle cx="116.92" cy="113.57" r="1.45" fill="#4e2670" fill-opacity="0.42" stroke="#4e2670" stroke-opacity="0.42"/>
<circle cx="122.12" cy="114.72" r="1.45" fill="#e08f1e" fill-opacity="0.4" stroke="#e08f1e" stroke-opacity="0.4"/>
<circle cx="131.92" cy="115.3" r="1.45" fill="#e08f1e" fill-opacity="0.4" stroke="#e08f1e" stroke-opacity="0.4"/>
<circle cx="101.92" cy="115.3" r="1.45" fill="#4e2670" fill-opacity="0.42" stroke="#4e2670" stroke-opacity="0.42"/>
<circle cx="96.73" cy="115.88" r="1.45" fill="#4e2670" fill-opacity="0.77" stroke="#4e2670" stroke-opacity="0.77"/>
<circle cx="100.19" cy="118.76" r="1.45" fill="#e08f1e" fill-opacity="0.4" stroke="#e08f1e" stroke-opacity="0.4"/>
<circle cx="109.42" cy="117.61" r="1.45" fill="#e08f1e" fill-opacity="0.4" stroke="#e08f1e" stroke-opacity="0.4"/>
<circle cx="105.38" cy="118.18" r="1.45" fill="#4e2670" fill-opacity="0.42" stroke="#4e2670" stroke-opacity="0.42"/>
<circle cx="112.31" cy="119.92" r="1.45" fill="#4e2670" fill-opacity="0.42" stroke="#4e2670" stroke-opacity="0.42"/>
<circle cx="118.08" cy="119.34" r="1.45" fill="#4e2670" fill-opacity="0.42" stroke="#4e2670" stroke-opacity="0.42"/>
<circle cx="123.27" cy="118.18" r="1.45" fill="#e08f1e" fill-opacity="0.4" stroke="#e08f1e" stroke-opacity="0.4"/>
<circle cx="121.54" cy="121.07" r="1.45" fill="#4e2670" fill-opacity="0.42" stroke="#4e2670" stroke-opacity="0.42"/>
<circle cx="127.31" cy="122.22" r="1.45" fill="#e08f1e" fill-opacity="0.4" stroke="#e08f1e" stroke-opacity="0.4"/>
<circle cx="105.38" cy="122.22" r="1.45" fill="#e08f1e" fill-opacity="0.4" stroke="#e08f1e" stroke-opacity="0.4"/>
<circle cx="37.92" cy="151.26" r="1.6" fill="#27437f" fill-opacity="0.77" stroke="#27437f" stroke-opacity="0.77"/>
<circle cx="41.15" cy="151.26" r="1.45" fill="#27437f" fill-opacity="0.34" stroke="#27437f" stroke-opacity="0.34"/>
<circle cx="44.04" cy="151.26" r="1.45" fill="#27437f" fill-opacity="0.34" stroke="#27437f" stroke-opacity="0.34"/>
<circle cx="46.35" cy="151.26" r="1.45" fill="#27437f" fill-opacity="0.42" stroke="#27437f" stroke-opacity="0.42"/>
<circle cx="49.23" cy="151.26" r="1.45" fill="#27437f" fill-opacity="0.51" stroke="#27437f" stroke-opacity="0.51"/>
<circle cx="52.69" cy="151.26" r="1.45" fill="#27437f" fill-opacity="0.59" stroke="#27437f" stroke-opacity="0.59"/>
<circle cx="56.15" cy="151.26" r="1.45" fill="#27437f" fill-opacity="0.51" stroke="#27437f" stroke-opacity="0.51"/>
<circle cx="59.04" cy="151.26" r="1.45" fill="#27437f" fill-opacity="0.59" stroke="#27437f" stroke-opacity="0.59"/>
<circle cx="60.77" cy="151.26" r="1.45" fill="#4e2670" fill-opacity="0.59" stroke="#4e2670" stroke-opacity="0.59"/>
<circle cx="69.42" cy="151.26" r="3.3" fill="#27437f" fill-opacity="0.26" stroke="#27437f" stroke-opacity="0.26"/>
<circle cx="68.27" cy="151.26" r="1.45" fill="#4e2670" fill-opacity="0.59" stroke="#4e2670" stroke-opacity="0.59"/>
<circle cx="70.58" cy="151.26" r="1.45" fill="#4e2670" fill-opacity="0.59" stroke="#4e2670" stroke-opacity="0.59"/>
<circle cx="75.77" cy="151.26" r="1.45" fill="#4e2670" fill-opacity="0.68" stroke="#4e2670" stroke-opacity="0.68"/>
<circle cx="78.08" cy="151.26" r="1.45" fill="#4e2670" fill-opacity="0.77" stroke="#4e2670" stroke-opacity="0.77"/>
<circle cx="80.96" cy="151.26" r="1.45" fill="#4e2670" fill-opacity="0.68" stroke="#4e2670" stroke-opacity="0.68"/>
<circle cx="85" cy="151.26" r="1.45" fill="#4e2670" fill-opacity="0.42" stroke="#4e2670" stroke-opacity="0.42"/>
<circle cx="59.62" cy="129.34" r="1.45" fill="#4e2670" fill-opacity="0.42" stroke="#4e2670" stroke-opacity="0.42"/>
<circle cx="60.77" cy="135.11" r="1.45" fill="#4e2670" fill-opacity="0.42" stroke="#4e2670" stroke-opacity="0.42"/>
<circle cx="65.38" cy="136.26" r="1.45" fill="#4e2670" fill-opacity="0.42" stroke="#4e2670" stroke-opacity="0.42"/>
<circle cx="48.65" cy="142.03" r="1.45" fill="#4e2670" fill-opacity="0.42" stroke="#4e2670" stroke-opacity="0.42"/>
<circle cx="55.58" cy="140.88" r="1.45" fill="#4e2670" fill-opacity="0.42" stroke="#4e2670" stroke-opacity="0.42"/>
<circle cx="58.46" cy="140.3" r="1.45" fill="#4e2670" fill-opacity="0.42" stroke="#4e2670" stroke-opacity="0.42"/>
<circle cx="61.92" cy="142.03" r="1.45" fill="#4e2670" fill-opacity="0.42" stroke="#4e2670" stroke-opacity="0.42"/>
<circle cx="60.77" cy="144.92" r="1.45" fill="#4e2670" fill-opacity="0.42" stroke="#4e2670" stroke-opacity="0.42"/>
<circle cx="64.81" cy="144.34" r="1.45" fill="#4e2670" fill-opacity="0.42" stroke="#4e2670" stroke-opacity="0.42"/>
<circle cx="61.35" cy="148.38" r="1.45" fill="#4e2670" fill-opacity="0.42" stroke="#4e2670" stroke-opacity="0.42"/>
<circle cx="57.31" cy="144.34" r="1.45" fill="#4e2670" fill-opacity="0.42" stroke="#4e2670" stroke-opacity="0.42"/>
<circle cx="82.31" cy="151.26" r="1.45" fill="#4e2670" fill-opacity="0.42" stroke="#4e2670" stroke-opacity="0.42"/>
<circle cx="84.62" cy="151.26" r="1.45" fill="#4e2670" fill-opacity="0.42" stroke="#4e2670" stroke-opacity="0.42"/>
<circle cx="91.54" cy="151.26" r="1.45" fill="#4e2670" fill-opacity="0.68" stroke="#4e2670" stroke-opacity="0.68"/>
<circle cx="95" cy="151.26" r="1.45" fill="#4e2670" fill-opacity="0.77" stroke="#4e2670" stroke-opacity="0.77"/>
<circle cx="97.31" cy="151.26" r="1.45" fill="#4e2670" fill-opacity="0.77" stroke="#4e2670" stroke-opacity="0.77"/>
<circle cx="99.62" cy="151.26" r="1.45" fill="#4e2670" fill-opacity="0.68" stroke="#4e2670" stroke-opacity="0.68"/>
<circle cx="106.54" cy="151.26" r="3.3" fill="#e08f1e" fill-opacity="0.28" stroke="#e08f1e" stroke-opacity="0.28"/>
<circle cx="108.27" cy="151.26" r="1.45" fill="#4e2670" fill-opacity="0.77" stroke="#4e2670" stroke-opacity="0.77"/>
<circle cx="113.46" cy="151.26" r="1.45" fill="#4e2670" fill-opacity="0.68" stroke="#4e2670" stroke-opacity="0.68"/>
<circle cx="116.92" cy="151.26" r="1.45" fill="#4e2670" fill-opacity="0.68" stroke="#4e2670" stroke-opacity="0.68"/>
<circle cx="122.69" cy="151.26" r="1.45" fill="#e08f1e" fill-opacity="0.4" stroke="#e08f1e" stroke-opacity="0.4"/>
<circle cx="125.58" cy="151.26" r="3.3" fill="#e08f1e" fill-opacity="0.28" stroke="#e08f1e" stroke-opacity="0.28"/>
<circle cx="128.46" cy="151.26" r="1.45" fill="#e08f1e" fill-opacity="0.57" stroke="#e08f1e" stroke-opacity="0.57"/>
<circle cx="132.5" cy="151.26" r="1.45" fill="#4e2670" fill-opacity="0.59" stroke="#4e2670" stroke-opacity="0.59"/>
<circle cx="135.96" cy="151.26" r="1.45" fill="#f0c228" fill-opacity="0.57" stroke="#f0c228" stroke-opacity="0.57"/>
<circle cx="138.85" cy="151.26" r="1.45" fill="#f0c228" fill-opacity="0.4" stroke="#f0c228" stroke-opacity="0.4"/>
<circle cx="115.77" cy="121.26" r="1.45" fill="#4e2670" fill-opacity="0.42" stroke="#4e2670" stroke-opacity="0.42"/>
<circle cx="113.46" cy="124.15" r="1.45" fill="#4e2670" fill-opacity="0.42" stroke="#4e2670" stroke-opacity="0.42"/>
<circle cx="119.23" cy="122.99" r="1.45" fill="#4e2670" fill-opacity="0.42" stroke="#4e2670" stroke-opacity="0.42"/>
<circle cx="120.38" cy="124.72" r="1.45" fill="#4e2670" fill-opacity="0.42" stroke="#4e2670" stroke-opacity="0.42"/>
<circle cx="131.35" cy="127.03" r="3.3" fill="#4e2670" fill-opacity="0.42" stroke="#4e2670" stroke-opacity="0.42"/>
<circle cx="123.85" cy="129.34" r="1.45" fill="#4e2670" fill-opacity="0.42" stroke="#4e2670" stroke-opacity="0.42"/>
<circle cx="126.15" cy="129.34" r="1.45" fill="#e08f1e" fill-opacity="0.4" stroke="#e08f1e" stroke-opacity="0.4"/>
<circle cx="133.65" cy="135.68" r="1.45" fill="#4e2670" fill-opacity="0.42" stroke="#4e2670" stroke-opacity="0.42"/>
<circle cx="126.15" cy="136.84" r="1.45" fill="#4e2670" fill-opacity="0.42" stroke="#4e2670" stroke-opacity="0.42"/>
<circle cx="126.15" cy="139.72" r="1.45" fill="#4e2670" fill-opacity="0.42" stroke="#4e2670" stroke-opacity="0.42"/>
<circle cx="119.81" cy="133.38" r="1.45" fill="#e08f1e" fill-opacity="0.4" stroke="#e08f1e" stroke-opacity="0.4"/>
<circle cx="118.08" cy="135.68" r="1.45" fill="#4e2670" fill-opacity="0.42" stroke="#4e2670" stroke-opacity="0.42"/>
<circle cx="116.35" cy="137.99" r="1.45" fill="#e08f1e" fill-opacity="0.4" stroke="#e08f1e" stroke-opacity="0.4"/>
<circle cx="114.04" cy="138.57" r="1.45" fill="#4e2670" fill-opacity="0.42" stroke="#4e2670" stroke-opacity="0.42"/>
<circle cx="110.58" cy="127.03" r="1.45" fill="#4e2670" fill-opacity="0.42" stroke="#4e2670" stroke-opacity="0.42"/>
<circle cx="111.73" cy="131.65" r="1.45" fill="#4e2670" fill-opacity="0.42" stroke="#4e2670" stroke-opacity="0.42"/>
<circle cx="114.62" cy="132.8" r="1.45" fill="#4e2670" fill-opacity="0.42" stroke="#4e2670" stroke-opacity="0.42"/>
<circle cx="112.88" cy="142.03" r="1.45" fill="#4e2670" fill-opacity="0.42" stroke="#4e2670" stroke-opacity="0.42"/>
<circle cx="116.92" cy="142.61" r="1.45" fill="#4e2670" fill-opacity="0.42" stroke="#4e2670" stroke-opacity="0.42"/>
<circle cx="122.69" cy="141.45" r="1.45" fill="#4e2670" fill-opacity="0.42" stroke="#4e2670" stroke-opacity="0.42"/>
<circle cx="126.15" cy="143.18" r="1.45" fill="#e08f1e" fill-opacity="0.4" stroke="#e08f1e" stroke-opacity="0.4"/>
<circle cx="123.85" cy="145.49" r="1.45" fill="#4e2670" fill-opacity="0.42" stroke="#4e2670" stroke-opacity="0.42"/>
<circle cx="106.54" cy="132.22" r="1.45" fill="#4e2670" fill-opacity="0.42" stroke="#4e2670" stroke-opacity="0.42"/>
<circle cx="103.08" cy="133.95" r="1.45" fill="#e08f1e" fill-opacity="0.4" stroke="#e08f1e" stroke-opacity="0.4"/>
<circle cx="107.12" cy="139.15" r="1.45" fill="#4e2670" fill-opacity="0.42" stroke="#4e2670" stroke-opacity="0.42"/>
<circle cx="124.9" cy="110.6" r="1.45" fill="#e08f1e" fill-opacity="0.4" stroke="#e08f1e" stroke-opacity="0.4"/>
<circle cx="129.8" cy="111.3" r="1.45" fill="#e08f1e" fill-opacity="0.4" stroke="#e08f1e" stroke-opacity="0.4"/>
<circle cx="122.1" cy="114.8" r="1.45" fill="#e08f1e" fill-opacity="0.4" stroke="#e08f1e" stroke-opacity="0.4"/>
<circle cx="132.61" cy="115.5" r="1.45" fill="#e08f1e" fill-opacity="0.4" stroke="#e08f1e" stroke-opacity="0.4"/>
<circle cx="139.61" cy="128.81" r="4.7" fill="#e08f1e" fill-opacity="0.36" stroke="#e08f1e" stroke-opacity="0.36"/>
<circle cx="141.01" cy="132.31" r="3.2" fill="#e08f1e" fill-opacity="0.36" stroke="#e08f1e" stroke-opacity="0.36"/>
<circle cx="144.51" cy="137.21" r="1.45" fill="#e08f1e" fill-opacity="0.4" stroke="#e08f1e" stroke-opacity="0.4"/>
<circle cx="123.5" cy="126.01" r="1.45" fill="#4e2670" fill-opacity="0.42" stroke="#4e2670" stroke-opacity="0.42"/>
<circle cx="121.4" cy="133.71" r="1.45" fill="#4e2670" fill-opacity="0.42" stroke="#4e2670" stroke-opacity="0.42"/>
<circle cx="152.21" cy="151.22" r="4.3" fill="#f0c228" fill-opacity="0.48" stroke="#f0c228" stroke-opacity="0.48"/>
<circle cx="152.49" cy="151.5" r="1.7" fill="#f0c228" fill-opacity="0.73" stroke="#f0c228" stroke-opacity="0.73"/>
<circle cx="97.63" cy="117.71" r="1.5" fill="#4e2670" fill-opacity="0.49" stroke="#4e2670" stroke-opacity="0.49"/>
<circle cx="84.44" cy="119.46" r="1.5" fill="#4e2670" fill-opacity="0.49" stroke="#4e2670" stroke-opacity="0.49"/>
<circle cx="91.23" cy="118.92" r="1.5" fill="#4e2670" fill-opacity="0.49" stroke="#4e2670" stroke-opacity="0.49"/>
<circle cx="96.65" cy="119.7" r="1.5" fill="#4e2670" fill-opacity="0.49" stroke="#4e2670" stroke-opacity="0.49"/>
<circle cx="74.02" cy="122.8" r="1.5" fill="#4e2670" fill-opacity="0.49" stroke="#4e2670" stroke-opacity="0.49"/>
<circle cx="77.6" cy="122.4" r="1.5" fill="#4e2670" fill-opacity="0.49" stroke="#4e2670" stroke-opacity="0.49"/>
<circle cx="81.46" cy="121.8" r="1.5" fill="#4e2670" fill-opacity="0.49" stroke="#4e2670" stroke-opacity="0.49"/>
<circle cx="86.3" cy="122.48" r="1.5" fill="#4e2670" fill-opacity="0.49" stroke="#4e2670" stroke-opacity="0.49"/>
<circle cx="89.73" cy="122.79" r="1.5" fill="#4e2670" fill-opacity="0.49" stroke="#4e2670" stroke-opacity="0.49"/>
<circle cx="91.29" cy="121.99" r="1.5" fill="#4e2670" fill-opacity="0.49" stroke="#4e2670" stroke-opacity="0.49"/>
<circle cx="103.81" cy="121.94" r="1.5" fill="#4e2670" fill-opacity="0.49" stroke="#4e2670" stroke-opacity="0.49"/>
<circle cx="68.09" cy="123.99" r="1.5" fill="#4e2670" fill-opacity="0.49" stroke="#4e2670" stroke-opacity="0.49"/>
<circle cx="75.39" cy="124.18" r="1.5" fill="#4e2670" fill-opacity="0.49" stroke="#4e2670" stroke-opacity="0.49"/>
<circle cx="84.39" cy="125.21" r="1.5" fill="#4e2670" fill-opacity="0.49" stroke="#4e2670" stroke-opacity="0.49"/>
<circle cx="87.98" cy="125.12" r="1.5" fill="#4e2670" fill-opacity="0.49" stroke="#4e2670" stroke-opacity="0.49"/>
<circle cx="90.52" cy="124.74" r="1.5" fill="#4e2670" fill-opacity="0.49" stroke="#4e2670" stroke-opacity="0.49"/>
<circle cx="94.19" cy="124.1" r="1.5" fill="#4e2670" fill-opacity="0.49" stroke="#4e2670" stroke-opacity="0.49"/>
<circle cx="107.89" cy="123.47" r="1.5" fill="#4e2670" fill-opacity="0.49" stroke="#4e2670" stroke-opacity="0.49"/>
<circle cx="66.66" cy="127.81" r="1.5" fill="#4e2670" fill-opacity="0.49" stroke="#4e2670" stroke-opacity="0.49"/>
<circle cx="77.68" cy="126.49" r="1.5" fill="#4e2670" fill-opacity="0.49" stroke="#4e2670" stroke-opacity="0.49"/>
<circle cx="79.54" cy="127.66" r="1.5" fill="#4e2670" fill-opacity="0.49" stroke="#4e2670" stroke-opacity="0.49"/>
<circle cx="89.31" cy="126.29" r="1.5" fill="#4e2670" fill-opacity="0.49" stroke="#4e2670" stroke-opacity="0.49"/>
<circle cx="94.82" cy="127.67" r="1.5" fill="#4e2670" fill-opacity="0.49" stroke="#4e2670" stroke-opacity="0.49"/>
<circle cx="98.49" cy="125.97" r="1.5" fill="#4e2670" fill-opacity="0.49" stroke="#4e2670" stroke-opacity="0.49"/>
<circle cx="106.05" cy="127.57" r="1.5" fill="#4e2670" fill-opacity="0.49" stroke="#4e2670" stroke-opacity="0.49"/>
<circle cx="67.33" cy="129.32" r="1.5" fill="#4e2670" fill-opacity="0.49" stroke="#4e2670" stroke-opacity="0.49"/>
<circle cx="72.93" cy="128.69" r="1.5" fill="#4e2670" fill-opacity="0.49" stroke="#4e2670" stroke-opacity="0.49"/>
<circle cx="78.69" cy="129.14" r="1.5" fill="#4e2670" fill-opacity="0.49" stroke="#4e2670" stroke-opacity="0.49"/>
<circle cx="82.32" cy="130.03" r="1.5" fill="#4e2670" fill-opacity="0.49" stroke="#4e2670" stroke-opacity="0.49"/>
<circle cx="91.47" cy="129.21" r="1.5" fill="#4e2670" fill-opacity="0.49" stroke="#4e2670" stroke-opacity="0.49"/>
<circle cx="93.46" cy="128.63" r="1.5" fill="#4e2670" fill-opacity="0.49" stroke="#4e2670" stroke-opacity="0.49"/>
<circle cx="95.7" cy="129.12" r="1.5" fill="#4e2670" fill-opacity="0.49" stroke="#4e2670" stroke-opacity="0.49"/>
<circle cx="71.7" cy="131.26" r="1.5" fill="#4e2670" fill-opacity="0.49" stroke="#4e2670" stroke-opacity="0.49"/>
<circle cx="75.3" cy="131.95" r="1.5" fill="#4e2670" fill-opacity="0.49" stroke="#4e2670" stroke-opacity="0.49"/>
<circle cx="76.89" cy="131.74" r="1.5" fill="#4e2670" fill-opacity="0.49" stroke="#4e2670" stroke-opacity="0.49"/>
<circle cx="83.5" cy="132.42" r="1.5" fill="#4e2670" fill-opacity="0.49" stroke="#4e2670" stroke-opacity="0.49"/>
<circle cx="95.95" cy="131.39" r="1.5" fill="#4e2670" fill-opacity="0.49" stroke="#4e2670" stroke-opacity="0.49"/>
<circle cx="97.2" cy="132.81" r="1.5" fill="#4e2670" fill-opacity="0.49" stroke="#4e2670" stroke-opacity="0.49"/>
<circle cx="100.65" cy="132.8" r="1.5" fill="#4e2670" fill-opacity="0.49" stroke="#4e2670" stroke-opacity="0.49"/>
<circle cx="106.58" cy="131.27" r="1.5" fill="#4e2670" fill-opacity="0.49" stroke="#4e2670" stroke-opacity="0.49"/>
<circle cx="79.32" cy="133.96" r="1.5" fill="#4e2670" fill-opacity="0.49" stroke="#4e2670" stroke-opacity="0.49"/>
<circle cx="84.98" cy="133.86" r="1.5" fill="#4e2670" fill-opacity="0.49" stroke="#4e2670" stroke-opacity="0.49"/>
<circle cx="87.35" cy="133.48" r="1.5" fill="#4e2670" fill-opacity="0.49" stroke="#4e2670" stroke-opacity="0.49"/>
<circle cx="89.78" cy="134.19" r="1.5" fill="#4e2670" fill-opacity="0.49" stroke="#4e2670" stroke-opacity="0.49"/>
<circle cx="93.85" cy="134.07" r="1.5" fill="#4e2670" fill-opacity="0.49" stroke="#4e2670" stroke-opacity="0.49"/>
<circle cx="100.15" cy="134.03" r="1.5" fill="#4e2670" fill-opacity="0.49" stroke="#4e2670" stroke-opacity="0.49"/>
<circle cx="103.1" cy="134.1" r="1.5" fill="#4e2670" fill-opacity="0.49" stroke="#4e2670" stroke-opacity="0.49"/>
<circle cx="107.53" cy="133.81" r="1.5" fill="#4e2670" fill-opacity="0.49" stroke="#4e2670" stroke-opacity="0.49"/>
<circle cx="66.8" cy="136.45" r="1.5" fill="#4e2670" fill-opacity="0.49" stroke="#4e2670" stroke-opacity="0.49"/>
<circle cx="68.59" cy="136.21" r="1.5" fill="#4e2670" fill-opacity="0.49" stroke="#4e2670" stroke-opacity="0.49"/>
<circle cx="72.68" cy="136.45" r="1.5" fill="#4e2670" fill-opacity="0.49" stroke="#4e2670" stroke-opacity="0.49"/>
<circle cx="77.35" cy="136.76" r="1.5" fill="#4e2670" fill-opacity="0.49" stroke="#4e2670" stroke-opacity="0.49"/>
<circle cx="79.53" cy="136.96" r="1.5" fill="#4e2670" fill-opacity="0.49" stroke="#4e2670" stroke-opacity="0.49"/>
<circle cx="89.18" cy="136.94" r="1.5" fill="#4e2670" fill-opacity="0.49" stroke="#4e2670" stroke-opacity="0.49"/>
<circle cx="97.46" cy="136.8" r="1.5" fill="#4e2670" fill-opacity="0.49" stroke="#4e2670" stroke-opacity="0.49"/>
<circle cx="66.65" cy="140.2" r="1.5" fill="#4e2670" fill-opacity="0.49" stroke="#4e2670" stroke-opacity="0.49"/>
<circle cx="70.69" cy="138.59" r="1.5" fill="#4e2670" fill-opacity="0.49" stroke="#4e2670" stroke-opacity="0.49"/>
<circle cx="73.53" cy="139.17" r="1.5" fill="#4e2670" fill-opacity="0.49" stroke="#4e2670" stroke-opacity="0.49"/>
<circle cx="75.29" cy="139.14" r="1.5" fill="#4e2670" fill-opacity="0.49" stroke="#4e2670" stroke-opacity="0.49"/>
<circle cx="78.8" cy="140.17" r="1.5" fill="#4e2670" fill-opacity="0.49" stroke="#4e2670" stroke-opacity="0.49"/>
<circle cx="82.09" cy="138.54" r="1.5" fill="#4e2670" fill-opacity="0.49" stroke="#4e2670" stroke-opacity="0.49"/>
<circle cx="84.46" cy="139.28" r="1.5" fill="#4e2670" fill-opacity="0.49" stroke="#4e2670" stroke-opacity="0.49"/>
<circle cx="89.74" cy="139.53" r="1.5" fill="#4e2670" fill-opacity="0.49" stroke="#4e2670" stroke-opacity="0.49"/>
<circle cx="93.44" cy="138.56" r="1.5" fill="#4e2670" fill-opacity="0.49" stroke="#4e2670" stroke-opacity="0.49"/>
<circle cx="99" cy="140.05" r="1.5" fill="#4e2670" fill-opacity="0.49" stroke="#4e2670" stroke-opacity="0.49"/>
<circle cx="105.92" cy="140.4" r="1.5" fill="#4e2670" fill-opacity="0.49" stroke="#4e2670" stroke-opacity="0.49"/>
<circle cx="108.62" cy="140.18" r="1.5" fill="#4e2670" fill-opacity="0.49" stroke="#4e2670" stroke-opacity="0.49"/>
<circle cx="69.89" cy="142.12" r="1.5" fill="#4e2670" fill-opacity="0.49" stroke="#4e2670" stroke-opacity="0.49"/>
<circle cx="71.1" cy="141.82" r="1.5" fill="#4e2670" fill-opacity="0.49" stroke="#4e2670" stroke-opacity="0.49"/>
<circle cx="75.08" cy="141.7" r="1.5" fill="#4e2670" fill-opacity="0.49" stroke="#4e2670" stroke-opacity="0.49"/>
<circle cx="78.11" cy="141.88" r="1.5" fill="#4e2670" fill-opacity="0.49" stroke="#4e2670" stroke-opacity="0.49"/>
<circle cx="80.82" cy="142.12" r="1.5" fill="#4e2670" fill-opacity="0.49" stroke="#4e2670" stroke-opacity="0.49"/>
<circle cx="82.59" cy="142.04" r="1.5" fill="#4e2670" fill-opacity="0.49" stroke="#4e2670" stroke-opacity="0.49"/>
<circle cx="87.12" cy="142.54" r="1.5" fill="#4e2670" fill-opacity="0.49" stroke="#4e2670" stroke-opacity="0.49"/>
<circle cx="94.68" cy="142.56" r="1.5" fill="#4e2670" fill-opacity="0.49" stroke="#4e2670" stroke-opacity="0.49"/>
<circle cx="101.22" cy="141.34" r="1.5" fill="#4e2670" fill-opacity="0.49" stroke="#4e2670" stroke-opacity="0.49"/>
<circle cx="104.09" cy="142.28" r="1.5" fill="#4e2670" fill-opacity="0.49" stroke="#4e2670" stroke-opacity="0.49"/>
<circle cx="73.28" cy="144.62" r="1.5" fill="#4e2670" fill-opacity="0.49" stroke="#4e2670" stroke-opacity="0.49"/>
<circle cx="77.04" cy="144.3" r="1.5" fill="#4e2670" fill-opacity="0.49" stroke="#4e2670" stroke-opacity="0.49"/>
<circle cx="80.04" cy="145.28" r="1.5" fill="#4e2670" fill-opacity="0.49" stroke="#4e2670" stroke-opacity="0.49"/>
<circle cx="82.72" cy="144.08" r="1.5" fill="#4e2670" fill-opacity="0.49" stroke="#4e2670" stroke-opacity="0.49"/>
<circle cx="86.75" cy="143.59" r="1.5" fill="#4e2670" fill-opacity="0.49" stroke="#4e2670" stroke-opacity="0.49"/>
<circle cx="102.02" cy="144.29" r="1.5" fill="#4e2670" fill-opacity="0.49" stroke="#4e2670" stroke-opacity="0.49"/>
<circle cx="107.24" cy="144.72" r="1.5" fill="#4e2670" fill-opacity="0.49" stroke="#4e2670" stroke-opacity="0.49"/>
<circle cx="68.92" cy="146.44" r="1.5" fill="#4e2670" fill-opacity="0.49" stroke="#4e2670" stroke-opacity="0.49"/>
<circle cx="74.85" cy="146.13" r="1.5" fill="#4e2670" fill-opacity="0.49" stroke="#4e2670" stroke-opacity="0.49"/>
<circle cx="77.89" cy="146.66" r="1.5" fill="#4e2670" fill-opacity="0.49" stroke="#4e2670" stroke-opacity="0.49"/>
<circle cx="80.78" cy="147.23" r="1.5" fill="#4e2670" fill-opacity="0.49" stroke="#4e2670" stroke-opacity="0.49"/>
<circle cx="83.28" cy="147.4" r="1.5" fill="#4e2670" fill-opacity="0.49" stroke="#4e2670" stroke-opacity="0.49"/>
<circle cx="95.01" cy="146.15" r="1.5" fill="#4e2670" fill-opacity="0.49" stroke="#4e2670" stroke-opacity="0.49"/>
<circle cx="101.63" cy="145.95" r="1.5" fill="#4e2670" fill-opacity="0.49" stroke="#4e2670" stroke-opacity="0.49"/>
<circle cx="78.12" cy="132.26" r="1.5" fill="#4e2670" fill-opacity="0.51" stroke="#4e2670" stroke-opacity="0.51"/>
<circle cx="84.67" cy="130.86" r="1.5" fill="#4e2670" fill-opacity="0.51" stroke="#4e2670" stroke-opacity="0.51"/>
<circle cx="87.83" cy="132.08" r="1.5" fill="#4e2670" fill-opacity="0.51" stroke="#4e2670" stroke-opacity="0.51"/>
<circle cx="91.09" cy="130.42" r="1.5" fill="#4e2670" fill-opacity="0.51" stroke="#4e2670" stroke-opacity="0.51"/>
<circle cx="93.9" cy="130.58" r="1.5" fill="#4e2670" fill-opacity="0.51" stroke="#4e2670" stroke-opacity="0.51"/>
<circle cx="95.6" cy="131" r="1.5" fill="#4e2670" fill-opacity="0.51" stroke="#4e2670" stroke-opacity="0.51"/>
<circle cx="99.68" cy="131.38" r="1.5" fill="#4e2670" fill-opacity="0.51" stroke="#4e2670" stroke-opacity="0.51"/>
<circle cx="71.05" cy="134.01" r="1.5" fill="#4e2670" fill-opacity="0.51" stroke="#4e2670" stroke-opacity="0.51"/>
<circle cx="83.94" cy="133.99" r="1.5" fill="#4e2670" fill-opacity="0.51" stroke="#4e2670" stroke-opacity="0.51"/>
<circle cx="91.91" cy="133.16" r="1.5" fill="#4e2670" fill-opacity="0.51" stroke="#4e2670" stroke-opacity="0.51"/>
<circle cx="98" cy="134.56" r="1.5" fill="#4e2670" fill-opacity="0.51" stroke="#4e2670" stroke-opacity="0.51"/>
<circle cx="100.97" cy="134.81" r="1.5" fill="#4e2670" fill-opacity="0.51" stroke="#4e2670" stroke-opacity="0.51"/>
<circle cx="71.9" cy="136.65" r="1.5" fill="#4e2670" fill-opacity="0.51" stroke="#4e2670" stroke-opacity="0.51"/>
<circle cx="79.46" cy="136.05" r="1.5" fill="#4e2670" fill-opacity="0.51" stroke="#4e2670" stroke-opacity="0.51"/>
<circle cx="81.86" cy="135.65" r="1.5" fill="#4e2670" fill-opacity="0.51" stroke="#4e2670" stroke-opacity="0.51"/>
<circle cx="83.53" cy="135.73" r="1.5" fill="#4e2670" fill-opacity="0.51" stroke="#4e2670" stroke-opacity="0.51"/>
<circle cx="94.48" cy="136.6" r="1.5" fill="#4e2670" fill-opacity="0.51" stroke="#4e2670" stroke-opacity="0.51"/>
<circle cx="97.41" cy="135.63" r="1.5" fill="#4e2670" fill-opacity="0.51" stroke="#4e2670" stroke-opacity="0.51"/>
<circle cx="99.23" cy="136.89" r="1.5" fill="#4e2670" fill-opacity="0.51" stroke="#4e2670" stroke-opacity="0.51"/>
<circle cx="102.74" cy="136.32" r="1.5" fill="#4e2670" fill-opacity="0.51" stroke="#4e2670" stroke-opacity="0.51"/>
<circle cx="68.5" cy="138.55" r="1.5" fill="#4e2670" fill-opacity="0.51" stroke="#4e2670" stroke-opacity="0.51"/>
<circle cx="74.04" cy="138.45" r="1.5" fill="#4e2670" fill-opacity="0.51" stroke="#4e2670" stroke-opacity="0.51"/>
<circle cx="80.51" cy="139.87" r="1.5" fill="#4e2670" fill-opacity="0.51" stroke="#4e2670" stroke-opacity="0.51"/>
<circle cx="83.93" cy="139.81" r="1.5" fill="#4e2670" fill-opacity="0.51" stroke="#4e2670" stroke-opacity="0.51"/>
<circle cx="86.68" cy="138.62" r="1.5" fill="#4e2670" fill-opacity="0.51" stroke="#4e2670" stroke-opacity="0.51"/>
<circle cx="91.28" cy="140.12" r="1.5" fill="#4e2670" fill-opacity="0.51" stroke="#4e2670" stroke-opacity="0.51"/>
<circle cx="94" cy="139.09" r="1.5" fill="#4e2670" fill-opacity="0.51" stroke="#4e2670" stroke-opacity="0.51"/>
<circle cx="103.15" cy="140.16" r="1.5" fill="#4e2670" fill-opacity="0.51" stroke="#4e2670" stroke-opacity="0.51"/>
<circle cx="73.12" cy="142.65" r="1.5" fill="#4e2670" fill-opacity="0.51" stroke="#4e2670" stroke-opacity="0.51"/>
<circle cx="76.31" cy="141.49" r="1.5" fill="#4e2670" fill-opacity="0.51" stroke="#4e2670" stroke-opacity="0.51"/>
<circle cx="80.69" cy="142.75" r="1.5" fill="#4e2670" fill-opacity="0.51" stroke="#4e2670" stroke-opacity="0.51"/>
<circle cx="84.65" cy="140.82" r="1.5" fill="#4e2670" fill-opacity="0.51" stroke="#4e2670" stroke-opacity="0.51"/>
<circle cx="90.39" cy="141.63" r="1.5" fill="#4e2670" fill-opacity="0.51" stroke="#4e2670" stroke-opacity="0.51"/>
<circle cx="95.66" cy="142.02" r="1.5" fill="#4e2670" fill-opacity="0.51" stroke="#4e2670" stroke-opacity="0.51"/>
<circle cx="98.89" cy="142.17" r="1.5" fill="#4e2670" fill-opacity="0.51" stroke="#4e2670" stroke-opacity="0.51"/>
<circle cx="103.15" cy="141.85" r="1.5" fill="#4e2670" fill-opacity="0.51" stroke="#4e2670" stroke-opacity="0.51"/>
<circle cx="71.41" cy="143.74" r="1.5" fill="#4e2670" fill-opacity="0.51" stroke="#4e2670" stroke-opacity="0.51"/>
<circle cx="86.71" cy="144.08" r="1.5" fill="#4e2670" fill-opacity="0.51" stroke="#4e2670" stroke-opacity="0.51"/>
<circle cx="89.34" cy="144.11" r="1.5" fill="#4e2670" fill-opacity="0.51" stroke="#4e2670" stroke-opacity="0.51"/>
<circle cx="94.92" cy="144.51" r="1.5" fill="#4e2670" fill-opacity="0.51" stroke="#4e2670" stroke-opacity="0.51"/>
<circle cx="97.69" cy="143.89" r="1.5" fill="#4e2670" fill-opacity="0.51" stroke="#4e2670" stroke-opacity="0.51"/>
<circle cx="101.12" cy="143.56" r="1.5" fill="#4e2670" fill-opacity="0.51" stroke="#4e2670" stroke-opacity="0.51"/>
<circle cx="68.56" cy="146.54" r="1.5" fill="#4e2670" fill-opacity="0.51" stroke="#4e2670" stroke-opacity="0.51"/>
<circle cx="77.59" cy="146.75" r="1.5" fill="#4e2670" fill-opacity="0.51" stroke="#4e2670" stroke-opacity="0.51"/>
<circle cx="88.02" cy="146.64" r="1.5" fill="#4e2670" fill-opacity="0.51" stroke="#4e2670" stroke-opacity="0.51"/>
<circle cx="97.34" cy="147.31" r="1.5" fill="#4e2670" fill-opacity="0.51" stroke="#4e2670" stroke-opacity="0.51"/>
<circle cx="101.94" cy="146.07" r="1.5" fill="#4e2670" fill-opacity="0.51" stroke="#4e2670" stroke-opacity="0.51"/>
</g>
<g transform="translate(0 1.02) scale(1 0.9935)">
<polygon points="95.55,40.6 28.9,156.35 162.3,156.35" fill="none" stroke="#000" stroke-width="1.5" stroke-linejoin="miter" stroke-miterlimit="1.9"/>
<path d="M92.8 45.36L91.4 42.94M34.4 156.35L33 158.77M159.55 151.59L162.35 151.59M86.97 55.46L85.57 53.04M46.06 156.35L44.66 158.77M153.72 141.49L156.52 141.49M81.14 65.56L79.74 63.13M57.72 156.35L56.32 158.77M147.89 131.39L150.69 131.39M75.31 75.66L73.91 73.23M69.38 156.35L67.98 158.77M142.06 121.29L144.86 121.29M69.48 85.75L68.08 83.33M81.04 156.35L79.64 158.77M136.23 111.2L139.03 111.2M63.65 95.85L62.25 93.43M92.7 156.35L91.3 158.77M130.4 101.1L133.2 101.1M57.82 105.95L56.42 103.52M104.36 156.35L102.96 158.77M124.57 91L127.37 91M51.99 116.05L50.59 113.62M116.02 156.35L114.62 158.77M118.74 80.9L121.54 80.9M46.16 126.14L44.76 123.72M127.68 156.35L126.28 158.77M112.91 70.81L115.71 70.81M40.33 136.24L38.93 133.82M139.34 156.35L137.94 158.77M107.08 60.71L109.88 60.71M34.5 146.34L33.1 143.91M151 156.35L149.6 158.77M101.25 50.61L104.05 50.61" stroke="#000" stroke-width="0.9" fill="none"/>
<text x="0" y="0" font-size="9.7" text-anchor="end" transform="translate(88.3 43.06) scale(0.9 1)" fill="#222" stroke="#222" stroke-width="0.22">0</text>
<text x="0" y="0" font-size="9.7" text-anchor="middle" transform="translate(33.2 170.15) scale(0.9 1)" fill="#222" stroke="#222" stroke-width="0.22">0</text>
<text x="0" y="0" font-size="9.7" text-anchor="start" transform="translate(166.45 154.39) scale(0.9 1)" fill="#222" stroke="#222" stroke-width="0.22">0</text>
<text x="0" y="0" font-size="9.7" text-anchor="end" transform="translate(76.64 63.26) scale(0.9 1)" fill="#222" stroke="#222" stroke-width="0.22">20</text>
<text x="0" y="0" font-size="9.7" text-anchor="middle" transform="translate(56.52 170.15) scale(0.9 1)" fill="#222" stroke="#222" stroke-width="0.22">20</text>
<text x="0" y="0" font-size="9.7" text-anchor="start" transform="translate(154.79 134.19) scale(0.9 1)" fill="#222" stroke="#222" stroke-width="0.22">20</text>
<text x="0" y="0" font-size="9.7" text-anchor="end" transform="translate(64.98 83.45) scale(0.9 1)" fill="#222" stroke="#222" stroke-width="0.22">40</text>
<text x="0" y="0" font-size="9.7" text-anchor="middle" transform="translate(79.84 170.15) scale(0.9 1)" fill="#222" stroke="#222" stroke-width="0.22">40</text>
<text x="0" y="0" font-size="9.7" text-anchor="start" transform="translate(143.13 114) scale(0.9 1)" fill="#222" stroke="#222" stroke-width="0.22">40</text>
<text x="0" y="0" font-size="9.7" text-anchor="end" transform="translate(53.32 103.65) scale(0.9 1)" fill="#222" stroke="#222" stroke-width="0.22">60</text>
<text x="0" y="0" font-size="9.7" text-anchor="middle" transform="translate(103.16 170.15) scale(0.9 1)" fill="#222" stroke="#222" stroke-width="0.22">60</text>
<text x="0" y="0" font-size="9.7" text-anchor="start" transform="translate(131.47 93.8) scale(0.9 1)" fill="#222" stroke="#222" stroke-width="0.22">60</text>
<text x="0" y="0" font-size="9.7" text-anchor="end" transform="translate(41.66 123.84) scale(0.9 1)" fill="#222" stroke="#222" stroke-width="0.22">80</text>
<text x="0" y="0" font-size="9.7" text-anchor="middle" transform="translate(126.48 170.15) scale(0.9 1)" fill="#222" stroke="#222" stroke-width="0.22">80</text>
<text x="0" y="0" font-size="9.7" text-anchor="start" transform="translate(119.81 73.61) scale(0.9 1)" fill="#222" stroke="#222" stroke-width="0.22">80</text>
<text x="0" y="0" font-size="9.7" text-anchor="end" transform="translate(30 144.04) scale(0.9 1)" fill="#222" stroke="#222" stroke-width="0.22">100</text>
<text x="0" y="0" font-size="9.7" text-anchor="middle" transform="translate(149.8 170.15) scale(0.9 1)" fill="#222" stroke="#222" stroke-width="0.22">100</text>
<text x="0" y="0" font-size="9.7" text-anchor="start" transform="translate(108.15 53.41) scale(0.9 1)" fill="#222" stroke="#222" stroke-width="0.22">100</text>
<text x="0" y="0" font-size="9" text-anchor="middle" font-weight="bold" transform="translate(95.45 35.4) scale(0.85 1)" fill="#111" stroke="#111" stroke-width="0.3">T</text>
<text x="14.9" y="163.8" font-size="9" text-anchor="middle" font-weight="bold" fill="#111" stroke="#111" stroke-width="0.3">GM</text>
<text x="175.1" y="164.05" font-size="9" text-anchor="middle" font-weight="bold" fill="#111" stroke="#111" stroke-width="0.3">BK</text>
<line x1="51.8" y1="66.9" x2="24.91" y2="113.27" stroke="#111" stroke-width="1.25"/><polygon points="22.8,116.9 23.12,111.07 25.01,113.09 27.7,113.73" fill="#111"/>
<line x1="170.6" y1="124.2" x2="144" y2="78.04" stroke="#111" stroke-width="1.25"/><polygon points="141.9,74.4 146.79,77.58 144.1,78.21 142.2,80.23" fill="#111"/>
<line x1="68.9" y1="175.1" x2="122.4" y2="175.1" stroke="#111" stroke-width="1.25"/><polygon points="126.6,175.1 121.4,177.75 122.2,175.1 121.4,172.45" fill="#111"/>
<text x="34.14" y="88.55" font-size="9" text-anchor="middle" font-weight="bold" transform="rotate(-60 34.14 88.55)" fill="#111" stroke="#111" stroke-width="0.3">GM</text>
<text x="161.96" y="99.75" font-size="9" text-anchor="middle" font-weight="bold" transform="rotate(60 161.96 99.75)" fill="#111" stroke="#111" stroke-width="0.3">T</text>
<text x="95.55" y="185.6" font-size="8.6" text-anchor="middle" font-weight="bold" fill="#111" stroke="#111" stroke-width="0.3">BK</text>
</g>
<circle cx="196.1" cy="70.3" r="3.5" fill="#4a2672"/>
<text x="0" y="0" font-size="8.2" text-anchor="start" transform="translate(204.7 73.15) scale(0.94 1)" fill="#222" stroke="#222" stroke-width="0.22">GMBT-79.8%</text>
<circle cx="196.1" cy="79.7" r="3.5" fill="#2d4b8c"/>
<text x="0" y="0" font-size="8.2" text-anchor="start" transform="translate(204.7 82.55) scale(0.94 1)" fill="#222" stroke="#222" stroke-width="0.22">GM- 5.7%</text>
<circle cx="196.1" cy="89.1" r="3.5" fill="#e08f1e"/>
<text x="0" y="0" font-size="8.2" text-anchor="start" transform="translate(204.7 91.95) scale(0.94 1)" fill="#222" stroke="#222" stroke-width="0.22">BT-11.4%</text>
<circle cx="196.1" cy="98.5" r="3.5" fill="#f0c228"/>
<text x="0" y="0" font-size="8.2" text-anchor="start" transform="translate(204.7 101.35) scale(0.94 1)" fill="#222" stroke="#222" stroke-width="0.22">B- 3.1%</text>
<text x="0" y="0" font-size="8.2" text-anchor="start" transform="translate(190.6 118.75) scale(0.95 1)" fill="#222" stroke="#222" stroke-width="0.22">IS number</text>
<circle cx="196" cy="127.6" r="1.5" fill="#000"/>
<text x="0" y="0" font-size="8.2" text-anchor="start" transform="translate(204.9 130.45) scale(0.95 1)" fill="#222" stroke="#222" stroke-width="0.22">1</text>
<circle cx="195.8" cy="138.3" r="5.3" fill="#000"/>
<text x="0" y="0" font-size="8.2" text-anchor="start" transform="translate(204.9 141.15) scale(0.95 1)" fill="#222" stroke="#222" stroke-width="0.22">3</text>
</g>
<g transform="translate(260 197.2)">
<text x="95.6" y="16.7" font-size="10.2" text-anchor="middle" fill="#222" stroke="#222" stroke-width="0.22">&#946;0/&#946;E m48</text>
<g stroke-width="0.6">
<circle cx="94.81" cy="53.18" r="3.7" fill="#a8002c" fill-opacity="0.53" stroke="#a8002c" stroke-opacity="0.53"/>
<circle cx="95.96" cy="53.76" r="4.9" fill="#a8002c" fill-opacity="0.74" stroke="#a8002c" stroke-opacity="0.74"/>
<circle cx="96.31" cy="54.11" r="3.1" fill="#a8002c" fill-opacity="0.85" stroke="#a8002c" stroke-opacity="0.85"/>
<circle cx="97.69" cy="55.72" r="2.7" fill="#a8002c" fill-opacity="0.53" stroke="#a8002c" stroke-opacity="0.53"/>
<circle cx="91.35" cy="58.38" r="1.7" fill="#a8002c" fill-opacity="0.53" stroke="#a8002c" stroke-opacity="0.53"/>
<circle cx="93.08" cy="60.11" r="1.7" fill="#a8002c" fill-opacity="0.64" stroke="#a8002c" stroke-opacity="0.64"/>
<circle cx="90.54" cy="61.26" r="1.6" fill="#a8002c" fill-opacity="0.48" stroke="#a8002c" stroke-opacity="0.48"/>
<circle cx="94.81" cy="60.68" r="1.45" fill="#a8002c" fill-opacity="0.53" stroke="#a8002c" stroke-opacity="0.53"/>
<circle cx="90.19" cy="63.57" r="1.45" fill="#a8002c" fill-opacity="0.53" stroke="#a8002c" stroke-opacity="0.53"/>
<circle cx="94.23" cy="65.3" r="1.45" fill="#a8002c" fill-opacity="0.96" stroke="#a8002c" stroke-opacity="0.96"/>
<circle cx="100" cy="67.61" r="1.45" fill="#a8002c" fill-opacity="0.85" stroke="#a8002c" stroke-opacity="0.85"/>
<circle cx="100" cy="69.92" r="1.45" fill="#4e2670" fill-opacity="0.51" stroke="#4e2670" stroke-opacity="0.51"/>
<circle cx="103.46" cy="66.45" r="1.45" fill="#a8002c" fill-opacity="0.53" stroke="#a8002c" stroke-opacity="0.53"/>
<circle cx="101.15" cy="70.49" r="1.45" fill="#a8002c" fill-opacity="0.53" stroke="#a8002c" stroke-opacity="0.53"/>
<circle cx="104.62" cy="69.92" r="1.45" fill="#a8002c" fill-opacity="0.53" stroke="#a8002c" stroke-opacity="0.53"/>
<circle cx="106.92" cy="73.03" r="1.45" fill="#a8002c" fill-opacity="0.53" stroke="#a8002c" stroke-opacity="0.53"/>
<circle cx="99.42" cy="73.72" r="1.45" fill="#a8002c" fill-opacity="0.53" stroke="#a8002c" stroke-opacity="0.53"/>
<circle cx="104.04" cy="76.26" r="1.45" fill="#a8002c" fill-opacity="0.53" stroke="#a8002c" stroke-opacity="0.53"/>
<circle cx="94.23" cy="75.11" r="1.45" fill="#4e2670" fill-opacity="0.42" stroke="#4e2670" stroke-opacity="0.42"/>
<circle cx="98.85" cy="79.15" r="1.45" fill="#4e2670" fill-opacity="0.42" stroke="#4e2670" stroke-opacity="0.42"/>
<circle cx="98.85" cy="81.45" r="1.45" fill="#4e2670" fill-opacity="0.42" stroke="#4e2670" stroke-opacity="0.42"/>
<circle cx="104.04" cy="82.95" r="1.45" fill="#4e2670" fill-opacity="0.42" stroke="#4e2670" stroke-opacity="0.42"/>
<circle cx="104.62" cy="84.34" r="1.45" fill="#4e2670" fill-opacity="0.59" stroke="#4e2670" stroke-opacity="0.59"/>
<circle cx="100.58" cy="86.65" r="1.45" fill="#4e2670" fill-opacity="0.68" stroke="#4e2670" stroke-opacity="0.68"/>
<circle cx="110.38" cy="86.65" r="1.45" fill="#4e2670" fill-opacity="0.42" stroke="#4e2670" stroke-opacity="0.42"/>
<circle cx="112.12" cy="80.88" r="1.45" fill="#a8002c" fill-opacity="0.53" stroke="#a8002c" stroke-opacity="0.53"/>
<circle cx="113.27" cy="82.61" r="1.45" fill="#a8002c" fill-opacity="0.53" stroke="#a8002c" stroke-opacity="0.53"/>
<circle cx="114.42" cy="84.92" r="1.45" fill="#a8002c" fill-opacity="0.53" stroke="#a8002c" stroke-opacity="0.53"/>
<circle cx="93.08" cy="87.22" r="1.45" fill="#4e2670" fill-opacity="0.42" stroke="#4e2670" stroke-opacity="0.42"/>
<circle cx="80.54" cy="92.61" r="1.45" fill="#4e2670" fill-opacity="0.42" stroke="#4e2670" stroke-opacity="0.42"/>
<circle cx="100.38" cy="87.18" r="1.45" fill="#4e2670" fill-opacity="0.59" stroke="#4e2670" stroke-opacity="0.59"/>
<circle cx="98.08" cy="89.72" r="1.45" fill="#4e2670" fill-opacity="0.42" stroke="#4e2670" stroke-opacity="0.42"/>
<circle cx="96.35" cy="92.03" r="1.45" fill="#4e2670" fill-opacity="0.42" stroke="#4e2670" stroke-opacity="0.42"/>
<circle cx="95.77" cy="94.34" r="1.45" fill="#4e2670" fill-opacity="0.42" stroke="#4e2670" stroke-opacity="0.42"/>
<circle cx="99.81" cy="95.72" r="1.45" fill="#4e2670" fill-opacity="0.42" stroke="#4e2670" stroke-opacity="0.42"/>
<circle cx="95.54" cy="100.11" r="1.45" fill="#4e2670" fill-opacity="0.42" stroke="#4e2670" stroke-opacity="0.42"/>
<circle cx="103.27" cy="99.53" r="1.45" fill="#4e2670" fill-opacity="0.42" stroke="#4e2670" stroke-opacity="0.42"/>
<circle cx="103.27" cy="102.99" r="1.45" fill="#4e2670" fill-opacity="0.42" stroke="#4e2670" stroke-opacity="0.42"/>
<circle cx="83.65" cy="101.49" r="1.45" fill="#4e2670" fill-opacity="0.42" stroke="#4e2670" stroke-opacity="0.42"/>
<circle cx="89.42" cy="103.92" r="1.45" fill="#4e2670" fill-opacity="0.42" stroke="#4e2670" stroke-opacity="0.42"/>
<circle cx="94.04" cy="104.72" r="1.45" fill="#4e2670" fill-opacity="0.42" stroke="#4e2670" stroke-opacity="0.42"/>
<circle cx="99.23" cy="107.03" r="1.45" fill="#4e2670" fill-opacity="0.42" stroke="#4e2670" stroke-opacity="0.42"/>
<circle cx="101.54" cy="108.76" r="1.45" fill="#4e2670" fill-opacity="0.59" stroke="#4e2670" stroke-opacity="0.59"/>
<circle cx="76.15" cy="108.18" r="1.45" fill="#4e2670" fill-opacity="0.59" stroke="#4e2670" stroke-opacity="0.59"/>
<circle cx="75" cy="109.34" r="1.45" fill="#4e2670" fill-opacity="0.42" stroke="#4e2670" stroke-opacity="0.42"/>
<circle cx="80.77" cy="110.26" r="1.45" fill="#4e2670" fill-opacity="0.42" stroke="#4e2670" stroke-opacity="0.42"/>
<circle cx="84" cy="110.26" r="1.45" fill="#4e2670" fill-opacity="0.42" stroke="#4e2670" stroke-opacity="0.42"/>
<circle cx="87.46" cy="113.38" r="1.45" fill="#4e2670" fill-opacity="0.42" stroke="#4e2670" stroke-opacity="0.42"/>
<circle cx="95.77" cy="113.03" r="1.45" fill="#4e2670" fill-opacity="0.42" stroke="#4e2670" stroke-opacity="0.42"/>
<circle cx="99.23" cy="115.68" r="3.3" fill="#4e2670" fill-opacity="0.38" stroke="#4e2670" stroke-opacity="0.38"/>
<circle cx="102.12" cy="113.95" r="1.45" fill="#4e2670" fill-opacity="0.68" stroke="#4e2670" stroke-opacity="0.68"/>
<circle cx="69.81" cy="115.11" r="1.45" fill="#4e2670" fill-opacity="0.42" stroke="#4e2670" stroke-opacity="0.42"/>
<circle cx="71.31" cy="116.49" r="1.45" fill="#4e2670" fill-opacity="0.59" stroke="#4e2670" stroke-opacity="0.59"/>
<circle cx="67.5" cy="117.99" r="1.45" fill="#4e2670" fill-opacity="0.42" stroke="#4e2670" stroke-opacity="0.42"/>
<circle cx="75.58" cy="115.45" r="1.45" fill="#4e2670" fill-opacity="0.42" stroke="#4e2670" stroke-opacity="0.42"/>
<circle cx="81.92" cy="117.42" r="1.45" fill="#4e2670" fill-opacity="0.42" stroke="#4e2670" stroke-opacity="0.42"/>
<circle cx="80.77" cy="120.3" r="1.45" fill="#4e2670" fill-opacity="0.68" stroke="#4e2670" stroke-opacity="0.68"/>
<circle cx="80.19" cy="122.61" r="1.45" fill="#4e2670" fill-opacity="0.42" stroke="#4e2670" stroke-opacity="0.42"/>
<circle cx="73.85" cy="120.3" r="1.45" fill="#4e2670" fill-opacity="0.42" stroke="#4e2670" stroke-opacity="0.42"/>
<circle cx="69.81" cy="121.45" r="1.45" fill="#4e2670" fill-opacity="0.42" stroke="#4e2670" stroke-opacity="0.42"/>
<circle cx="71.54" cy="125.49" r="1.45" fill="#4e2670" fill-opacity="0.42" stroke="#4e2670" stroke-opacity="0.42"/>
<circle cx="79.04" cy="125.49" r="1.45" fill="#4e2670" fill-opacity="0.42" stroke="#4e2670" stroke-opacity="0.42"/>
<circle cx="81.92" cy="126.65" r="1.45" fill="#4e2670" fill-opacity="0.42" stroke="#4e2670" stroke-opacity="0.42"/>
<circle cx="91.15" cy="124.34" r="1.45" fill="#4e2670" fill-opacity="0.42" stroke="#4e2670" stroke-opacity="0.42"/>
<circle cx="97.5" cy="123.18" r="1.45" fill="#4e2670" fill-opacity="0.42" stroke="#4e2670" stroke-opacity="0.42"/>
<circle cx="102.12" cy="123.18" r="1.45" fill="#4e2670" fill-opacity="0.42" stroke="#4e2670" stroke-opacity="0.42"/>
<circle cx="85.38" cy="127.22" r="1.45" fill="#4e2670" fill-opacity="0.42" stroke="#4e2670" stroke-opacity="0.42"/>
<circle cx="113.27" cy="91.45" r="1.45" fill="#4e2670" fill-opacity="0.59" stroke="#4e2670" stroke-opacity="0.59"/>
<circle cx="108.08" cy="92.61" r="1.45" fill="#4e2670" fill-opacity="0.59" stroke="#4e2670" stroke-opacity="0.59"/>
<circle cx="108.65" cy="94.92" r="1.45" fill="#4e2670" fill-opacity="0.42" stroke="#4e2670" stroke-opacity="0.42"/>
<circle cx="105.77" cy="100.11" r="1.45" fill="#4e2670" fill-opacity="0.42" stroke="#4e2670" stroke-opacity="0.42"/>
<circle cx="111.54" cy="100.11" r="1.45" fill="#4e2670" fill-opacity="0.42" stroke="#4e2670" stroke-opacity="0.42"/>
<circle cx="108.08" cy="104.15" r="1.45" fill="#4e2670" fill-opacity="0.42" stroke="#4e2670" stroke-opacity="0.42"/>
<circle cx="108.08" cy="107.95" r="1.45" fill="#4e2670" fill-opacity="0.42" stroke="#4e2670" stroke-opacity="0.42"/>
<circle cx="113.27" cy="117.42" r="1.45" fill="#4e2670" fill-opacity="0.42" stroke="#4e2670" stroke-opacity="0.42"/>
<circle cx="108.65" cy="121.45" r="1.45" fill="#4e2670" fill-opacity="0.42" stroke="#4e2670" stroke-opacity="0.42"/>
<circle cx="116.73" cy="126.42" r="1.45" fill="#4e2670" fill-opacity="0.42" stroke="#4e2670" stroke-opacity="0.42"/>
<circle cx="103.46" cy="126.65" r="1.45" fill="#4e2670" fill-opacity="0.42" stroke="#4e2670" stroke-opacity="0.42"/>
<circle cx="34.81" cy="151.95" r="2.7" fill="#27437f" fill-opacity="0.68" stroke="#27437f" stroke-opacity="0.68"/>
<circle cx="42.31" cy="151.38" r="2.7" fill="#27437f" fill-opacity="0.68" stroke="#27437f" stroke-opacity="0.68"/>
<circle cx="38.85" cy="151.03" r="4.1" fill="#27437f" fill-opacity="0.77" stroke="#27437f" stroke-opacity="0.77"/>
<circle cx="47.5" cy="151.38" r="1.45" fill="#27437f" fill-opacity="0.42" stroke="#27437f" stroke-opacity="0.42"/>
<circle cx="52.69" cy="151.38" r="1.45" fill="#27437f" fill-opacity="0.42" stroke="#27437f" stroke-opacity="0.42"/>
<circle cx="56.73" cy="151.38" r="1.45" fill="#27437f" fill-opacity="0.42" stroke="#27437f" stroke-opacity="0.42"/>
<circle cx="61.92" cy="151.38" r="1.45" fill="#27437f" fill-opacity="0.59" stroke="#27437f" stroke-opacity="0.59"/>
<circle cx="65.38" cy="150.8" r="4.2" fill="#27437f" fill-opacity="0.38" stroke="#27437f" stroke-opacity="0.38"/>
<circle cx="48.65" cy="134.07" r="1.45" fill="#27437f" fill-opacity="0.42" stroke="#27437f" stroke-opacity="0.42"/>
<circle cx="45.77" cy="138.68" r="1.45" fill="#27437f" fill-opacity="0.42" stroke="#27437f" stroke-opacity="0.42"/>
<circle cx="69.42" cy="121.95" r="1.45" fill="#4e2670" fill-opacity="0.42" stroke="#4e2670" stroke-opacity="0.42"/>
<circle cx="73.46" cy="121.38" r="1.45" fill="#4e2670" fill-opacity="0.42" stroke="#4e2670" stroke-opacity="0.42"/>
<circle cx="80.38" cy="121.38" r="1.45" fill="#4e2670" fill-opacity="0.42" stroke="#4e2670" stroke-opacity="0.42"/>
<circle cx="71.15" cy="125.99" r="1.45" fill="#4e2670" fill-opacity="0.42" stroke="#4e2670" stroke-opacity="0.42"/>
<circle cx="79.23" cy="125.99" r="1.45" fill="#4e2670" fill-opacity="0.42" stroke="#4e2670" stroke-opacity="0.42"/>
<circle cx="81.54" cy="124.26" r="1.45" fill="#4e2670" fill-opacity="0.42" stroke="#4e2670" stroke-opacity="0.42"/>
<circle cx="82.69" cy="128.88" r="1.45" fill="#4e2670" fill-opacity="0.42" stroke="#4e2670" stroke-opacity="0.42"/>
<circle cx="81.54" cy="132.92" r="1.45" fill="#4e2670" fill-opacity="0.42" stroke="#4e2670" stroke-opacity="0.42"/>
<circle cx="68.85" cy="130.03" r="1.45" fill="#4e2670" fill-opacity="0.42" stroke="#4e2670" stroke-opacity="0.42"/>
<circle cx="57.88" cy="132.34" r="1.45" fill="#4e2670" fill-opacity="0.42" stroke="#4e2670" stroke-opacity="0.42"/>
<circle cx="64.23" cy="133.49" r="1.45" fill="#4e2670" fill-opacity="0.42" stroke="#4e2670" stroke-opacity="0.42"/>
<circle cx="59.04" cy="136.95" r="1.45" fill="#4e2670" fill-opacity="0.42" stroke="#4e2670" stroke-opacity="0.42"/>
<circle cx="61.92" cy="137.53" r="1.45" fill="#4e2670" fill-opacity="0.42" stroke="#4e2670" stroke-opacity="0.42"/>
<circle cx="71.15" cy="133.49" r="1.45" fill="#4e2670" fill-opacity="0.59" stroke="#4e2670" stroke-opacity="0.59"/>
<circle cx="74.04" cy="135.8" r="1.45" fill="#4e2670" fill-opacity="0.59" stroke="#4e2670" stroke-opacity="0.59"/>
<circle cx="69.42" cy="136.95" r="1.45" fill="#4e2670" fill-opacity="0.42" stroke="#4e2670" stroke-opacity="0.42"/>
<circle cx="65.38" cy="141.57" r="1.45" fill="#4e2670" fill-opacity="0.42" stroke="#4e2670" stroke-opacity="0.42"/>
<circle cx="72.31" cy="138.68" r="1.45" fill="#4e2670" fill-opacity="0.42" stroke="#4e2670" stroke-opacity="0.42"/>
<circle cx="76.92" cy="139.26" r="1.45" fill="#4e2670" fill-opacity="0.59" stroke="#4e2670" stroke-opacity="0.59"/>
<circle cx="79.23" cy="140.99" r="1.45" fill="#4e2670" fill-opacity="0.59" stroke="#4e2670" stroke-opacity="0.59"/>
<circle cx="82.69" cy="140.42" r="1.45" fill="#4e2670" fill-opacity="0.42" stroke="#4e2670" stroke-opacity="0.42"/>
<circle cx="83.85" cy="136.95" r="1.45" fill="#4e2670" fill-opacity="0.42" stroke="#4e2670" stroke-opacity="0.42"/>
<circle cx="71.15" cy="142.72" r="1.45" fill="#4e2670" fill-opacity="0.59" stroke="#4e2670" stroke-opacity="0.59"/>
<circle cx="73.46" cy="145.03" r="1.45" fill="#4e2670" fill-opacity="0.68" stroke="#4e2670" stroke-opacity="0.68"/>
<circle cx="75.77" cy="143.88" r="1.45" fill="#4e2670" fill-opacity="0.42" stroke="#4e2670" stroke-opacity="0.42"/>
<circle cx="80.38" cy="143.88" r="1.45" fill="#4e2670" fill-opacity="0.59" stroke="#4e2670" stroke-opacity="0.59"/>
<circle cx="66.54" cy="146.18" r="1.45" fill="#4e2670" fill-opacity="0.42" stroke="#4e2670" stroke-opacity="0.42"/>
<circle cx="70" cy="147.34" r="1.45" fill="#4e2670" fill-opacity="0.42" stroke="#4e2670" stroke-opacity="0.42"/>
<circle cx="76.92" cy="147.34" r="1.45" fill="#4e2670" fill-opacity="0.59" stroke="#4e2670" stroke-opacity="0.59"/>
<circle cx="82.69" cy="146.18" r="1.45" fill="#4e2670" fill-opacity="0.59" stroke="#4e2670" stroke-opacity="0.59"/>
<circle cx="83.85" cy="149.65" r="1.45" fill="#4e2670" fill-opacity="0.42" stroke="#4e2670" stroke-opacity="0.42"/>
<circle cx="67.93" cy="150.94" r="1.5" fill="#4e2670" fill-opacity="0.68" stroke="#4e2670" stroke-opacity="0.68"/>
<circle cx="70.34" cy="151.35" r="1.5" fill="#4e2670" fill-opacity="0.68" stroke="#4e2670" stroke-opacity="0.68"/>
<circle cx="73.12" cy="151.21" r="1.5" fill="#4e2670" fill-opacity="0.68" stroke="#4e2670" stroke-opacity="0.68"/>
<circle cx="75.65" cy="151.03" r="1.5" fill="#4e2670" fill-opacity="0.68" stroke="#4e2670" stroke-opacity="0.68"/>
<circle cx="78.29" cy="151.15" r="1.5" fill="#4e2670" fill-opacity="0.68" stroke="#4e2670" stroke-opacity="0.68"/>
<circle cx="80.86" cy="151.2" r="1.5" fill="#4e2670" fill-opacity="0.68" stroke="#4e2670" stroke-opacity="0.68"/>
<circle cx="83.43" cy="151.06" r="1.5" fill="#4e2670" fill-opacity="0.68" stroke="#4e2670" stroke-opacity="0.68"/>
<circle cx="85.56" cy="150.89" r="1.5" fill="#4e2670" fill-opacity="0.68" stroke="#4e2670" stroke-opacity="0.68"/>
<circle cx="88.44" cy="150.9" r="1.5" fill="#4e2670" fill-opacity="0.68" stroke="#4e2670" stroke-opacity="0.68"/>
<circle cx="90.94" cy="151.17" r="1.5" fill="#4e2670" fill-opacity="0.68" stroke="#4e2670" stroke-opacity="0.68"/>
<circle cx="93.12" cy="151.27" r="1.5" fill="#4e2670" fill-opacity="0.68" stroke="#4e2670" stroke-opacity="0.68"/>
<circle cx="95.64" cy="151.32" r="1.5" fill="#4e2670" fill-opacity="0.68" stroke="#4e2670" stroke-opacity="0.68"/>
<circle cx="98.67" cy="150.93" r="1.5" fill="#4e2670" fill-opacity="0.68" stroke="#4e2670" stroke-opacity="0.68"/>
<circle cx="101.14" cy="151.24" r="1.5" fill="#4e2670" fill-opacity="0.68" stroke="#4e2670" stroke-opacity="0.68"/>
<circle cx="69.22" cy="151.22" r="1.5" fill="#4e2670" fill-opacity="0.51" stroke="#4e2670" stroke-opacity="0.51"/>
<circle cx="72.12" cy="151.08" r="1.5" fill="#4e2670" fill-opacity="0.51" stroke="#4e2670" stroke-opacity="0.51"/>
<circle cx="75.27" cy="151.28" r="1.5" fill="#4e2670" fill-opacity="0.51" stroke="#4e2670" stroke-opacity="0.51"/>
<circle cx="77.97" cy="151.1" r="1.5" fill="#4e2670" fill-opacity="0.51" stroke="#4e2670" stroke-opacity="0.51"/>
<circle cx="80.54" cy="151.06" r="1.5" fill="#4e2670" fill-opacity="0.51" stroke="#4e2670" stroke-opacity="0.51"/>
<circle cx="83.59" cy="151.31" r="1.5" fill="#4e2670" fill-opacity="0.51" stroke="#4e2670" stroke-opacity="0.51"/>
<circle cx="86.53" cy="151.25" r="1.5" fill="#4e2670" fill-opacity="0.51" stroke="#4e2670" stroke-opacity="0.51"/>
<circle cx="89.29" cy="150.91" r="1.5" fill="#4e2670" fill-opacity="0.51" stroke="#4e2670" stroke-opacity="0.51"/>
<circle cx="92.38" cy="151.29" r="1.5" fill="#4e2670" fill-opacity="0.51" stroke="#4e2670" stroke-opacity="0.51"/>
<circle cx="94.93" cy="150.86" r="1.5" fill="#4e2670" fill-opacity="0.51" stroke="#4e2670" stroke-opacity="0.51"/>
<circle cx="70.41" cy="140.07" r="1.5" fill="#4e2670" fill-opacity="0.47" stroke="#4e2670" stroke-opacity="0.47"/>
<circle cx="72.22" cy="140.09" r="1.5" fill="#4e2670" fill-opacity="0.47" stroke="#4e2670" stroke-opacity="0.47"/>
<circle cx="84.91" cy="139.49" r="1.5" fill="#4e2670" fill-opacity="0.47" stroke="#4e2670" stroke-opacity="0.47"/>
<circle cx="96.9" cy="140.77" r="1.5" fill="#4e2670" fill-opacity="0.47" stroke="#4e2670" stroke-opacity="0.47"/>
<circle cx="99.57" cy="139.89" r="1.5" fill="#4e2670" fill-opacity="0.47" stroke="#4e2670" stroke-opacity="0.47"/>
<circle cx="73.46" cy="142.06" r="1.5" fill="#4e2670" fill-opacity="0.47" stroke="#4e2670" stroke-opacity="0.47"/>
<circle cx="80.44" cy="142.42" r="1.5" fill="#4e2670" fill-opacity="0.47" stroke="#4e2670" stroke-opacity="0.47"/>
<circle cx="86.08" cy="143.49" r="1.5" fill="#4e2670" fill-opacity="0.47" stroke="#4e2670" stroke-opacity="0.47"/>
<circle cx="88.72" cy="143.99" r="1.5" fill="#4e2670" fill-opacity="0.47" stroke="#4e2670" stroke-opacity="0.47"/>
<circle cx="91.18" cy="142.09" r="1.5" fill="#4e2670" fill-opacity="0.47" stroke="#4e2670" stroke-opacity="0.47"/>
<circle cx="95.58" cy="142.84" r="1.5" fill="#4e2670" fill-opacity="0.47" stroke="#4e2670" stroke-opacity="0.47"/>
<circle cx="98.19" cy="142.93" r="1.5" fill="#4e2670" fill-opacity="0.47" stroke="#4e2670" stroke-opacity="0.47"/>
<circle cx="70" cy="146.13" r="1.5" fill="#4e2670" fill-opacity="0.47" stroke="#4e2670" stroke-opacity="0.47"/>
<circle cx="76.25" cy="145.12" r="1.5" fill="#4e2670" fill-opacity="0.47" stroke="#4e2670" stroke-opacity="0.47"/>
<circle cx="82.18" cy="145.61" r="1.5" fill="#4e2670" fill-opacity="0.47" stroke="#4e2670" stroke-opacity="0.47"/>
<circle cx="87.56" cy="144.6" r="1.5" fill="#4e2670" fill-opacity="0.47" stroke="#4e2670" stroke-opacity="0.47"/>
<circle cx="94.11" cy="145.07" r="1.5" fill="#4e2670" fill-opacity="0.47" stroke="#4e2670" stroke-opacity="0.47"/>
<circle cx="95.67" cy="145.57" r="1.5" fill="#4e2670" fill-opacity="0.47" stroke="#4e2670" stroke-opacity="0.47"/>
<circle cx="98.76" cy="145.54" r="1.5" fill="#4e2670" fill-opacity="0.47" stroke="#4e2670" stroke-opacity="0.47"/>
<circle cx="79.9" cy="147.69" r="1.5" fill="#4e2670" fill-opacity="0.47" stroke="#4e2670" stroke-opacity="0.47"/>
<circle cx="83.18" cy="147.65" r="1.5" fill="#4e2670" fill-opacity="0.47" stroke="#4e2670" stroke-opacity="0.47"/>
<circle cx="86.42" cy="147.31" r="1.5" fill="#4e2670" fill-opacity="0.47" stroke="#4e2670" stroke-opacity="0.47"/>
<circle cx="89.72" cy="147.33" r="1.5" fill="#4e2670" fill-opacity="0.47" stroke="#4e2670" stroke-opacity="0.47"/>
<circle cx="98.61" cy="147.57" r="1.5" fill="#4e2670" fill-opacity="0.47" stroke="#4e2670" stroke-opacity="0.47"/>
<circle cx="104.23" cy="151.38" r="1.45" fill="#4e2670" fill-opacity="0.68" stroke="#4e2670" stroke-opacity="0.68"/>
<circle cx="106.54" cy="151.38" r="1.45" fill="#4e2670" fill-opacity="0.68" stroke="#4e2670" stroke-opacity="0.68"/>
<circle cx="108.85" cy="151.38" r="1.45" fill="#4e2670" fill-opacity="0.68" stroke="#4e2670" stroke-opacity="0.68"/>
<circle cx="111.15" cy="151.38" r="1.45" fill="#4e2670" fill-opacity="0.68" stroke="#4e2670" stroke-opacity="0.68"/>
<circle cx="113.46" cy="151.38" r="1.45" fill="#4e2670" fill-opacity="0.59" stroke="#4e2670" stroke-opacity="0.59"/>
<circle cx="115.77" cy="151.38" r="1.45" fill="#4e2670" fill-opacity="0.34" stroke="#4e2670" stroke-opacity="0.34"/>
<circle cx="118.08" cy="151.38" r="1.45" fill="#4e2670" fill-opacity="0.34" stroke="#4e2670" stroke-opacity="0.34"/>
<circle cx="120.96" cy="151.38" r="1.45" fill="#27437f" fill-opacity="0.42" stroke="#27437f" stroke-opacity="0.42"/>
<circle cx="122.69" cy="151.38" r="1.45" fill="#27437f" fill-opacity="0.42" stroke="#27437f" stroke-opacity="0.42"/>
<circle cx="127.88" cy="151.38" r="1.45" fill="#4e2670" fill-opacity="0.68" stroke="#4e2670" stroke-opacity="0.68"/>
<circle cx="129.62" cy="151.38" r="1.45" fill="#4e2670" fill-opacity="0.77" stroke="#4e2670" stroke-opacity="0.77"/>
<circle cx="131.35" cy="151.38" r="1.45" fill="#27437f" fill-opacity="0.42" stroke="#27437f" stroke-opacity="0.42"/>
<circle cx="97.31" cy="123.11" r="1.45" fill="#4e2670" fill-opacity="0.42" stroke="#4e2670" stroke-opacity="0.42"/>
<circle cx="101.92" cy="123.11" r="1.45" fill="#4e2670" fill-opacity="0.42" stroke="#4e2670" stroke-opacity="0.42"/>
<circle cx="108.27" cy="121.95" r="1.45" fill="#4e2670" fill-opacity="0.42" stroke="#4e2670" stroke-opacity="0.42"/>
<circle cx="91.54" cy="124.84" r="1.45" fill="#4e2670" fill-opacity="0.42" stroke="#4e2670" stroke-opacity="0.42"/>
<circle cx="102.5" cy="127.15" r="1.45" fill="#4e2670" fill-opacity="0.42" stroke="#4e2670" stroke-opacity="0.42"/>
<circle cx="116.35" cy="126.57" r="1.45" fill="#4e2670" fill-opacity="0.42" stroke="#4e2670" stroke-opacity="0.42"/>
<circle cx="85.19" cy="127.15" r="1.45" fill="#4e2670" fill-opacity="0.42" stroke="#4e2670" stroke-opacity="0.42"/>
<circle cx="87.5" cy="131.76" r="1.45" fill="#4e2670" fill-opacity="0.59" stroke="#4e2670" stroke-opacity="0.59"/>
<circle cx="92.12" cy="132.92" r="1.45" fill="#4e2670" fill-opacity="0.42" stroke="#4e2670" stroke-opacity="0.42"/>
<circle cx="97.31" cy="130.03" r="1.45" fill="#4e2670" fill-opacity="0.42" stroke="#4e2670" stroke-opacity="0.42"/>
<circle cx="98.46" cy="132.34" r="1.45" fill="#4e2670" fill-opacity="0.42" stroke="#4e2670" stroke-opacity="0.42"/>
<circle cx="97.31" cy="135.8" r="1.45" fill="#4e2670" fill-opacity="0.42" stroke="#4e2670" stroke-opacity="0.42"/>
<circle cx="107.69" cy="130.03" r="1.45" fill="#4e2670" fill-opacity="0.59" stroke="#4e2670" stroke-opacity="0.59"/>
<circle cx="110" cy="129.45" r="1.45" fill="#4e2670" fill-opacity="0.42" stroke="#4e2670" stroke-opacity="0.42"/>
<circle cx="110.58" cy="135.22" r="1.45" fill="#4e2670" fill-opacity="0.42" stroke="#4e2670" stroke-opacity="0.42"/>
<circle cx="103.08" cy="135.8" r="1.45" fill="#4e2670" fill-opacity="0.42" stroke="#4e2670" stroke-opacity="0.42"/>
<circle cx="104.81" cy="138.11" r="1.45" fill="#4e2670" fill-opacity="0.42" stroke="#4e2670" stroke-opacity="0.42"/>
<circle cx="88.65" cy="136.38" r="1.45" fill="#4e2670" fill-opacity="0.59" stroke="#4e2670" stroke-opacity="0.59"/>
<circle cx="86.35" cy="139.84" r="1.45" fill="#4e2670" fill-opacity="0.59" stroke="#4e2670" stroke-opacity="0.59"/>
<circle cx="91.54" cy="138.68" r="1.45" fill="#4e2670" fill-opacity="0.68" stroke="#4e2670" stroke-opacity="0.68"/>
<circle cx="94.42" cy="140.42" r="1.45" fill="#4e2670" fill-opacity="0.42" stroke="#4e2670" stroke-opacity="0.42"/>
<circle cx="98.46" cy="141.57" r="1.45" fill="#4e2670" fill-opacity="0.42" stroke="#4e2670" stroke-opacity="0.42"/>
<circle cx="109.42" cy="139.26" r="1.45" fill="#4e2670" fill-opacity="0.42" stroke="#4e2670" stroke-opacity="0.42"/>
<circle cx="108.85" cy="141.57" r="1.45" fill="#4e2670" fill-opacity="0.42" stroke="#4e2670" stroke-opacity="0.42"/>
<circle cx="114.62" cy="140.99" r="1.45" fill="#4e2670" fill-opacity="0.42" stroke="#4e2670" stroke-opacity="0.42"/>
<circle cx="111.15" cy="144.45" r="1.45" fill="#4e2670" fill-opacity="0.42" stroke="#4e2670" stroke-opacity="0.42"/>
<circle cx="119.23" cy="133.49" r="1.45" fill="#4e2670" fill-opacity="0.59" stroke="#4e2670" stroke-opacity="0.59"/>
<circle cx="120.38" cy="138.11" r="1.45" fill="#4e2670" fill-opacity="0.42" stroke="#4e2670" stroke-opacity="0.42"/>
<circle cx="123.85" cy="138.11" r="1.45" fill="#4e2670" fill-opacity="0.42" stroke="#4e2670" stroke-opacity="0.42"/>
<circle cx="126.15" cy="138.68" r="1.45" fill="#4e2670" fill-opacity="0.42" stroke="#4e2670" stroke-opacity="0.42"/>
<circle cx="128.46" cy="139.26" r="1.45" fill="#4e2670" fill-opacity="0.42" stroke="#4e2670" stroke-opacity="0.42"/>
<circle cx="130.77" cy="140.42" r="1.45" fill="#4e2670" fill-opacity="0.42" stroke="#4e2670" stroke-opacity="0.42"/>
<circle cx="133.08" cy="135.8" r="1.45" fill="#4e2670" fill-opacity="0.42" stroke="#4e2670" stroke-opacity="0.42"/>
<circle cx="134.23" cy="138.11" r="1.45" fill="#4e2670" fill-opacity="0.42" stroke="#4e2670" stroke-opacity="0.42"/>
<circle cx="136.54" cy="142.15" r="1.45" fill="#4e2670" fill-opacity="0.42" stroke="#4e2670" stroke-opacity="0.42"/>
<circle cx="123.27" cy="145.03" r="1.45" fill="#4e2670" fill-opacity="0.68" stroke="#4e2670" stroke-opacity="0.68"/>
<circle cx="125.58" cy="143.3" r="1.45" fill="#4e2670" fill-opacity="0.42" stroke="#4e2670" stroke-opacity="0.42"/>
<circle cx="102.5" cy="145.61" r="1.45" fill="#4e2670" fill-opacity="0.68" stroke="#4e2670" stroke-opacity="0.68"/>
<circle cx="97.31" cy="145.03" r="1.45" fill="#4e2670" fill-opacity="0.42" stroke="#4e2670" stroke-opacity="0.42"/>
<circle cx="91.54" cy="146.18" r="1.45" fill="#4e2670" fill-opacity="0.42" stroke="#4e2670" stroke-opacity="0.42"/>
<circle cx="86.92" cy="145.03" r="1.45" fill="#4e2670" fill-opacity="0.42" stroke="#4e2670" stroke-opacity="0.42"/>
<circle cx="83.46" cy="142.72" r="1.45" fill="#4e2670" fill-opacity="0.42" stroke="#4e2670" stroke-opacity="0.42"/>
<circle cx="84.62" cy="147.34" r="1.45" fill="#4e2670" fill-opacity="0.68" stroke="#4e2670" stroke-opacity="0.68"/>
<circle cx="90.38" cy="148.49" r="1.45" fill="#4e2670" fill-opacity="0.68" stroke="#4e2670" stroke-opacity="0.68"/>
<circle cx="94.42" cy="148.49" r="1.45" fill="#4e2670" fill-opacity="0.42" stroke="#4e2670" stroke-opacity="0.42"/>
<circle cx="145.15" cy="139.08" r="1.45" fill="#27437f" fill-opacity="0.51" stroke="#27437f" stroke-opacity="0.51"/>
<circle cx="141.34" cy="151.58" r="1.45" fill="#4e2670" fill-opacity="0.51" stroke="#4e2670" stroke-opacity="0.51"/>
<circle cx="152.01" cy="151.28" r="3.2" fill="#6cb0e2" fill-opacity="0.51" stroke="#6cb0e2" stroke-opacity="0.51"/>
<circle cx="152.01" cy="151.28" r="1.5" fill="#6cb0e2" fill-opacity="0.68" stroke="#6cb0e2" stroke-opacity="0.68"/>
</g>
<g transform="translate(0 1.41) scale(1 0.9910)">
<polygon points="95.55,40.6 28.9,156.35 162.3,156.35" fill="none" stroke="#000" stroke-width="1.5" stroke-linejoin="miter" stroke-miterlimit="1.9"/>
<path d="M92.8 45.36L91.4 42.94M34.4 156.35L33 158.77M159.55 151.59L162.35 151.59M86.97 55.46L85.57 53.04M46.06 156.35L44.66 158.77M153.72 141.49L156.52 141.49M81.14 65.56L79.74 63.13M57.72 156.35L56.32 158.77M147.89 131.39L150.69 131.39M75.31 75.66L73.91 73.23M69.38 156.35L67.98 158.77M142.06 121.29L144.86 121.29M69.48 85.75L68.08 83.33M81.04 156.35L79.64 158.77M136.23 111.2L139.03 111.2M63.65 95.85L62.25 93.43M92.7 156.35L91.3 158.77M130.4 101.1L133.2 101.1M57.82 105.95L56.42 103.52M104.36 156.35L102.96 158.77M124.57 91L127.37 91M51.99 116.05L50.59 113.62M116.02 156.35L114.62 158.77M118.74 80.9L121.54 80.9M46.16 126.14L44.76 123.72M127.68 156.35L126.28 158.77M112.91 70.81L115.71 70.81M40.33 136.24L38.93 133.82M139.34 156.35L137.94 158.77M107.08 60.71L109.88 60.71M34.5 146.34L33.1 143.91M151 156.35L149.6 158.77M101.25 50.61L104.05 50.61" stroke="#000" stroke-width="0.9" fill="none"/>
<text x="0" y="0" font-size="9.7" text-anchor="end" transform="translate(88.3 43.06) scale(0.9 1)" fill="#222" stroke="#222" stroke-width="0.22">0</text>
<text x="0" y="0" font-size="9.7" text-anchor="middle" transform="translate(33.2 170.15) scale(0.9 1)" fill="#222" stroke="#222" stroke-width="0.22">0</text>
<text x="0" y="0" font-size="9.7" text-anchor="start" transform="translate(166.45 154.39) scale(0.9 1)" fill="#222" stroke="#222" stroke-width="0.22">0</text>
<text x="0" y="0" font-size="9.7" text-anchor="end" transform="translate(76.64 63.26) scale(0.9 1)" fill="#222" stroke="#222" stroke-width="0.22">20</text>
<text x="0" y="0" font-size="9.7" text-anchor="middle" transform="translate(56.52 170.15) scale(0.9 1)" fill="#222" stroke="#222" stroke-width="0.22">20</text>
<text x="0" y="0" font-size="9.7" text-anchor="start" transform="translate(154.79 134.19) scale(0.9 1)" fill="#222" stroke="#222" stroke-width="0.22">20</text>
<text x="0" y="0" font-size="9.7" text-anchor="end" transform="translate(64.98 83.45) scale(0.9 1)" fill="#222" stroke="#222" stroke-width="0.22">40</text>
<text x="0" y="0" font-size="9.7" text-anchor="middle" transform="translate(79.84 170.15) scale(0.9 1)" fill="#222" stroke="#222" stroke-width="0.22">40</text>
<text x="0" y="0" font-size="9.7" text-anchor="start" transform="translate(143.13 114) scale(0.9 1)" fill="#222" stroke="#222" stroke-width="0.22">40</text>
<text x="0" y="0" font-size="9.7" text-anchor="end" transform="translate(53.32 103.65) scale(0.9 1)" fill="#222" stroke="#222" stroke-width="0.22">60</text>
<text x="0" y="0" font-size="9.7" text-anchor="middle" transform="translate(103.16 170.15) scale(0.9 1)" fill="#222" stroke="#222" stroke-width="0.22">60</text>
<text x="0" y="0" font-size="9.7" text-anchor="start" transform="translate(131.47 93.8) scale(0.9 1)" fill="#222" stroke="#222" stroke-width="0.22">60</text>
<text x="0" y="0" font-size="9.7" text-anchor="end" transform="translate(41.66 123.84) scale(0.9 1)" fill="#222" stroke="#222" stroke-width="0.22">80</text>
<text x="0" y="0" font-size="9.7" text-anchor="middle" transform="translate(126.48 170.15) scale(0.9 1)" fill="#222" stroke="#222" stroke-width="0.22">80</text>
<text x="0" y="0" font-size="9.7" text-anchor="start" transform="translate(119.81 73.61) scale(0.9 1)" fill="#222" stroke="#222" stroke-width="0.22">80</text>
<text x="0" y="0" font-size="9.7" text-anchor="end" transform="translate(30 144.04) scale(0.9 1)" fill="#222" stroke="#222" stroke-width="0.22">100</text>
<text x="0" y="0" font-size="9.7" text-anchor="middle" transform="translate(149.8 170.15) scale(0.9 1)" fill="#222" stroke="#222" stroke-width="0.22">100</text>
<text x="0" y="0" font-size="9.7" text-anchor="start" transform="translate(108.15 53.41) scale(0.9 1)" fill="#222" stroke="#222" stroke-width="0.22">100</text>
<text x="0" y="0" font-size="9" text-anchor="middle" font-weight="bold" transform="translate(95.45 35.4) scale(0.85 1)" fill="#111" stroke="#111" stroke-width="0.3">T</text>
<text x="14.9" y="163.8" font-size="9" text-anchor="middle" font-weight="bold" fill="#111" stroke="#111" stroke-width="0.3">GM</text>
<text x="175.1" y="164.05" font-size="9" text-anchor="middle" font-weight="bold" fill="#111" stroke="#111" stroke-width="0.3">BK</text>
<line x1="51.8" y1="66.9" x2="24.91" y2="113.27" stroke="#111" stroke-width="1.25"/><polygon points="22.8,116.9 23.12,111.07 25.01,113.09 27.7,113.73" fill="#111"/>
<line x1="170.6" y1="124.2" x2="144" y2="78.04" stroke="#111" stroke-width="1.25"/><polygon points="141.9,74.4 146.79,77.58 144.1,78.21 142.2,80.23" fill="#111"/>
<line x1="68.9" y1="175.1" x2="122.4" y2="175.1" stroke="#111" stroke-width="1.25"/><polygon points="126.6,175.1 121.4,177.75 122.2,175.1 121.4,172.45" fill="#111"/>
<text x="34.14" y="88.55" font-size="9" text-anchor="middle" font-weight="bold" transform="rotate(-60 34.14 88.55)" fill="#111" stroke="#111" stroke-width="0.3">GM</text>
<text x="161.96" y="99.75" font-size="9" text-anchor="middle" font-weight="bold" transform="rotate(60 161.96 99.75)" fill="#111" stroke="#111" stroke-width="0.3">T</text>
<text x="95.55" y="185.6" font-size="8.6" text-anchor="middle" font-weight="bold" fill="#111" stroke="#111" stroke-width="0.3">BK</text>
</g>
<circle cx="196.1" cy="70.3" r="3.5" fill="#4a2672"/>
<text x="0" y="0" font-size="8.2" text-anchor="start" transform="translate(204.7 73.15) scale(0.94 1)" fill="#222" stroke="#222" stroke-width="0.22">GMBK-70.7%</text>
<circle cx="196.1" cy="79.7" r="3.5" fill="#2d4b8c"/>
<text x="0" y="0" font-size="8.2" text-anchor="start" transform="translate(204.7 82.55) scale(0.94 1)" fill="#222" stroke="#222" stroke-width="0.22">GM-18.7%</text>
<circle cx="196.1" cy="89.1" r="3.5" fill="#6cb0e2"/>
<text x="0" y="0" font-size="8.2" text-anchor="start" transform="translate(204.7 91.95) scale(0.94 1)" fill="#222" stroke="#222" stroke-width="0.22">K- 1.8%</text>
<circle cx="196.1" cy="98.5" r="3.5" fill="#aa0a32"/>
<text x="0" y="0" font-size="8.2" text-anchor="start" transform="translate(204.7 101.35) scale(0.94 1)" fill="#222" stroke="#222" stroke-width="0.22">T- 8.8%</text>
<text x="0" y="0" font-size="8.2" text-anchor="start" transform="translate(190.6 118.75) scale(0.95 1)" fill="#222" stroke="#222" stroke-width="0.22">IS number</text>
<circle cx="196" cy="127.6" r="1.5" fill="#000"/>
<text x="0" y="0" font-size="8.2" text-anchor="start" transform="translate(204.9 130.45) scale(0.95 1)" fill="#222" stroke="#222" stroke-width="0.22">1</text>
<circle cx="195.8" cy="138.3" r="5.3" fill="#000"/>
<text x="0" y="0" font-size="8.2" text-anchor="start" transform="translate(204.9 141.15) scale(0.95 1)" fill="#222" stroke="#222" stroke-width="0.22">4</text>
</g>
<rect x="0.5" y="0.5" width="519" height="392" fill="none" stroke="#000" stroke-width="1.2"/>
</svg>
</body></html>
